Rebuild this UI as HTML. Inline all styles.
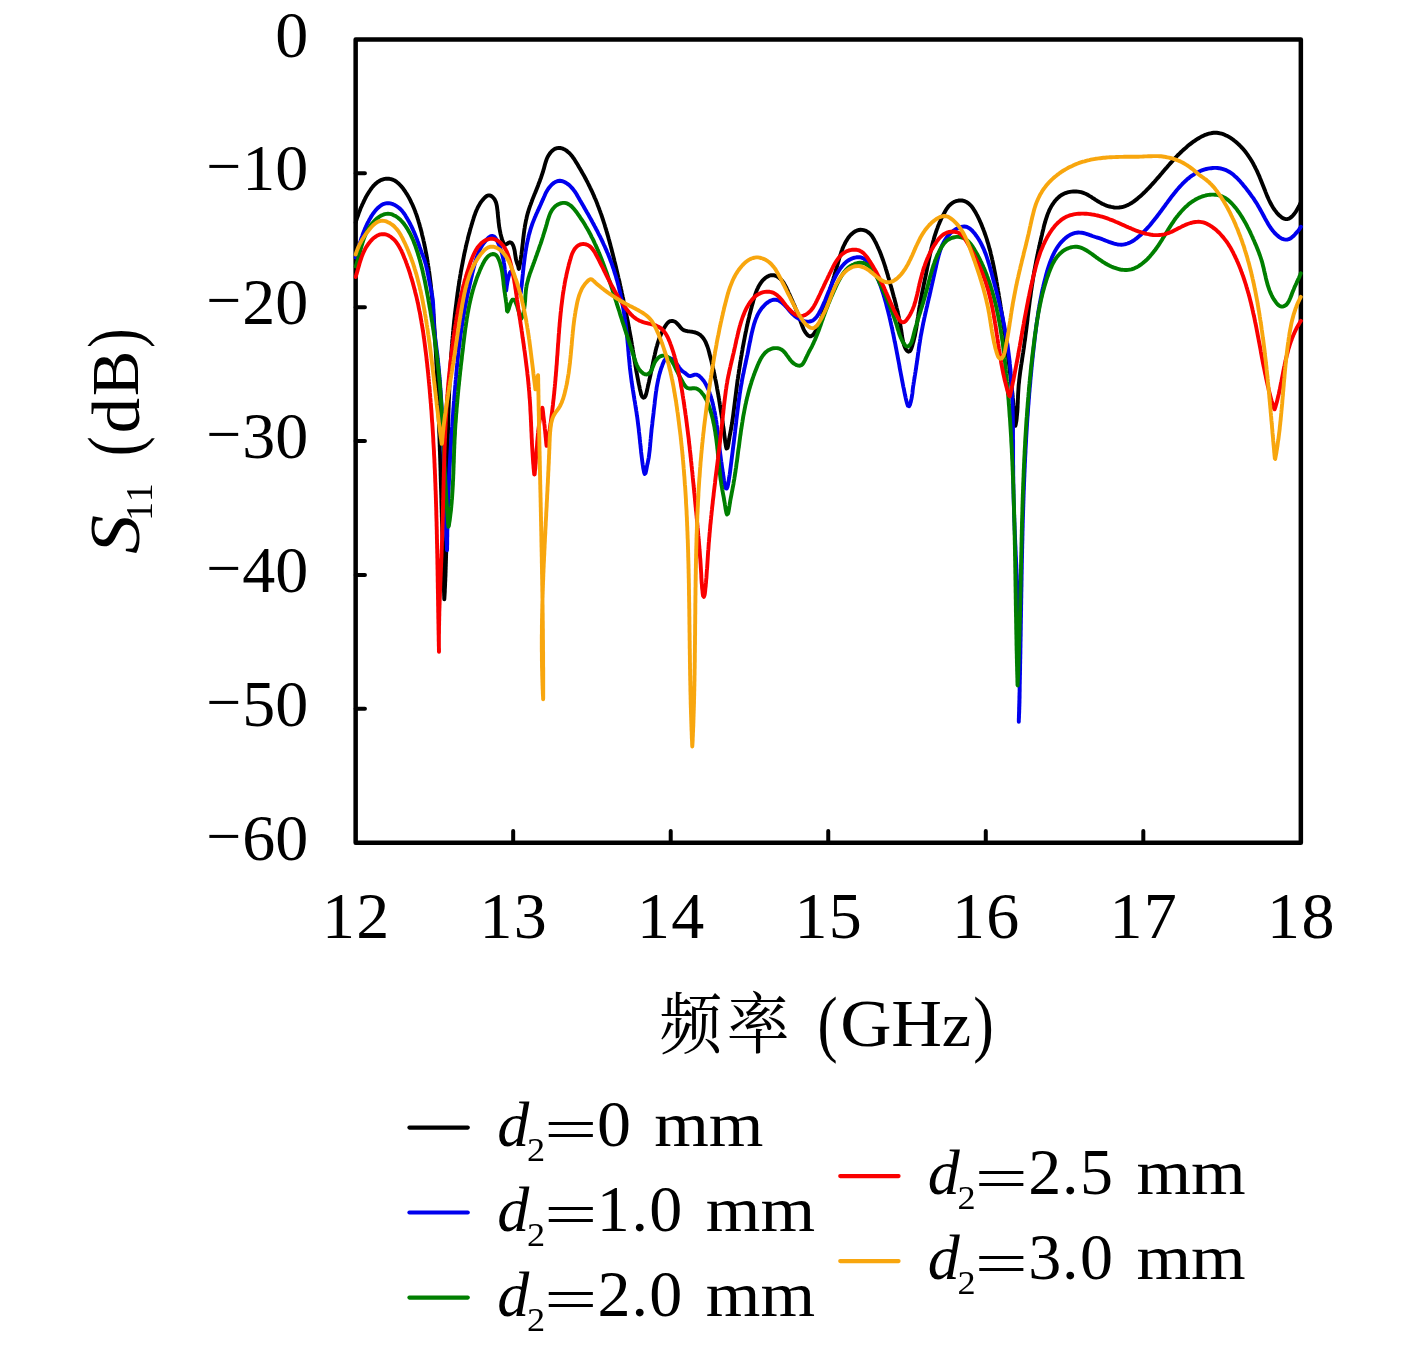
<!DOCTYPE html>
<html lang="zh"><head><meta charset="utf-8">
<style>html,body{margin:0;padding:0;background:#fff}svg{display:block}text{font-family:"Liberation Serif","Noto Serif CJK SC",serif;fill:#000}.cj{font-family:"Noto Serif CJK SC","Liberation Serif",serif}.it{font-style:italic}</style></head><body>
<svg width="1417" height="1350" viewBox="0 0 1417 1350">
<rect width="1417" height="1350" fill="#fff"/>
<rect x="355.65" y="39.50" width="945.20" height="803.20" fill="none" stroke="#000" stroke-width="4.50" stroke-linejoin="round"/>
<path d="M355.65 173.37H364.95M355.65 307.23H364.95M355.65 441.10H364.95M355.65 574.97H364.95M355.65 708.83H364.95M513.18 842.70V831.10M670.72 842.70V831.10M828.25 842.70V831.10M985.78 842.70V831.10M1143.32 842.70V831.10" stroke="#000" stroke-width="4" stroke-linecap="round" fill="none"/>
<g fill="none" stroke-width="3.9" stroke-linejoin="round" stroke-linecap="round">
<path stroke="#000000" d="M355.7 222.5L356.1 221.0 356.6 219.5 357.1 217.9 357.7 216.4 358.2 214.9 358.7 213.4 359.3 211.9 359.9 210.4 360.4 208.9 361.0 207.4 361.7 206.0 362.3 204.5 363.0 203.1 363.7 201.6 364.4 200.2 365.1 198.7 365.8 197.3 366.6 195.9 367.4 194.5 368.2 193.2 369.1 191.8 370.0 190.5 370.9 189.2 371.8 187.9 372.8 186.6 373.9 185.4 375.0 184.3 376.2 183.2 377.4 182.2 378.8 181.3 380.1 180.5 381.6 179.8 383.1 179.3 384.6 178.9 386.2 178.7 387.8 178.6 389.4 178.8 391.0 179.1 392.5 179.6 394.0 180.2 395.3 181.0 396.7 181.9 397.9 182.9 399.1 184.0 400.2 185.2 401.3 186.3 402.3 187.6 403.3 188.8 404.2 190.1 405.1 191.4 406.0 192.8 406.9 194.1 407.7 195.5 408.5 196.9 409.3 198.3 410.0 199.7 410.7 201.1 411.4 202.6 412.1 204.0 412.8 205.5 413.4 206.9 414.0 208.4 414.6 209.9 415.2 211.4 415.7 212.9 416.3 214.4 416.8 215.9 417.3 217.4 417.8 219.0 418.3 220.5 418.7 222.0 419.2 223.6 419.6 225.1 420.0 226.6 420.5 228.2 420.9 229.7 421.3 231.3 421.7 232.8 422.0 234.4 422.4 235.9 422.8 237.5 423.2 239.0 423.5 240.6 423.9 242.2 424.2 243.7 424.5 245.3 424.9 246.9 425.2 248.4 425.5 250.0 425.8 251.6 426.1 253.1 426.4 254.7 426.7 256.3 426.9 257.9 427.2 259.4 427.5 261.0 427.7 262.6 428.0 264.2 428.2 265.8 428.5 267.3 428.7 268.9 428.9 270.5 429.2 272.1 429.4 273.7 429.6 275.3 429.8 276.8 430.0 278.4 430.2 280.0 430.4 281.6 430.6 283.2 430.8 284.8 431.0 286.4 431.1 288.0 431.3 289.6 431.5 291.1 431.6 292.7 431.8 294.3 431.9 295.9 432.1 297.5 432.2 299.1 432.4 300.7 432.5 302.3 432.7 303.9 432.8 305.5 432.9 307.1 433.1 308.7 433.2 310.3 433.3 311.9 433.4 313.5 433.5 315.1 433.7 316.6 433.8 318.2 433.9 319.8 434.0 321.4 434.1 323.0 434.2 324.6 434.3 326.2 434.4 327.8 434.5 329.4 434.6 331.0 434.7 332.6 434.8 334.2 434.9 335.8 435.0 337.4 435.1 339.0 435.2 340.6 435.2 342.2 435.3 343.8 435.4 345.4 435.5 347.0 435.6 348.6 435.7 350.2 435.8 351.8 435.9 353.4 435.9 355.0 436.0 356.6 436.1 358.2 436.2 359.8 436.3 361.4 436.3 363.0 436.4 364.6 436.5 366.2 436.6 367.7 436.7 369.3 436.7 370.9 436.8 372.5 436.9 374.1 437.0 375.7 437.0 377.3 437.1 378.9 437.2 380.5 437.3 382.1 437.3 383.7 437.4 385.3 437.5 386.9 437.5 388.5 437.6 390.1 437.7 391.7 437.8 393.3 437.8 394.9 437.9 396.5 438.0 398.1 438.0 399.7 438.1 401.3 438.2 402.9 438.2 404.5 438.3 406.1 438.3 407.7 438.4 409.3 438.5 410.9 438.5 412.5 438.6 414.1 438.7 415.7 438.7 417.3 438.8 418.9 438.8 420.5 438.9 422.1 439.0 423.7 439.0 425.3 439.1 426.9 439.1 428.5 439.2 430.1 439.2 431.7 439.3 433.3 439.4 434.9 439.4 436.5 439.5 438.1 439.5 439.7 439.6 441.3 439.6 442.9 439.7 444.5 439.7 446.1 439.8 447.7 439.8 449.3 439.9 450.9 440.0 452.5 440.0 454.1 440.1 455.7 440.1 457.3 440.2 458.9 440.2 460.5 440.3 462.1 440.3 463.7 440.4 465.3 440.4 466.9 440.5 468.5 440.5 470.1 440.6 471.6 440.6 473.2 440.6 474.8 440.7 476.4 440.7 478.0 440.8 479.6 440.8 481.2 440.9 482.8 440.9 484.4 441.0 486.0 441.0 487.6 441.1 489.2 441.1 490.8 441.2 492.4 441.2 494.0 441.3 495.6 441.3 497.2 441.4 498.8 441.4 500.4 441.4 502.0 441.5 503.6 441.5 505.2 441.6 506.8 441.6 508.4 441.7 510.0 441.7 511.6 441.8 513.2 441.8 514.8 441.8 516.4 441.9 518.0 441.9 519.6 442.0 521.2 442.0 522.8 442.1 524.4 442.1 526.0 442.2 527.6 442.2 529.2 442.2 530.8 442.3 532.4 442.3 534.0 442.4 535.6 442.4 537.2 442.5 538.8 442.5 540.4 442.6 542.0 442.6 543.6 442.7 545.2 442.7 546.8 442.7 548.4 442.8 550.0 442.8 551.6 442.9 553.2 442.9 554.8 443.0 556.4 443.0 558.0 443.1 559.6 443.1 561.2 443.2 562.8 443.2 564.4 443.2 566.0 443.3 567.6 443.3 569.2 443.4 570.8 443.4 572.4 443.5 574.0 443.5 575.6 443.6 577.2 443.6 578.8 443.7 580.4 443.7 582.0 443.8 583.6 443.8 585.2 443.9 586.8 443.9 588.4 444.0 590.0 444.0 591.6 444.1 593.2 444.1 594.8 444.2 596.4 444.2 598.0 444.3 599.4 444.4 597.8 444.5 596.3 444.6 594.7 444.7 593.1 444.8 591.5 444.8 589.9 444.9 588.3 445.0 586.7 445.1 585.1 445.1 583.5 445.2 581.9 445.3 580.3 445.3 578.7 445.4 577.1 445.5 575.5 445.5 573.9 445.6 572.3 445.6 570.7 445.7 569.1 445.7 567.5 445.8 565.9 445.8 564.3 445.9 562.7 445.9 561.1 446.0 559.5 446.0 557.9 446.1 556.3 446.1 554.7 446.2 553.1 446.2 551.5 446.2 549.9 446.3 548.3 446.3 546.7 446.4 545.1 446.4 543.5 446.4 541.9 446.5 540.3 446.5 538.7 446.5 537.1 446.6 535.5 446.6 533.9 446.6 532.3 446.6 530.7 446.7 529.1 446.7 527.5 446.7 525.9 446.8 524.3 446.8 522.7 446.8 521.1 446.8 519.5 446.8 517.9 446.9 516.3 446.9 514.7 446.9 513.1 446.9 511.5 447.0 509.9 447.0 508.3 447.0 506.7 447.0 505.1 447.0 503.5 447.1 501.9 447.1 500.3 447.1 498.7 447.1 497.1 447.1 495.5 447.1 493.9 447.2 492.3 447.2 490.7 447.2 489.1 447.2 487.5 447.2 485.9 447.2 484.3 447.3 482.7 447.3 481.1 447.3 479.5 447.3 477.9 447.3 476.3 447.3 474.7 447.4 473.1 447.4 471.5 447.4 469.9 447.4 468.3 447.4 466.7 447.5 465.1 447.5 463.5 447.5 461.9 447.5 460.3 447.5 458.7 447.6 457.1 447.6 455.5 447.6 453.9 447.6 452.3 447.7 450.7 447.7 449.1 447.7 447.5 447.7 445.9 447.8 444.3 447.8 442.7 447.8 441.1 447.8 439.5 447.9 437.9 447.9 436.3 447.9 434.7 448.0 433.1 448.0 431.5 448.0 429.9 448.1 428.3 448.1 426.7 448.1 425.1 448.2 423.5 448.2 421.9 448.3 420.3 448.3 418.7 448.3 417.1 448.4 415.5 448.4 413.9 448.5 412.3 448.5 410.7 448.6 409.1 448.6 407.6 448.7 406.0 448.7 404.4 448.8 402.8 448.8 401.2 448.9 399.6 449.0 398.0 449.0 396.4 449.1 394.8 449.1 393.2 449.2 391.6 449.3 390.0 449.3 388.4 449.4 386.8 449.5 385.2 449.6 383.6 449.6 382.0 449.7 380.4 449.8 378.8 449.9 377.2 450.0 375.6 450.0 374.0 450.1 372.4 450.2 370.8 450.3 369.2 450.4 367.6 450.5 366.0 450.6 364.4 450.7 362.8 450.8 361.2 450.9 359.6 451.0 358.0 451.1 356.4 451.2 354.8 451.3 353.2 451.5 351.6 451.6 350.0 451.7 348.4 451.8 346.9 451.9 345.3 452.1 343.7 452.2 342.1 452.3 340.5 452.5 338.9 452.6 337.3 452.8 335.7 452.9 334.1 453.0 332.5 453.2 330.9 453.3 329.3 453.5 327.7 453.7 326.1 453.8 324.5 454.0 323.0 454.1 321.4 454.3 319.8 454.5 318.2 454.7 316.6 454.8 315.0 455.0 313.4 455.2 311.8 455.4 310.2 455.6 308.6 455.8 307.1 456.0 305.5 456.2 303.9 456.4 302.3 456.6 300.7 456.8 299.1 457.0 297.5 457.2 296.0 457.4 294.4 457.6 292.8 457.9 291.2 458.1 289.6 458.3 288.0 458.6 286.5 458.8 284.9 459.0 283.3 459.3 281.7 459.5 280.1 459.8 278.6 460.0 277.0 460.3 275.4 460.6 273.8 460.8 272.2 461.1 270.7 461.4 269.1 461.7 267.5 462.0 265.9 462.3 264.4 462.6 262.8 462.9 261.2 463.2 259.7 463.5 258.1 463.8 256.5 464.1 255.0 464.4 253.4 464.8 251.8 465.1 250.3 465.5 248.7 465.8 247.1 466.2 245.6 466.5 244.0 466.9 242.5 467.3 240.9 467.7 239.4 468.0 237.8 468.4 236.3 468.8 234.7 469.3 233.2 469.7 231.6 470.1 230.1 470.5 228.5 471.0 227.0 471.4 225.5 471.9 223.9 472.3 222.4 472.8 220.9 473.3 219.3 473.7 217.8 474.2 216.3 474.8 214.8 475.3 213.3 475.9 211.8 476.5 210.3 477.2 208.8 477.8 207.4 478.6 206.0 479.4 204.6 480.2 203.2 481.1 201.9 482.1 200.6 483.1 199.4 484.2 198.2 485.3 197.1 486.6 196.1 488.0 195.4 489.6 195.4 491.1 195.9 492.4 196.8 493.5 198.0 494.5 199.2 495.2 200.6 495.9 202.1 496.3 203.6 496.7 205.2 497.0 206.8 497.2 208.4 497.4 209.9 497.6 211.5 497.7 213.1 497.9 214.7 498.0 216.3 498.2 217.9 498.4 219.5 498.5 221.1 498.7 222.7 498.9 224.3 499.1 225.9 499.3 227.4 499.6 229.0 499.9 230.6 500.2 232.2 500.5 233.7 500.9 235.3 501.3 236.8 501.7 238.4 502.2 239.9 502.7 241.4 503.4 242.9 504.2 244.2 505.7 244.6 507.1 243.8 508.4 242.9 509.9 242.3 511.4 242.8 512.4 244.0 513.1 245.4 513.7 246.9 514.1 248.4 514.5 250.0 514.8 251.6 515.0 253.2 515.2 254.7 515.5 256.3 515.7 257.9 516.0 259.5 516.4 261.0 516.9 262.6 517.4 264.1 518.0 265.6 518.4 267.1 518.7 268.7 518.9 269.0 519.2 267.4 519.5 265.8 519.9 264.3 520.1 262.7 520.4 261.1 520.7 259.5 520.9 258.0 521.1 256.4 521.4 254.8 521.6 253.2 521.8 251.6 522.0 250.0 522.1 248.4 522.3 246.9 522.5 245.3 522.7 243.7 522.9 242.1 523.0 240.5 523.2 238.9 523.4 237.3 523.6 235.7 523.8 234.1 524.0 232.6 524.2 231.0 524.4 229.4 524.7 227.8 524.9 226.2 525.2 224.7 525.5 223.1 525.8 221.5 526.1 219.9 526.5 218.4 526.8 216.8 527.2 215.3 527.6 213.7 528.1 212.2 528.5 210.7 529.0 209.1 529.5 207.6 530.0 206.1 530.6 204.6 531.1 203.1 531.7 201.6 532.2 200.1 532.8 198.6 533.4 197.1 534.0 195.6 534.6 194.1 535.2 192.7 535.8 191.2 536.4 189.7 537.0 188.2 537.6 186.7 538.2 185.2 538.7 183.7 539.3 182.2 539.9 180.7 540.4 179.2 541.0 177.7 541.5 176.2 542.0 174.7 542.5 173.2 543.0 171.7 543.4 170.1 543.9 168.6 544.3 167.0 544.7 165.5 545.1 164.0 545.6 162.4 546.1 160.9 546.6 159.4 547.2 157.9 547.9 156.5 548.7 155.1 549.6 153.8 550.6 152.5 551.7 151.3 552.9 150.3 554.2 149.3 555.6 148.6 557.1 148.1 558.7 147.9 560.3 148.0 561.8 148.3 563.3 148.9 564.8 149.6 566.1 150.4 567.4 151.4 568.6 152.4 569.8 153.5 570.9 154.7 571.9 155.9 572.8 157.2 573.8 158.5 574.6 159.8 575.5 161.2 576.3 162.6 577.2 163.9 578.0 165.3 578.8 166.7 579.6 168.1 580.4 169.4 581.2 170.8 582.0 172.2 582.8 173.6 583.6 175.0 584.4 176.4 585.1 177.8 585.9 179.2 586.6 180.6 587.4 182.0 588.1 183.5 588.8 184.9 589.5 186.3 590.2 187.8 590.9 189.2 591.6 190.7 592.3 192.1 592.9 193.6 593.6 195.0 594.2 196.5 594.8 198.0 595.5 199.4 596.1 200.9 596.7 202.4 597.3 203.9 597.8 205.4 598.4 206.9 599.0 208.4 599.5 209.9 600.1 211.4 600.6 212.9 601.2 214.4 601.7 215.9 602.2 217.4 602.7 218.9 603.2 220.4 603.7 222.0 604.2 223.5 604.7 225.0 605.1 226.5 605.6 228.1 606.1 229.6 606.5 231.1 607.0 232.7 607.4 234.2 607.9 235.8 608.3 237.3 608.7 238.8 609.2 240.4 609.6 241.9 610.0 243.5 610.4 245.0 610.8 246.6 611.2 248.1 611.6 249.6 612.0 251.2 612.4 252.7 612.8 254.3 613.2 255.9 613.6 257.4 614.0 259.0 614.3 260.5 614.7 262.1 615.1 263.6 615.5 265.2 615.9 266.7 616.2 268.3 616.6 269.8 617.0 271.4 617.3 273.0 617.7 274.5 618.1 276.1 618.4 277.6 618.8 279.2 619.2 280.7 619.5 282.3 619.9 283.9 620.2 285.4 620.6 287.0 620.9 288.5 621.3 290.1 621.6 291.7 621.9 293.2 622.3 294.8 622.6 296.4 623.0 297.9 623.3 299.5 623.6 301.0 624.0 302.6 624.3 304.2 624.6 305.7 624.9 307.3 625.3 308.9 625.6 310.4 625.9 312.0 626.2 313.6 626.5 315.2 626.8 316.7 627.1 318.3 627.5 319.9 627.8 321.4 628.1 323.0 628.4 324.6 628.7 326.1 628.9 327.7 629.2 329.3 629.5 330.9 629.8 332.4 630.1 334.0 630.4 335.6 630.7 337.2 630.9 338.7 631.2 340.3 631.5 341.9 631.8 343.5 632.0 345.0 632.3 346.6 632.6 348.2 632.8 349.8 633.1 351.4 633.3 352.9 633.6 354.5 633.9 356.1 634.1 357.7 634.4 359.2 634.6 360.8 634.9 362.4 635.2 364.0 635.4 365.6 635.7 367.1 636.0 368.7 636.2 370.3 636.5 371.9 636.8 373.4 637.1 375.0 637.4 376.6 637.7 378.2 638.0 379.7 638.3 381.3 638.6 382.9 638.9 384.4 639.3 386.0 639.6 387.6 639.9 389.1 640.3 390.7 640.7 392.2 641.0 393.8 641.5 395.3 642.2 396.8 643.4 397.7 644.8 397.1 645.6 395.7 646.1 394.2 646.5 392.6 646.9 391.1 647.2 389.5 647.6 387.9 647.9 386.4 648.3 384.8 648.6 383.3 649.0 381.7 649.3 380.1 649.7 378.6 650.0 377.0 650.4 375.5 650.7 373.9 651.0 372.3 651.4 370.8 651.7 369.2 652.0 367.6 652.4 366.1 652.7 364.5 653.0 362.9 653.3 361.4 653.7 359.8 654.0 358.2 654.3 356.7 654.7 355.1 655.0 353.5 655.4 352.0 655.7 350.4 656.1 348.9 656.5 347.3 657.0 345.8 657.4 344.3 657.9 342.7 658.4 341.2 658.9 339.7 659.4 338.2 660.0 336.7 660.6 335.2 661.2 333.7 661.9 332.3 662.6 330.8 663.3 329.4 664.1 328.0 664.9 326.7 665.8 325.3 666.7 324.0 667.8 322.8 669.0 321.8 670.4 321.1 672.0 320.9 673.6 321.2 675.1 321.8 676.4 322.8 677.5 323.9 678.6 325.1 679.6 326.3 680.6 327.6 681.7 328.7 683.0 329.7 684.4 330.4 685.9 330.8 687.5 331.2 689.1 331.4 690.7 331.6 692.3 331.8 693.8 332.1 695.4 332.5 696.9 333.1 698.3 333.8 699.7 334.6 700.9 335.6 702.1 336.7 703.1 337.9 704.0 339.3 704.8 340.6 705.6 342.0 706.2 343.5 706.8 345.0 707.4 346.5 707.9 348.0 708.4 349.5 708.8 351.1 709.2 352.6 709.6 354.2 710.0 355.7 710.4 357.3 710.8 358.8 711.2 360.4 711.6 361.9 711.9 363.5 712.3 365.0 712.7 366.6 713.0 368.2 713.4 369.7 713.7 371.3 714.1 372.8 714.4 374.4 714.7 376.0 715.0 377.5 715.3 379.1 715.7 380.7 716.0 382.2 716.3 383.8 716.6 385.4 716.9 387.0 717.1 388.5 717.4 390.1 717.7 391.7 718.0 393.3 718.3 394.8 718.5 396.4 718.8 398.0 719.1 399.6 719.3 401.1 719.6 402.7 719.8 404.3 720.1 405.9 720.3 407.5 720.6 409.0 720.8 410.6 721.1 412.2 721.3 413.8 721.6 415.4 721.8 416.9 722.1 418.5 722.3 420.1 722.5 421.7 722.8 423.3 723.0 424.9 723.2 426.4 723.5 428.0 723.7 429.6 723.9 431.2 724.1 432.8 724.3 434.4 724.5 435.9 724.7 437.5 724.9 439.1 725.1 440.7 725.3 442.3 725.6 443.9 725.8 445.5 726.1 447.0 726.5 448.6 727.5 448.1 727.9 446.6 728.2 445.0 728.5 443.4 728.7 441.8 729.0 440.2 729.3 438.7 729.5 437.1 729.8 435.5 730.1 434.0 730.4 432.4 730.7 430.8 731.0 429.2 731.3 427.7 731.5 426.1 731.8 424.5 732.1 422.9 732.3 421.3 732.5 419.8 732.8 418.2 733.0 416.6 733.2 415.0 733.4 413.4 733.6 411.8 733.8 410.2 734.0 408.7 734.2 407.1 734.4 405.5 734.6 403.9 734.8 402.3 735.0 400.7 735.2 399.1 735.4 397.5 735.6 396.0 735.8 394.4 736.0 392.8 736.2 391.2 736.4 389.6 736.6 388.0 736.8 386.4 737.0 384.9 737.2 383.3 737.4 381.7 737.6 380.1 737.9 378.5 738.1 376.9 738.3 375.3 738.6 373.8 738.8 372.2 739.0 370.6 739.3 369.0 739.5 367.4 739.8 365.9 740.0 364.3 740.3 362.7 740.5 361.1 740.8 359.5 741.0 358.0 741.3 356.4 741.6 354.8 741.8 353.2 742.1 351.7 742.4 350.1 742.6 348.5 742.9 346.9 743.2 345.4 743.5 343.8 743.8 342.2 744.1 340.6 744.4 339.1 744.7 337.5 745.0 335.9 745.3 334.4 745.6 332.8 746.0 331.2 746.3 329.7 746.6 328.1 746.9 326.5 747.3 325.0 747.6 323.4 748.0 321.8 748.3 320.3 748.7 318.7 749.1 317.2 749.4 315.6 749.8 314.1 750.2 312.5 750.6 311.0 751.0 309.4 751.4 307.9 751.8 306.3 752.2 304.8 752.7 303.2 753.1 301.7 753.5 300.1 754.0 298.6 754.5 297.1 754.9 295.6 755.4 294.0 756.0 292.5 756.5 291.0 757.1 289.5 757.8 288.1 758.5 286.6 759.3 285.2 760.1 283.9 761.0 282.6 762.0 281.3 763.0 280.1 764.2 279.0 765.4 277.9 766.7 277.0 768.1 276.2 769.5 275.6 771.1 275.2 772.7 275.1 774.3 275.3 775.8 275.8 777.2 276.5 778.6 277.4 779.8 278.4 781.0 279.5 782.0 280.6 783.0 281.9 783.9 283.2 784.7 284.6 785.5 286.0 786.2 287.4 786.9 288.9 787.6 290.3 788.2 291.8 788.9 293.3 789.6 294.7 790.2 296.2 790.9 297.6 791.5 299.1 792.2 300.5 792.8 302.0 793.5 303.5 794.1 304.9 794.8 306.4 795.4 307.9 796.0 309.4 796.6 310.8 797.2 312.3 797.8 313.8 798.4 315.3 799.0 316.8 799.5 318.3 800.1 319.8 800.6 321.3 801.1 322.8 801.7 324.3 802.2 325.8 802.8 327.3 803.4 328.8 804.1 330.2 804.9 331.6 805.8 332.9 806.8 334.2 807.9 335.3 809.3 336.2 810.8 336.3 812.2 335.6 813.4 334.5 814.3 333.2 815.2 331.9 816.0 330.5 816.8 329.1 817.6 327.7 818.3 326.3 818.9 324.8 819.5 323.3 820.1 321.8 820.7 320.3 821.2 318.8 821.7 317.3 822.2 315.8 822.7 314.3 823.1 312.7 823.6 311.2 824.0 309.7 824.5 308.1 824.9 306.6 825.4 305.1 825.8 303.5 826.3 302.0 826.8 300.5 827.2 298.9 827.7 297.4 828.1 295.9 828.6 294.3 829.1 292.8 829.5 291.3 830.0 289.7 830.5 288.2 830.9 286.7 831.4 285.2 831.9 283.6 832.3 282.1 832.8 280.6 833.3 279.0 833.7 277.5 834.2 276.0 834.6 274.4 835.1 272.9 835.6 271.4 836.0 269.8 836.5 268.3 836.9 266.8 837.3 265.2 837.8 263.7 838.2 262.1 838.7 260.6 839.1 259.1 839.5 257.5 840.0 256.0 840.5 254.5 841.0 253.0 841.5 251.4 842.1 249.9 842.6 248.5 843.2 247.0 843.9 245.5 844.6 244.1 845.3 242.6 846.1 241.2 846.9 239.9 847.8 238.5 848.7 237.2 849.7 236.0 850.8 234.8 852.0 233.7 853.2 232.7 854.5 231.8 855.9 231.0 857.4 230.4 858.9 230.0 860.5 229.8 862.1 229.9 863.7 230.2 865.2 230.6 866.7 231.3 868.0 232.1 869.3 233.1 870.4 234.2 871.5 235.4 872.4 236.7 873.3 238.1 874.1 239.5 874.8 240.9 875.6 242.3 876.3 243.7 877.0 245.2 877.6 246.6 878.3 248.1 878.9 249.5 879.6 251.0 880.2 252.5 880.8 254.0 881.3 255.5 881.9 257.0 882.4 258.5 883.0 260.0 883.5 261.5 884.0 263.0 884.5 264.5 885.0 266.0 885.5 267.6 885.9 269.1 886.4 270.6 886.9 272.2 887.3 273.7 887.8 275.2 888.2 276.8 888.7 278.3 889.1 279.8 889.6 281.4 890.0 282.9 890.4 284.5 890.9 286.0 891.3 287.5 891.7 289.1 892.2 290.6 892.6 292.2 893.0 293.7 893.4 295.2 893.8 296.8 894.3 298.3 894.7 299.9 895.1 301.4 895.5 303.0 895.9 304.5 896.3 306.1 896.6 307.6 897.0 309.2 897.4 310.7 897.7 312.3 898.1 313.9 898.4 315.4 898.7 317.0 899.1 318.6 899.4 320.1 899.7 321.7 900.0 323.3 900.3 324.8 900.5 326.4 900.8 328.0 901.1 329.6 901.3 331.2 901.6 332.7 901.8 334.3 902.0 335.9 902.3 337.5 902.6 339.1 902.9 340.6 903.2 342.2 903.7 343.7 904.1 345.3 904.7 346.8 905.3 348.2 906.1 349.6 907.1 350.9 908.4 351.7 909.9 351.2 910.8 349.9 911.4 348.4 911.9 346.9 912.4 345.3 912.8 343.8 913.2 342.3 913.7 340.7 914.0 339.2 914.4 337.6 914.8 336.0 915.1 334.5 915.4 332.9 915.7 331.3 916.0 329.8 916.3 328.2 916.5 326.6 916.8 325.0 917.0 323.5 917.3 321.9 917.5 320.3 917.7 318.7 918.0 317.1 918.2 315.5 918.4 314.0 918.7 312.4 918.9 310.8 919.2 309.2 919.4 307.6 919.7 306.1 920.0 304.5 920.2 302.9 920.5 301.3 920.8 299.8 921.1 298.2 921.4 296.6 921.7 295.0 922.0 293.5 922.3 291.9 922.7 290.3 923.0 288.8 923.3 287.2 923.6 285.6 923.9 284.1 924.3 282.5 924.6 280.9 924.9 279.4 925.2 277.8 925.6 276.2 925.9 274.7 926.2 273.1 926.5 271.5 926.8 270.0 927.1 268.4 927.4 266.8 927.8 265.3 928.1 263.7 928.4 262.1 928.7 260.6 929.0 259.0 929.4 257.4 929.7 255.9 930.0 254.3 930.4 252.7 930.7 251.2 931.1 249.6 931.5 248.1 931.8 246.5 932.2 245.0 932.6 243.4 933.0 241.9 933.5 240.3 933.9 238.8 934.3 237.2 934.8 235.7 935.3 234.2 935.8 232.7 936.3 231.1 936.8 229.6 937.4 228.1 937.9 226.6 938.5 225.1 939.1 223.7 939.7 222.2 940.4 220.7 941.0 219.3 941.7 217.8 942.4 216.4 943.2 215.0 943.9 213.6 944.7 212.2 945.5 210.8 946.3 209.4 947.2 208.1 948.2 206.8 949.2 205.6 950.4 204.5 951.6 203.5 952.9 202.6 954.4 201.8 955.8 201.2 957.4 200.8 958.9 200.5 960.5 200.4 962.1 200.5 963.7 200.9 965.2 201.4 966.6 202.1 968.0 203.0 969.2 204.0 970.4 205.1 971.5 206.3 972.5 207.6 973.4 208.9 974.2 210.2 975.1 211.6 975.9 213.0 976.6 214.4 977.4 215.8 978.1 217.2 978.8 218.7 979.5 220.1 980.1 221.6 980.8 223.0 981.4 224.5 982.0 226.0 982.6 227.5 983.2 228.9 983.7 230.4 984.3 231.9 984.8 233.5 985.4 235.0 985.9 236.5 986.4 238.0 986.9 239.5 987.3 241.1 987.8 242.6 988.3 244.1 988.7 245.7 989.1 247.2 989.5 248.7 990.0 250.3 990.4 251.8 990.7 253.4 991.1 254.9 991.5 256.5 991.9 258.1 992.2 259.6 992.6 261.2 992.9 262.7 993.2 264.3 993.6 265.9 993.9 267.4 994.2 269.0 994.5 270.6 994.8 272.1 995.1 273.7 995.4 275.3 995.7 276.9 996.0 278.4 996.3 280.0 996.5 281.6 996.8 283.2 997.1 284.7 997.3 286.3 997.6 287.9 997.9 289.5 998.1 291.0 998.4 292.6 998.7 294.2 998.9 295.8 999.2 297.4 999.4 298.9 999.7 300.5 1000.0 302.1 1000.2 303.7 1000.5 305.3 1000.7 306.8 1001.0 308.4 1001.2 310.0 1001.5 311.6 1001.7 313.2 1002.0 314.7 1002.2 316.3 1002.5 317.9 1002.7 319.5 1002.9 321.1 1003.2 322.6 1003.4 324.2 1003.7 325.8 1003.9 327.4 1004.1 329.0 1004.4 330.5 1004.6 332.1 1004.8 333.7 1005.1 335.3 1005.3 336.9 1005.5 338.5 1005.7 340.0 1006.0 341.6 1006.2 343.2 1006.4 344.8 1006.6 346.4 1006.9 348.0 1007.1 349.6 1007.3 351.1 1007.5 352.7 1007.7 354.3 1007.9 355.9 1008.1 357.5 1008.3 359.1 1008.5 360.7 1008.8 362.2 1009.0 363.8 1009.2 365.4 1009.4 367.0 1009.5 368.6 1009.7 370.2 1009.9 371.8 1010.1 373.4 1010.3 374.9 1010.5 376.5 1010.7 378.1 1010.9 379.7 1011.1 381.3 1011.2 382.9 1011.4 384.5 1011.6 386.1 1011.8 387.7 1011.9 389.2 1012.1 390.8 1012.3 392.4 1012.4 394.0 1012.6 395.6 1012.7 397.2 1012.9 398.8 1013.1 400.4 1013.2 402.0 1013.4 403.6 1013.5 405.2 1013.7 406.8 1013.8 408.3 1013.9 409.9 1014.1 411.5 1014.2 413.1 1014.4 414.7 1014.5 416.3 1014.6 417.9 1014.7 419.5 1014.9 421.1 1015.0 422.7 1015.1 424.3 1015.3 425.9 1015.7 424.6 1016.0 423.0 1016.3 421.4 1016.5 419.9 1016.7 418.3 1016.8 416.7 1017.0 415.1 1017.1 413.5 1017.3 411.9 1017.4 410.3 1017.5 408.7 1017.6 407.1 1017.6 405.5 1017.7 403.9 1017.8 402.3 1017.8 400.7 1017.9 399.1 1018.0 397.5 1018.0 395.9 1018.1 394.3 1018.2 392.7 1018.3 391.1 1018.4 389.5 1018.5 387.9 1018.6 386.3 1018.7 384.8 1018.9 383.2 1019.1 381.6 1019.2 380.0 1019.4 378.4 1019.6 376.8 1019.8 375.2 1020.0 373.6 1020.2 372.0 1020.4 370.5 1020.7 368.9 1020.9 367.3 1021.1 365.7 1021.4 364.1 1021.6 362.5 1021.9 361.0 1022.1 359.4 1022.3 357.8 1022.6 356.2 1022.8 354.6 1023.1 353.1 1023.3 351.5 1023.5 349.9 1023.8 348.3 1024.0 346.7 1024.2 345.1 1024.4 343.6 1024.6 342.0 1024.9 340.4 1025.1 338.8 1025.3 337.2 1025.5 335.6 1025.7 334.0 1025.9 332.5 1026.1 330.9 1026.3 329.3 1026.5 327.7 1026.7 326.1 1026.9 324.5 1027.1 322.9 1027.3 321.3 1027.5 319.8 1027.6 318.2 1027.8 316.6 1028.0 315.0 1028.2 313.4 1028.4 311.8 1028.6 310.2 1028.8 308.6 1029.0 307.1 1029.2 305.5 1029.4 303.9 1029.6 302.3 1029.8 300.7 1030.0 299.1 1030.3 297.5 1030.5 296.0 1030.7 294.4 1030.9 292.8 1031.1 291.2 1031.4 289.6 1031.6 288.0 1031.8 286.4 1032.1 284.9 1032.3 283.3 1032.6 281.7 1032.8 280.1 1033.1 278.5 1033.3 277.0 1033.6 275.4 1033.9 273.8 1034.2 272.2 1034.4 270.7 1034.7 269.1 1035.0 267.5 1035.3 265.9 1035.6 264.4 1035.9 262.8 1036.2 261.2 1036.5 259.7 1036.8 258.1 1037.1 256.5 1037.5 255.0 1037.8 253.4 1038.1 251.8 1038.4 250.3 1038.8 248.7 1039.1 247.1 1039.5 245.6 1039.8 244.0 1040.2 242.5 1040.5 240.9 1040.9 239.3 1041.2 237.8 1041.6 236.2 1042.0 234.7 1042.3 233.1 1042.7 231.5 1043.1 230.0 1043.5 228.4 1043.8 226.9 1044.2 225.3 1044.6 223.8 1045.1 222.2 1045.5 220.7 1046.0 219.2 1046.5 217.7 1047.0 216.1 1047.5 214.6 1048.1 213.1 1048.7 211.7 1049.3 210.2 1050.0 208.8 1050.8 207.3 1051.6 205.9 1052.4 204.6 1053.3 203.3 1054.2 202.0 1055.2 200.7 1056.3 199.5 1057.4 198.4 1058.6 197.3 1059.8 196.2 1061.1 195.3 1062.5 194.5 1063.9 193.8 1065.4 193.1 1066.9 192.6 1068.4 192.2 1070.0 191.9 1071.6 191.6 1073.2 191.5 1074.8 191.5 1076.4 191.5 1077.9 191.6 1079.5 191.9 1081.1 192.2 1082.6 192.7 1084.1 193.2 1085.6 193.8 1087.1 194.5 1088.5 195.3 1089.8 196.1 1091.2 196.9 1092.5 197.8 1093.9 198.7 1095.2 199.6 1096.5 200.4 1097.9 201.3 1099.3 202.1 1100.7 202.9 1102.1 203.7 1103.5 204.3 1105.0 205.0 1106.5 205.6 1108.0 206.1 1109.5 206.5 1111.1 206.9 1112.6 207.2 1114.2 207.5 1115.8 207.6 1117.4 207.6 1119.0 207.5 1120.6 207.3 1122.2 207.0 1123.7 206.6 1125.2 206.1 1126.7 205.5 1128.2 204.9 1129.6 204.1 1131.0 203.3 1132.3 202.5 1133.6 201.6 1134.9 200.6 1136.2 199.6 1137.5 198.6 1138.7 197.6 1139.9 196.6 1141.1 195.5 1142.3 194.4 1143.4 193.3 1144.6 192.2 1145.7 191.1 1146.8 189.9 1148.0 188.8 1149.1 187.6 1150.2 186.5 1151.2 185.3 1152.3 184.1 1153.4 182.9 1154.5 181.7 1155.5 180.5 1156.6 179.3 1157.6 178.1 1158.7 176.9 1159.7 175.7 1160.7 174.5 1161.8 173.3 1162.8 172.1 1163.9 170.8 1164.9 169.6 1165.9 168.4 1167.0 167.2 1168.0 166.0 1169.1 164.8 1170.1 163.6 1171.2 162.4 1172.3 161.2 1173.3 160.0 1174.4 158.8 1175.5 157.7 1176.6 156.5 1177.7 155.3 1178.9 154.2 1180.0 153.1 1181.1 152.0 1182.3 150.9 1183.5 149.8 1184.7 148.7 1185.9 147.7 1187.1 146.6 1188.3 145.6 1189.5 144.6 1190.8 143.6 1192.1 142.6 1193.4 141.7 1194.7 140.8 1196.0 139.9 1197.3 139.0 1198.7 138.2 1200.1 137.4 1201.5 136.6 1202.9 135.9 1204.4 135.2 1205.9 134.7 1207.4 134.1 1208.9 133.7 1210.5 133.3 1212.1 133.0 1213.6 132.8 1215.2 132.8 1216.8 132.8 1218.4 133.0 1220.0 133.3 1221.6 133.7 1223.1 134.1 1224.6 134.7 1226.0 135.4 1227.5 136.1 1228.9 136.9 1230.2 137.7 1231.6 138.6 1232.9 139.5 1234.1 140.5 1235.4 141.5 1236.6 142.5 1237.8 143.6 1239.0 144.7 1240.1 145.8 1241.2 147.0 1242.3 148.1 1243.3 149.3 1244.4 150.6 1245.4 151.8 1246.4 153.1 1247.3 154.3 1248.2 155.7 1249.1 157.0 1250.0 158.3 1250.9 159.7 1251.7 161.0 1252.5 162.4 1253.3 163.8 1254.0 165.2 1254.8 166.6 1255.5 168.1 1256.2 169.5 1256.9 170.9 1257.6 172.4 1258.2 173.9 1258.9 175.3 1259.5 176.8 1260.1 178.3 1260.7 179.7 1261.3 181.2 1261.9 182.7 1262.5 184.2 1263.1 185.7 1263.7 187.2 1264.3 188.7 1264.9 190.2 1265.4 191.6 1266.0 193.1 1266.6 194.6 1267.2 196.1 1267.9 197.6 1268.5 199.0 1269.2 200.5 1269.9 201.9 1270.6 203.3 1271.4 204.7 1272.2 206.1 1273.0 207.5 1273.9 208.8 1274.8 210.1 1275.8 211.4 1276.8 212.7 1277.8 213.9 1278.9 215.0 1280.1 216.1 1281.3 217.1 1282.7 218.0 1284.1 218.7 1285.7 219.1 1287.2 219.1 1288.8 218.7 1290.2 217.9 1291.5 216.9 1292.6 215.8 1293.7 214.6 1294.6 213.4 1295.6 212.1 1296.4 210.7 1297.3 209.3 1298.0 207.9 1298.8 206.5 1299.5 205.1 1300.2 203.6 1300.9 202.2"/>
<path stroke="#0000ee" d="M355.7 257.5L356.1 256.0 356.6 254.4 357.0 252.9 357.5 251.4 357.9 249.8 358.3 248.3 358.8 246.8 359.2 245.2 359.7 243.7 360.2 242.2 360.6 240.6 361.1 239.1 361.6 237.6 362.2 236.1 362.7 234.6 363.2 233.1 363.8 231.6 364.4 230.1 365.0 228.6 365.7 227.1 366.3 225.7 367.0 224.2 367.7 222.8 368.5 221.4 369.2 220.0 370.0 218.6 370.8 217.2 371.6 215.8 372.5 214.5 373.4 213.2 374.4 211.9 375.4 210.6 376.4 209.4 377.5 208.3 378.7 207.2 379.9 206.2 381.2 205.2 382.6 204.4 384.1 203.8 385.6 203.4 387.2 203.2 388.8 203.2 390.4 203.4 391.9 203.8 393.4 204.4 394.9 205.1 396.2 205.9 397.6 206.8 398.8 207.7 400.0 208.8 401.2 209.9 402.2 211.1 403.2 212.4 404.2 213.7 405.1 215.0 405.9 216.4 406.7 217.7 407.5 219.1 408.3 220.5 409.1 221.9 409.8 223.3 410.6 224.7 411.3 226.2 412.0 227.6 412.7 229.1 413.3 230.5 414.0 232.0 414.6 233.4 415.2 234.9 415.8 236.4 416.4 237.9 417.0 239.4 417.5 240.9 418.1 242.4 418.6 243.9 419.1 245.4 419.6 246.9 420.2 248.4 420.7 250.0 421.2 251.5 421.8 253.0 422.4 254.4 423.0 255.9 423.5 257.4 424.1 258.9 424.6 260.4 425.1 262.0 425.5 263.5 426.0 265.0 426.3 266.6 426.7 268.2 427.1 269.7 427.4 271.3 427.7 272.9 428.0 274.4 428.3 276.0 428.6 277.6 428.9 279.1 429.2 280.7 429.5 282.3 429.8 283.8 430.1 285.4 430.5 287.0 430.8 288.5 431.1 290.1 431.4 291.7 431.7 293.3 432.0 294.8 432.3 296.4 432.5 298.0 432.7 299.6 432.9 301.2 433.0 302.8 433.2 304.4 433.2 305.9 433.3 307.5 433.4 309.1 433.4 310.7 433.4 312.3 433.5 313.9 433.5 315.5 433.5 317.1 433.6 318.7 433.6 320.3 433.7 321.9 433.8 323.5 433.9 325.1 434.0 326.7 434.1 328.3 434.3 329.9 434.5 331.5 434.6 333.1 434.8 334.7 435.0 336.3 435.2 337.9 435.4 339.4 435.6 341.0 435.8 342.6 436.0 344.2 436.2 345.8 436.4 347.4 436.6 349.0 436.8 350.6 437.0 352.1 437.2 353.7 437.4 355.3 437.6 356.9 437.7 358.5 437.9 360.1 438.1 361.7 438.2 363.3 438.4 364.9 438.5 366.5 438.7 368.1 438.9 369.6 439.0 371.2 439.1 372.8 439.3 374.4 439.4 376.0 439.6 377.6 439.7 379.2 439.8 380.8 440.0 382.4 440.1 384.0 440.2 385.6 440.3 387.2 440.4 388.8 440.6 390.4 440.7 392.0 440.8 393.6 440.9 395.2 441.0 396.8 441.1 398.3 441.2 399.9 441.3 401.5 441.4 403.1 441.5 404.7 441.6 406.3 441.7 407.9 441.8 409.5 441.9 411.1 441.9 412.7 442.0 414.3 442.1 415.9 442.2 417.5 442.3 419.1 442.3 420.7 442.4 422.3 442.5 423.9 442.6 425.5 442.6 427.1 442.7 428.7 442.8 430.3 442.8 431.9 442.9 433.5 443.0 435.1 443.0 436.7 443.1 438.3 443.1 439.9 443.2 441.5 443.3 443.1 443.3 444.7 443.4 446.3 443.4 447.9 443.5 449.5 443.5 451.1 443.6 452.7 443.6 454.3 443.7 455.9 443.7 457.5 443.8 459.1 443.8 460.7 443.9 462.3 443.9 463.9 444.0 465.5 444.0 467.1 444.1 468.7 444.1 470.3 444.2 471.9 444.2 473.5 444.3 475.1 444.3 476.7 444.4 478.3 444.4 479.9 444.4 481.5 444.5 483.1 444.5 484.7 444.6 486.3 444.6 487.9 444.7 489.5 444.7 491.1 444.8 492.7 444.8 494.3 444.9 495.9 444.9 497.5 445.0 499.0 445.0 500.6 445.1 502.2 445.1 503.8 445.2 505.4 445.2 507.0 445.3 508.6 445.3 510.2 445.4 511.8 445.4 513.4 445.5 515.0 445.5 516.6 445.6 518.2 445.7 519.8 445.7 521.4 445.8 523.0 445.8 524.6 445.9 526.2 446.0 527.8 446.0 529.4 446.1 531.0 446.2 532.6 446.2 534.2 446.3 535.8 446.4 537.4 446.5 539.0 446.5 540.6 446.6 542.2 446.7 543.8 446.8 545.4 446.9 547.0 446.9 548.6 447.0 550.2 447.1 549.2 447.1 547.6 447.1 546.0 447.2 544.4 447.2 542.8 447.2 541.2 447.2 539.6 447.2 538.0 447.3 536.4 447.3 534.8 447.3 533.2 447.3 531.6 447.4 530.0 447.4 528.4 447.4 526.8 447.5 525.2 447.5 523.6 447.6 522.0 447.6 520.4 447.6 518.8 447.7 517.3 447.7 515.7 447.8 514.1 447.8 512.5 447.9 510.9 447.9 509.3 448.0 507.7 448.0 506.1 448.1 504.5 448.1 502.9 448.2 501.3 448.2 499.7 448.3 498.1 448.3 496.5 448.4 494.9 448.5 493.3 448.5 491.7 448.6 490.1 448.7 488.5 448.7 486.9 448.8 485.3 448.9 483.7 448.9 482.1 449.0 480.5 449.1 478.9 449.1 477.3 449.2 475.7 449.3 474.1 449.4 472.5 449.5 470.9 449.5 469.3 449.6 467.7 449.7 466.1 449.8 464.5 449.9 462.9 450.0 461.3 450.0 459.7 450.1 458.1 450.2 456.5 450.3 454.9 450.4 453.3 450.5 451.7 450.6 450.1 450.7 448.5 450.8 446.9 450.9 445.3 451.0 443.7 451.1 442.1 451.2 440.6 451.3 439.0 451.4 437.4 451.5 435.8 451.6 434.2 451.7 432.6 451.8 431.0 451.9 429.4 452.0 427.8 452.2 426.2 452.3 424.6 452.4 423.0 452.5 421.4 452.6 419.8 452.7 418.2 452.8 416.6 453.0 415.0 453.1 413.4 453.2 411.8 453.3 410.2 453.4 408.6 453.6 407.0 453.7 405.4 453.8 403.9 453.9 402.3 454.1 400.7 454.2 399.1 454.3 397.5 454.4 395.9 454.6 394.3 454.7 392.7 454.8 391.1 455.0 389.5 455.1 387.9 455.2 386.3 455.4 384.7 455.5 383.1 455.6 381.5 455.8 379.9 455.9 378.3 456.1 376.7 456.2 375.2 456.3 373.6 456.5 372.0 456.6 370.4 456.8 368.8 456.9 367.2 457.1 365.6 457.2 364.0 457.4 362.4 457.5 360.8 457.7 359.2 457.9 357.6 458.0 356.0 458.2 354.5 458.4 352.9 458.5 351.3 458.7 349.7 458.9 348.1 459.1 346.5 459.3 344.9 459.5 343.3 459.7 341.7 459.9 340.2 460.1 338.6 460.3 337.0 460.5 335.4 460.7 333.8 461.0 332.2 461.2 330.7 461.4 329.1 461.7 327.5 461.9 325.9 462.2 324.3 462.4 322.7 462.7 321.2 462.9 319.6 463.2 318.0 463.4 316.4 463.7 314.9 464.0 313.3 464.3 311.7 464.5 310.1 464.8 308.6 465.1 307.0 465.4 305.4 465.7 303.8 466.0 302.3 466.3 300.7 466.6 299.1 466.9 297.6 467.3 296.0 467.6 294.4 467.9 292.9 468.2 291.3 468.6 289.7 468.9 288.2 469.3 286.6 469.6 285.0 470.0 283.5 470.3 281.9 470.7 280.4 471.0 278.8 471.4 277.2 471.8 275.7 472.1 274.1 472.5 272.6 472.9 271.0 473.3 269.5 473.7 267.9 474.1 266.4 474.5 264.8 474.9 263.3 475.4 261.7 475.8 260.2 476.3 258.7 476.8 257.2 477.3 255.7 477.9 254.2 478.5 252.7 479.1 251.2 479.8 249.8 480.5 248.3 481.3 246.9 482.1 245.6 483.0 244.2 483.9 242.9 484.9 241.7 485.9 240.4 487.0 239.2 488.1 238.1 489.3 237.1 490.7 236.2 492.2 235.9 493.8 236.3 495.0 237.4 495.9 238.7 496.7 240.0 497.5 241.5 498.1 242.9 498.8 244.4 499.4 245.8 500.0 247.3 500.5 248.8 501.0 250.4 501.5 251.9 502.0 253.4 502.4 255.0 502.7 256.5 503.1 258.1 503.4 259.6 503.7 261.2 503.9 262.8 504.2 264.4 504.4 266.0 504.6 267.6 504.7 269.2 504.9 270.7 505.0 272.3 505.1 273.9 505.2 275.5 505.3 277.1 505.4 278.7 505.4 280.3 505.5 281.9 505.6 283.5 505.7 285.1 505.7 286.7 505.8 288.3 505.9 289.9 506.2 290.5 506.4 289.0 506.6 287.4 506.8 285.8 507.1 284.2 507.3 282.6 507.6 281.1 508.0 279.5 508.3 277.9 508.7 276.4 509.1 274.8 509.6 273.3 510.4 271.9 511.7 271.6 512.7 272.9 513.3 274.3 513.8 275.8 514.4 277.4 514.9 278.9 515.3 280.4 515.8 281.9 516.2 283.5 516.7 285.0 517.1 286.5 517.6 288.1 518.1 289.6 518.7 291.1 519.3 292.6 520.1 293.9 520.8 292.8 521.0 291.2 521.1 289.6 521.3 288.0 521.5 286.5 521.7 284.9 521.9 283.3 522.0 281.7 522.2 280.1 522.4 278.5 522.5 276.9 522.7 275.3 522.9 273.7 523.0 272.1 523.2 270.5 523.4 269.0 523.5 267.4 523.7 265.8 523.9 264.2 524.1 262.6 524.3 261.0 524.5 259.4 524.7 257.8 524.9 256.3 525.1 254.7 525.4 253.1 525.6 251.5 525.9 249.9 526.1 248.4 526.4 246.8 526.7 245.2 527.0 243.6 527.3 242.1 527.7 240.5 528.0 238.9 528.4 237.4 528.7 235.8 529.1 234.3 529.6 232.7 530.0 231.2 530.4 229.7 530.9 228.1 531.4 226.6 531.9 225.1 532.4 223.6 533.0 222.1 533.6 220.6 534.2 219.1 534.8 217.6 535.4 216.2 536.0 214.7 536.7 213.2 537.4 211.8 538.0 210.3 538.7 208.9 539.4 207.4 540.0 206.0 540.7 204.5 541.3 203.0 542.0 201.6 542.6 200.1 543.3 198.6 543.9 197.2 544.6 195.7 545.2 194.3 545.9 192.8 546.7 191.4 547.5 190.0 548.4 188.7 549.3 187.4 550.3 186.2 551.4 185.0 552.6 183.9 553.9 182.9 555.2 182.1 556.7 181.4 558.2 181.0 559.8 180.8 561.4 181.0 562.9 181.4 564.4 182.0 565.8 182.8 567.2 183.6 568.5 184.6 569.7 185.6 570.8 186.7 571.9 187.9 573.0 189.1 573.9 190.3 574.9 191.6 575.8 193.0 576.6 194.3 577.4 195.7 578.2 197.1 579.0 198.5 579.8 199.9 580.6 201.2 581.4 202.6 582.2 204.0 583.0 205.4 583.8 206.8 584.6 208.2 585.4 209.6 586.2 211.0 587.0 212.4 587.8 213.7 588.6 215.1 589.3 216.5 590.1 217.9 590.9 219.3 591.7 220.7 592.4 222.1 593.2 223.5 594.0 225.0 594.7 226.4 595.5 227.8 596.2 229.2 597.0 230.6 597.7 232.0 598.4 233.5 599.1 234.9 599.9 236.3 600.6 237.7 601.3 239.2 602.0 240.6 602.7 242.1 603.3 243.5 604.0 245.0 604.7 246.4 605.3 247.9 606.0 249.3 606.6 250.8 607.2 252.3 607.9 253.8 608.5 255.2 609.1 256.7 609.7 258.2 610.2 259.7 610.8 261.2 611.4 262.7 611.9 264.2 612.4 265.7 612.9 267.2 613.5 268.7 614.0 270.3 614.4 271.8 614.9 273.3 615.4 274.8 615.9 276.4 616.3 277.9 616.7 279.4 617.2 281.0 617.6 282.5 618.0 284.1 618.4 285.6 618.8 287.2 619.2 288.7 619.5 290.3 619.9 291.8 620.3 293.4 620.6 295.0 620.9 296.5 621.3 298.1 621.6 299.7 621.9 301.2 622.2 302.8 622.5 304.4 622.8 305.9 623.1 307.5 623.4 309.1 623.6 310.7 623.9 312.2 624.1 313.8 624.4 315.4 624.6 317.0 624.8 318.6 625.1 320.2 625.3 321.7 625.5 323.3 625.7 324.9 625.9 326.5 626.1 328.1 626.3 329.7 626.5 331.3 626.7 332.9 626.8 334.4 627.0 336.0 627.2 337.6 627.3 339.2 627.5 340.8 627.6 342.4 627.8 344.0 627.9 345.6 628.1 347.2 628.2 348.8 628.3 350.4 628.5 352.0 628.6 353.6 628.7 355.2 628.9 356.7 629.0 358.3 629.2 359.9 629.3 361.5 629.5 363.1 629.6 364.7 629.8 366.3 629.9 367.9 630.1 369.5 630.3 371.1 630.5 372.7 630.7 374.3 630.9 375.8 631.1 377.4 631.3 379.0 631.5 380.6 631.7 382.2 632.0 383.8 632.2 385.3 632.4 386.9 632.7 388.5 632.9 390.1 633.2 391.7 633.4 393.2 633.7 394.8 633.9 396.4 634.2 398.0 634.4 399.6 634.7 401.1 635.0 402.7 635.2 404.3 635.5 405.9 635.7 407.5 636.0 409.0 636.2 410.6 636.5 412.2 636.7 413.8 636.9 415.4 637.2 417.0 637.4 418.5 637.6 420.1 637.8 421.7 638.0 423.3 638.2 424.9 638.4 426.5 638.6 428.1 638.8 429.6 638.9 431.2 639.1 432.8 639.3 434.4 639.5 436.0 639.6 437.6 639.8 439.2 640.0 440.8 640.1 442.4 640.3 444.0 640.5 445.6 640.6 447.1 640.8 448.7 641.0 450.3 641.1 451.9 641.3 453.5 641.5 455.1 641.7 456.7 641.9 458.3 642.1 459.9 642.3 461.4 642.5 463.0 642.7 464.6 643.0 466.2 643.2 467.8 643.5 469.4 643.8 470.9 644.1 472.5 644.7 473.9 645.6 473.0 646.0 471.4 646.3 469.8 646.6 468.3 646.9 466.7 647.2 465.1 647.6 463.6 647.9 462.0 648.2 460.4 648.5 458.9 648.8 457.3 649.0 455.7 649.2 454.1 649.4 452.5 649.6 450.9 649.8 449.3 649.9 447.7 650.1 446.2 650.2 444.6 650.3 443.0 650.5 441.4 650.6 439.8 650.8 438.2 650.9 436.6 651.1 435.0 651.2 433.4 651.4 431.8 651.5 430.2 651.7 428.6 651.9 427.0 652.1 425.5 652.3 423.9 652.4 422.3 652.6 420.7 652.8 419.1 653.0 417.5 653.2 415.9 653.4 414.3 653.6 412.7 653.7 411.2 653.9 409.6 654.1 408.0 654.3 406.4 654.5 404.8 654.7 403.2 654.8 401.6 655.0 400.0 655.2 398.4 655.4 396.9 655.6 395.3 655.8 393.7 656.0 392.1 656.3 390.5 656.5 388.9 656.7 387.3 657.0 385.8 657.3 384.2 657.6 382.6 657.9 381.1 658.2 379.5 658.6 377.9 658.9 376.4 659.3 374.8 659.7 373.3 660.2 371.7 660.6 370.2 661.1 368.7 661.6 367.2 662.2 365.7 662.7 364.2 663.3 362.7 664.0 361.2 664.9 359.9 665.9 358.7 667.3 358.0 668.9 357.9 670.5 358.4 671.9 359.1 673.1 360.1 674.3 361.1 675.5 362.3 676.5 363.5 677.4 364.8 678.3 366.1 679.2 367.5 680.1 368.8 681.1 370.0 682.3 371.1 683.6 372.0 684.9 372.9 686.2 373.9 687.4 374.9 688.7 375.8 690.3 376.1 691.8 375.7 693.3 375.1 694.8 374.6 696.4 374.6 697.9 375.2 699.2 376.0 700.4 377.1 701.5 378.2 702.6 379.5 703.6 380.7 704.5 382.0 705.3 383.4 706.1 384.8 706.8 386.2 707.5 387.7 708.2 389.1 708.8 390.6 709.3 392.1 709.8 393.6 710.4 395.1 710.8 396.7 711.3 398.2 711.7 399.7 712.2 401.3 712.6 402.8 713.0 404.4 713.3 405.9 713.7 407.5 714.0 409.1 714.3 410.6 714.7 412.2 715.0 413.8 715.2 415.3 715.5 416.9 715.8 418.5 716.0 420.1 716.3 421.7 716.5 423.2 716.7 424.8 717.0 426.4 717.2 428.0 717.4 429.6 717.6 431.2 717.8 432.7 718.0 434.3 718.1 435.9 718.3 437.5 718.5 439.1 718.7 440.7 718.9 442.3 719.1 443.9 719.2 445.5 719.4 447.0 719.6 448.6 719.8 450.2 720.0 451.8 720.2 453.4 720.4 455.0 720.6 456.6 720.8 458.2 721.0 459.7 721.2 461.3 721.5 462.9 721.7 464.5 721.9 466.1 722.1 467.7 722.4 469.3 722.6 470.8 722.8 472.4 723.1 474.0 723.3 475.6 723.5 477.2 723.8 478.7 724.0 480.3 724.3 481.9 724.5 483.5 724.8 485.1 725.1 486.6 725.6 488.2 726.7 488.6 727.4 487.2 727.8 485.6 728.1 484.1 728.4 482.5 728.7 480.9 728.9 479.3 729.2 477.7 729.4 476.2 729.7 474.6 729.9 473.0 730.1 471.4 730.3 469.8 730.5 468.2 730.7 466.7 730.9 465.1 731.1 463.5 731.3 461.9 731.5 460.3 731.7 458.7 731.9 457.1 732.1 455.5 732.3 454.0 732.5 452.4 732.7 450.8 732.9 449.2 733.1 447.6 733.3 446.0 733.5 444.4 733.7 442.9 733.9 441.3 734.1 439.7 734.3 438.1 734.5 436.5 734.7 434.9 734.9 433.3 735.1 431.7 735.2 430.1 735.4 428.6 735.6 427.0 735.8 425.4 736.0 423.8 736.2 422.2 736.3 420.6 736.5 419.0 736.7 417.4 736.9 415.8 737.1 414.3 737.3 412.7 737.5 411.1 737.7 409.5 737.9 407.9 738.1 406.3 738.3 404.7 738.5 403.1 738.7 401.6 738.9 400.0 739.2 398.4 739.4 396.8 739.6 395.2 739.8 393.6 740.1 392.1 740.3 390.5 740.6 388.9 740.8 387.3 741.1 385.7 741.4 384.2 741.7 382.6 741.9 381.0 742.2 379.4 742.5 377.9 742.8 376.3 743.1 374.7 743.5 373.2 743.8 371.6 744.1 370.0 744.4 368.5 744.8 366.9 745.1 365.3 745.5 363.8 745.8 362.2 746.1 360.6 746.5 359.1 746.8 357.5 747.1 356.0 747.5 354.4 747.8 352.8 748.1 351.3 748.4 349.7 748.7 348.1 749.0 346.5 749.3 345.0 749.6 343.4 750.0 341.8 750.3 340.3 750.6 338.7 750.9 337.1 751.2 335.6 751.6 334.0 751.9 332.4 752.3 330.9 752.7 329.3 753.1 327.8 753.5 326.2 753.9 324.7 754.4 323.2 754.9 321.6 755.4 320.1 756.0 318.6 756.6 317.2 757.2 315.7 757.9 314.3 758.7 312.9 759.5 311.5 760.4 310.1 761.3 308.8 762.3 307.6 763.4 306.4 764.5 305.2 765.6 304.1 766.8 303.1 768.1 302.1 769.5 301.3 770.9 300.5 772.4 300.0 774.0 299.7 775.6 299.7 777.1 300.0 778.6 300.5 780.0 301.3 781.3 302.2 782.6 303.2 783.8 304.3 784.9 305.4 786.0 306.6 787.0 307.8 788.1 309.0 789.1 310.3 790.1 311.5 791.2 312.7 792.3 313.8 793.5 314.9 794.7 316.0 795.9 316.9 797.3 317.9 798.6 318.7 800.0 319.5 801.5 320.1 803.0 320.7 804.5 321.1 806.1 321.4 807.7 321.6 809.3 321.5 810.9 321.3 812.3 320.7 813.7 319.9 814.9 318.8 816.0 317.6 817.0 316.4 817.9 315.0 818.7 313.7 819.5 312.3 820.2 310.9 821.0 309.4 821.7 308.0 822.4 306.6 823.0 305.1 823.7 303.7 824.3 302.2 825.0 300.7 825.6 299.3 826.2 297.8 826.8 296.3 827.4 294.8 828.0 293.3 828.6 291.8 829.2 290.4 829.8 288.9 830.4 287.4 831.1 285.9 831.7 284.5 832.3 283.0 833.0 281.5 833.7 280.1 834.4 278.7 835.1 277.2 835.8 275.8 836.6 274.4 837.4 273.0 838.2 271.7 839.1 270.3 840.0 269.0 840.9 267.7 841.9 266.4 842.9 265.2 844.0 264.0 845.2 262.9 846.4 261.8 847.6 260.9 849.0 260.0 850.4 259.2 851.8 258.6 853.3 258.0 854.9 257.6 856.4 257.3 858.0 257.2 859.6 257.2 861.2 257.5 862.7 258.1 864.1 258.9 865.4 259.8 866.6 260.9 867.7 262.0 868.7 263.3 869.7 264.5 870.7 265.8 871.6 267.1 872.4 268.5 873.3 269.8 874.1 271.2 874.8 272.6 875.6 274.0 876.3 275.5 877.0 276.9 877.6 278.4 878.3 279.8 878.9 281.3 879.4 282.8 880.0 284.3 880.6 285.8 881.1 287.3 881.6 288.8 882.1 290.4 882.6 291.9 883.1 293.4 883.6 294.9 884.0 296.5 884.5 298.0 884.9 299.5 885.4 301.1 885.8 302.6 886.2 304.1 886.6 305.7 887.0 307.2 887.4 308.8 887.8 310.3 888.2 311.9 888.6 313.4 889.0 315.0 889.4 316.6 889.7 318.1 890.1 319.7 890.4 321.2 890.8 322.8 891.1 324.4 891.5 325.9 891.8 327.5 892.2 329.0 892.5 330.6 892.8 332.2 893.2 333.7 893.5 335.3 893.8 336.9 894.1 338.4 894.4 340.0 894.7 341.6 895.1 343.1 895.4 344.7 895.7 346.3 896.0 347.9 896.3 349.4 896.6 351.0 896.9 352.6 897.2 354.1 897.5 355.7 897.8 357.3 898.1 358.9 898.4 360.4 898.7 362.0 899.0 363.6 899.3 365.1 899.5 366.7 899.8 368.3 900.1 369.9 900.4 371.4 900.7 373.0 901.0 374.6 901.3 376.2 901.6 377.7 901.9 379.3 902.2 380.9 902.5 382.4 902.8 384.0 903.1 385.6 903.4 387.1 903.8 388.7 904.1 390.3 904.4 391.9 904.7 393.4 905.0 395.0 905.4 396.5 905.7 398.1 906.1 399.7 906.5 401.2 906.9 402.8 907.4 404.3 907.9 405.8 909.1 406.3 909.9 404.9 910.3 403.4 910.8 401.9 911.1 400.3 911.5 398.7 911.8 397.2 912.0 395.6 912.3 394.0 912.5 392.4 912.6 390.8 912.8 389.2 913.0 387.6 913.2 386.1 913.5 384.5 913.7 382.9 914.0 381.3 914.2 379.7 914.5 378.2 914.7 376.6 915.0 375.0 915.2 373.4 915.5 371.8 915.7 370.3 916.0 368.7 916.2 367.1 916.4 365.5 916.7 363.9 916.9 362.3 917.1 360.8 917.4 359.2 917.6 357.6 917.8 356.0 918.0 354.4 918.2 352.8 918.5 351.3 918.7 349.7 918.9 348.1 919.1 346.5 919.4 344.9 919.6 343.3 919.9 341.8 920.1 340.2 920.4 338.6 920.6 337.0 920.9 335.4 921.2 333.9 921.5 332.3 921.8 330.7 922.1 329.2 922.4 327.6 922.7 326.0 923.0 324.5 923.3 322.9 923.7 321.3 924.0 319.8 924.3 318.2 924.7 316.6 925.0 315.1 925.4 313.5 925.7 311.9 926.1 310.4 926.4 308.8 926.8 307.3 927.2 305.7 927.5 304.1 927.9 302.6 928.2 301.0 928.6 299.5 928.9 297.9 929.3 296.4 929.7 294.8 930.0 293.2 930.4 291.7 930.7 290.1 931.1 288.6 931.4 287.0 931.8 285.4 932.1 283.9 932.5 282.3 932.8 280.7 933.2 279.2 933.5 277.6 933.9 276.1 934.2 274.5 934.6 272.9 934.9 271.4 935.3 269.8 935.6 268.3 936.0 266.7 936.3 265.1 936.7 263.6 937.0 262.0 937.4 260.5 937.8 258.9 938.2 257.4 938.6 255.8 939.0 254.3 939.5 252.7 940.0 251.2 940.5 249.7 941.0 248.2 941.6 246.7 942.2 245.2 942.9 243.8 943.6 242.4 944.4 241.0 945.2 239.6 946.1 238.3 947.1 237.0 948.1 235.7 949.2 234.5 950.3 233.4 951.5 232.3 952.7 231.3 954.0 230.4 955.3 229.5 956.7 228.7 958.1 228.0 959.6 227.4 961.1 226.9 962.7 226.6 964.3 226.5 965.9 226.7 967.4 227.2 968.8 227.9 970.1 228.8 971.4 229.9 972.5 231.0 973.5 232.2 974.6 233.4 975.5 234.7 976.5 236.0 977.4 237.3 978.3 238.7 979.1 240.0 979.9 241.4 980.7 242.8 981.4 244.2 982.1 245.6 982.8 247.1 983.5 248.6 984.1 250.0 984.7 251.5 985.3 253.0 985.9 254.5 986.4 256.0 986.9 257.5 987.4 259.0 987.9 260.5 988.4 262.1 988.9 263.6 989.3 265.1 989.8 266.7 990.2 268.2 990.6 269.8 991.1 271.3 991.5 272.8 991.9 274.4 992.3 275.9 992.7 277.5 993.1 279.0 993.5 280.6 994.0 282.1 994.4 283.7 994.8 285.2 995.2 286.8 995.6 288.3 996.0 289.8 996.4 291.4 996.8 292.9 997.2 294.5 997.6 296.0 998.0 297.6 998.3 299.2 998.7 300.7 999.1 302.3 999.5 303.8 999.8 305.4 1000.2 306.9 1000.6 308.5 1000.9 310.0 1001.3 311.6 1001.6 313.2 1002.0 314.7 1002.3 316.3 1002.7 317.9 1003.0 319.4 1003.3 321.0 1003.6 322.6 1003.9 324.1 1004.2 325.7 1004.5 327.3 1004.8 328.8 1005.1 330.4 1005.4 332.0 1005.7 333.6 1006.0 335.1 1006.2 336.7 1006.5 338.3 1006.7 339.9 1007.0 341.5 1007.2 343.0 1007.5 344.6 1007.7 346.2 1007.9 347.8 1008.1 349.4 1008.3 351.0 1008.5 352.5 1008.7 354.1 1008.9 355.7 1009.1 357.3 1009.3 358.9 1009.5 360.5 1009.7 362.1 1009.8 363.7 1010.0 365.3 1010.1 366.8 1010.3 368.4 1010.4 370.0 1010.6 371.6 1010.7 373.2 1010.9 374.8 1011.0 376.4 1011.1 378.0 1011.2 379.6 1011.3 381.2 1011.4 382.8 1011.5 384.4 1011.6 386.0 1011.7 387.6 1011.8 389.2 1011.9 390.8 1012.0 392.4 1012.1 394.0 1012.1 395.6 1012.2 397.2 1012.3 398.8 1012.3 400.4 1012.4 402.0 1012.5 403.6 1012.5 405.2 1012.6 406.8 1012.6 408.4 1012.6 410.0 1012.7 411.6 1012.7 413.2 1012.8 414.8 1012.8 416.4 1012.8 418.0 1012.8 419.6 1012.9 421.2 1012.9 422.8 1012.9 424.4 1012.9 426.0 1013.0 427.6 1013.0 429.2 1013.0 430.8 1013.0 432.4 1013.0 434.0 1013.0 435.6 1013.0 437.2 1013.0 438.8 1013.1 440.4 1013.1 442.0 1013.1 443.6 1013.1 445.2 1013.1 446.8 1013.1 448.3 1013.1 449.9 1013.1 451.5 1013.1 453.1 1013.1 454.7 1013.1 456.3 1013.1 457.9 1013.1 459.5 1013.1 461.1 1013.1 462.7 1013.1 464.3 1013.2 465.9 1013.2 467.5 1013.2 469.1 1013.2 470.7 1013.2 472.3 1013.2 473.9 1013.2 475.5 1013.3 477.1 1013.3 478.7 1013.3 480.3 1013.3 481.9 1013.3 483.5 1013.4 485.1 1013.4 486.7 1013.4 488.3 1013.5 489.9 1013.5 491.5 1013.5 493.1 1013.6 494.7 1013.6 496.3 1013.6 497.9 1013.7 499.5 1013.7 501.1 1013.8 502.7 1013.8 504.3 1013.9 505.9 1013.9 507.5 1014.0 509.1 1014.0 510.7 1014.1 512.3 1014.1 513.9 1014.2 515.5 1014.2 517.1 1014.3 518.7 1014.3 520.3 1014.4 521.9 1014.5 523.5 1014.5 525.1 1014.6 526.7 1014.6 528.3 1014.7 529.9 1014.8 531.5 1014.8 533.1 1014.9 534.7 1015.0 536.3 1015.0 537.9 1015.1 539.5 1015.2 541.1 1015.2 542.7 1015.3 544.3 1015.4 545.9 1015.5 547.5 1015.5 549.1 1015.6 550.7 1015.7 552.3 1015.7 553.9 1015.8 555.5 1015.9 557.1 1016.0 558.7 1016.0 560.3 1016.1 561.9 1016.2 563.5 1016.3 565.1 1016.3 566.7 1016.4 568.3 1016.5 569.9 1016.5 571.5 1016.6 573.1 1016.7 574.7 1016.8 576.3 1016.8 577.9 1016.9 579.5 1017.0 581.1 1017.1 582.6 1017.1 584.2 1017.2 585.8 1017.3 587.4 1017.4 589.0 1017.4 590.6 1017.5 592.2 1017.6 593.8 1017.6 595.4 1017.7 597.0 1017.8 598.6 1017.8 600.2 1017.9 601.8 1018.0 603.4 1018.0 605.0 1018.1 606.6 1018.2 608.2 1018.2 609.8 1018.3 611.4 1018.4 613.0 1018.4 614.6 1018.5 616.2 1018.6 617.8 1018.6 619.4 1018.7 621.0 1018.7 622.6 1018.8 624.2 1018.8 625.8 1018.9 627.4 1018.9 629.0 1019.0 630.6 1019.0 632.2 1019.1 633.8 1019.1 635.4 1019.2 637.0 1019.2 638.6 1019.3 640.2 1019.3 641.8 1019.3 643.4 1019.4 645.0 1019.4 646.6 1019.5 648.2 1019.5 649.8 1019.5 651.4 1019.6 653.0 1019.6 654.6 1019.6 656.2 1019.6 657.8 1019.7 659.4 1019.7 661.0 1019.7 662.6 1019.7 664.2 1019.7 665.8 1019.7 667.4 1019.7 669.0 1019.8 670.6 1019.8 672.2 1019.8 673.8 1019.8 675.4 1019.8 677.0 1019.8 678.6 1019.8 680.2 1019.8 681.8 1019.8 683.4 1019.7 685.0 1019.7 686.6 1019.7 688.2 1019.7 689.8 1019.7 691.4 1019.6 693.0 1019.6 694.6 1019.6 696.2 1019.6 697.8 1019.5 699.4 1019.5 701.0 1019.5 702.6 1019.4 704.2 1019.4 705.8 1019.3 707.4 1019.3 709.0 1019.2 710.6 1019.2 712.2 1019.1 713.8 1019.0 715.4 1019.0 717.0 1018.9 718.6 1018.8 720.2 1018.8 721.8 1018.8 720.6 1018.8 719.0 1018.9 717.4 1018.9 715.8 1019.0 714.2 1019.0 712.6 1019.1 711.0 1019.1 709.4 1019.1 707.8 1019.2 706.2 1019.2 704.6 1019.3 703.0 1019.3 701.4 1019.4 699.8 1019.4 698.2 1019.4 696.6 1019.5 695.0 1019.5 693.4 1019.6 691.8 1019.6 690.2 1019.6 688.6 1019.7 687.0 1019.7 685.4 1019.7 683.8 1019.8 682.3 1019.8 680.7 1019.9 679.1 1019.9 677.5 1019.9 675.9 1020.0 674.3 1020.0 672.7 1020.0 671.1 1020.1 669.5 1020.1 667.9 1020.1 666.3 1020.1 664.7 1020.2 663.1 1020.2 661.5 1020.2 659.9 1020.3 658.3 1020.3 656.7 1020.3 655.1 1020.4 653.5 1020.4 651.9 1020.4 650.3 1020.4 648.7 1020.5 647.1 1020.5 645.5 1020.5 643.9 1020.5 642.3 1020.6 640.7 1020.6 639.1 1020.6 637.5 1020.7 635.9 1020.7 634.3 1020.7 632.7 1020.7 631.1 1020.8 629.5 1020.8 627.9 1020.8 626.3 1020.8 624.7 1020.9 623.1 1020.9 621.5 1020.9 619.9 1020.9 618.3 1021.0 616.7 1021.0 615.1 1021.0 613.5 1021.0 611.9 1021.1 610.3 1021.1 608.7 1021.1 607.1 1021.1 605.5 1021.2 603.9 1021.2 602.3 1021.2 600.7 1021.2 599.1 1021.3 597.5 1021.3 595.9 1021.3 594.3 1021.3 592.7 1021.4 591.1 1021.4 589.5 1021.4 587.9 1021.5 586.3 1021.5 584.7 1021.5 583.1 1021.5 581.5 1021.6 579.9 1021.6 578.3 1021.6 576.7 1021.6 575.1 1021.7 573.5 1021.7 571.9 1021.7 570.3 1021.8 568.7 1021.8 567.1 1021.8 565.5 1021.8 563.9 1021.9 562.3 1021.9 560.7 1021.9 559.1 1022.0 557.5 1022.0 555.9 1022.0 554.3 1022.1 552.7 1022.1 551.1 1022.1 549.5 1022.2 547.9 1022.2 546.3 1022.2 544.7 1022.3 543.1 1022.3 541.5 1022.4 539.9 1022.4 538.3 1022.4 536.7 1022.5 535.1 1022.5 533.5 1022.5 531.9 1022.6 530.3 1022.6 528.7 1022.7 527.1 1022.7 525.5 1022.7 523.9 1022.8 522.3 1022.8 520.7 1022.9 519.1 1022.9 517.5 1023.0 515.9 1023.0 514.3 1023.1 512.7 1023.1 511.1 1023.2 509.5 1023.2 507.9 1023.3 506.3 1023.3 504.7 1023.4 503.1 1023.4 501.5 1023.5 499.9 1023.5 498.3 1023.6 496.7 1023.6 495.1 1023.7 493.5 1023.7 491.9 1023.8 490.3 1023.9 488.7 1023.9 487.1 1024.0 485.5 1024.0 483.9 1024.1 482.3 1024.2 480.7 1024.2 479.1 1024.3 477.5 1024.4 475.9 1024.4 474.3 1024.5 472.7 1024.6 471.2 1024.6 469.6 1024.7 468.0 1024.8 466.4 1024.8 464.8 1024.9 463.2 1025.0 461.6 1025.1 460.0 1025.1 458.4 1025.2 456.8 1025.3 455.2 1025.4 453.6 1025.5 452.0 1025.5 450.4 1025.6 448.8 1025.7 447.2 1025.8 445.6 1025.9 444.0 1026.0 442.4 1026.1 440.8 1026.1 439.2 1026.2 437.6 1026.3 436.0 1026.4 434.4 1026.5 432.8 1026.6 431.2 1026.7 429.6 1026.8 428.0 1026.9 426.4 1027.0 424.8 1027.1 423.2 1027.2 421.6 1027.3 420.0 1027.4 418.4 1027.5 416.8 1027.7 415.2 1027.8 413.7 1027.9 412.1 1028.0 410.5 1028.1 408.9 1028.2 407.3 1028.3 405.7 1028.5 404.1 1028.6 402.5 1028.7 400.9 1028.8 399.3 1029.0 397.7 1029.1 396.1 1029.2 394.5 1029.3 392.9 1029.5 391.3 1029.6 389.7 1029.7 388.1 1029.9 386.5 1030.0 384.9 1030.2 383.4 1030.3 381.8 1030.4 380.2 1030.6 378.6 1030.7 377.0 1030.9 375.4 1031.0 373.8 1031.2 372.2 1031.3 370.6 1031.5 369.0 1031.6 367.4 1031.8 365.8 1031.9 364.2 1032.1 362.6 1032.3 361.1 1032.4 359.5 1032.6 357.9 1032.8 356.3 1032.9 354.7 1033.1 353.1 1033.3 351.5 1033.5 349.9 1033.6 348.3 1033.8 346.7 1034.0 345.2 1034.2 343.6 1034.4 342.0 1034.5 340.4 1034.7 338.8 1034.9 337.2 1035.1 335.6 1035.3 334.0 1035.5 332.4 1035.7 330.9 1035.9 329.3 1036.1 327.7 1036.3 326.1 1036.5 324.5 1036.8 322.9 1037.0 321.3 1037.2 319.8 1037.4 318.2 1037.7 316.6 1037.9 315.0 1038.1 313.4 1038.4 311.9 1038.6 310.3 1038.9 308.7 1039.2 307.1 1039.4 305.5 1039.7 304.0 1040.0 302.4 1040.3 300.8 1040.6 299.2 1040.9 297.7 1041.2 296.1 1041.5 294.5 1041.8 293.0 1042.1 291.4 1042.5 289.8 1042.8 288.3 1043.2 286.7 1043.5 285.2 1043.9 283.6 1044.3 282.0 1044.7 280.5 1045.1 278.9 1045.5 277.4 1045.9 275.8 1046.3 274.3 1046.7 272.8 1047.2 271.2 1047.6 269.7 1048.1 268.2 1048.6 266.6 1049.1 265.1 1049.6 263.6 1050.1 262.1 1050.7 260.6 1051.3 259.1 1051.9 257.6 1052.5 256.2 1053.2 254.7 1053.9 253.3 1054.6 251.9 1055.4 250.5 1056.2 249.1 1057.1 247.7 1058.0 246.4 1058.9 245.1 1059.9 243.8 1060.9 242.6 1062.0 241.4 1063.1 240.3 1064.2 239.2 1065.4 238.1 1066.7 237.1 1068.0 236.2 1069.4 235.3 1070.8 234.6 1072.2 233.9 1073.7 233.4 1075.3 232.9 1076.8 232.7 1078.4 232.5 1080.0 232.6 1081.6 232.7 1083.2 233.0 1084.7 233.4 1086.3 233.8 1087.8 234.3 1089.3 234.9 1090.8 235.4 1092.3 236.0 1093.8 236.5 1095.3 237.0 1096.9 237.5 1098.4 237.9 1099.9 238.4 1101.4 238.9 1102.9 239.5 1104.4 240.1 1105.9 240.7 1107.4 241.3 1108.9 241.9 1110.4 242.4 1111.9 242.9 1113.4 243.4 1115.0 243.8 1116.5 244.2 1118.1 244.5 1119.7 244.6 1121.3 244.7 1122.9 244.6 1124.5 244.3 1126.0 244.0 1127.6 243.5 1129.0 242.9 1130.5 242.2 1131.9 241.5 1133.3 240.7 1134.6 239.8 1135.9 238.8 1137.2 237.9 1138.4 236.8 1139.6 235.8 1140.8 234.7 1142.0 233.6 1143.1 232.5 1144.2 231.4 1145.3 230.2 1146.4 229.1 1147.5 227.9 1148.6 226.7 1149.7 225.5 1150.7 224.3 1151.7 223.0 1152.7 221.8 1153.7 220.6 1154.7 219.3 1155.7 218.1 1156.7 216.8 1157.7 215.5 1158.6 214.2 1159.6 213.0 1160.5 211.7 1161.5 210.4 1162.4 209.1 1163.4 207.8 1164.3 206.5 1165.3 205.2 1166.2 203.9 1167.2 202.6 1168.1 201.3 1169.1 200.1 1170.0 198.8 1171.0 197.5 1171.9 196.2 1172.9 195.0 1173.9 193.7 1174.9 192.5 1175.9 191.2 1176.9 190.0 1178.0 188.8 1179.0 187.6 1180.1 186.4 1181.2 185.2 1182.3 184.0 1183.4 182.9 1184.6 181.8 1185.7 180.7 1186.9 179.6 1188.1 178.6 1189.4 177.6 1190.6 176.6 1191.9 175.7 1193.3 174.8 1194.6 173.9 1196.0 173.1 1197.4 172.4 1198.9 171.7 1200.3 171.0 1201.8 170.4 1203.3 169.9 1204.8 169.4 1206.4 169.0 1207.9 168.7 1209.5 168.4 1211.1 168.2 1212.7 168.0 1214.3 167.9 1215.9 167.9 1217.5 168.0 1219.1 168.2 1220.7 168.5 1222.2 168.8 1223.8 169.3 1225.3 169.8 1226.7 170.5 1228.1 171.2 1229.5 172.0 1230.9 172.9 1232.2 173.8 1233.4 174.8 1234.6 175.9 1235.8 176.9 1237.0 178.0 1238.1 179.2 1239.2 180.3 1240.3 181.5 1241.3 182.7 1242.4 183.9 1243.4 185.2 1244.4 186.4 1245.4 187.6 1246.4 188.9 1247.4 190.2 1248.4 191.4 1249.3 192.7 1250.3 194.0 1251.2 195.3 1252.1 196.6 1253.1 197.9 1254.0 199.2 1254.8 200.6 1255.7 201.9 1256.6 203.3 1257.4 204.6 1258.2 206.0 1259.0 207.4 1259.8 208.8 1260.6 210.2 1261.4 211.6 1262.1 213.0 1262.9 214.4 1263.6 215.8 1264.4 217.2 1265.1 218.6 1265.9 220.0 1266.7 221.4 1267.5 222.8 1268.3 224.2 1269.1 225.5 1270.0 226.9 1270.9 228.2 1271.9 229.5 1272.8 230.8 1273.9 232.0 1274.9 233.2 1276.1 234.3 1277.2 235.4 1278.5 236.4 1279.7 237.4 1281.1 238.2 1282.5 238.9 1284.1 239.4 1285.6 239.6 1287.2 239.6 1288.8 239.2 1290.2 238.5 1291.6 237.6 1292.8 236.6 1294.0 235.5 1295.1 234.3 1296.1 233.1 1297.2 231.9 1298.2 230.7 1299.2 229.4 1300.1 228.1 1300.9 226.7"/>
<path stroke="#007f00" d="M355.7 266.5L356.2 265.0 356.7 263.5 357.2 261.9 357.6 260.4 358.1 258.9 358.5 257.3 358.9 255.8 359.3 254.2 359.7 252.7 360.1 251.2 360.6 249.6 361.0 248.1 361.4 246.5 361.9 245.0 362.3 243.5 362.8 241.9 363.3 240.4 363.8 238.9 364.4 237.4 365.0 235.9 365.6 234.4 366.3 233.0 367.0 231.5 367.7 230.1 368.5 228.7 369.3 227.4 370.2 226.0 371.2 224.7 372.1 223.5 373.2 222.2 374.2 221.1 375.4 219.9 376.5 218.8 377.8 217.8 379.1 216.9 380.4 216.0 381.8 215.3 383.3 214.7 384.8 214.2 386.4 213.9 388.0 213.8 389.6 213.9 391.2 214.2 392.7 214.7 394.1 215.4 395.6 216.1 396.9 217.0 398.2 217.9 399.4 218.9 400.6 220.0 401.7 221.2 402.8 222.4 403.8 223.6 404.7 224.9 405.7 226.2 406.5 227.5 407.4 228.9 408.2 230.3 409.0 231.7 409.8 233.1 410.5 234.5 411.2 235.9 411.9 237.4 412.5 238.8 413.2 240.3 413.8 241.8 414.3 243.3 414.9 244.8 415.5 246.3 416.0 247.8 416.5 249.3 417.0 250.8 417.5 252.3 418.0 253.9 418.4 255.4 418.9 256.9 419.3 258.5 419.8 260.0 420.2 261.5 420.6 263.1 421.0 264.6 421.4 266.2 421.8 267.7 422.2 269.3 422.6 270.8 422.9 272.4 423.3 274.0 423.6 275.5 424.0 277.1 424.3 278.7 424.7 280.2 425.0 281.8 425.3 283.4 425.6 284.9 425.9 286.5 426.2 288.1 426.5 289.6 426.8 291.2 427.1 292.8 427.4 294.3 427.7 295.9 428.0 297.5 428.3 299.1 428.5 300.6 428.8 302.2 429.1 303.8 429.4 305.4 429.6 306.9 429.9 308.5 430.2 310.1 430.5 311.7 430.7 313.3 431.0 314.8 431.2 316.4 431.5 318.0 431.7 319.6 432.0 321.2 432.3 322.7 432.5 324.3 432.7 325.9 433.0 327.5 433.2 329.1 433.5 330.6 433.7 332.2 433.9 333.8 434.2 335.4 434.4 337.0 434.6 338.6 434.8 340.1 435.1 341.7 435.3 343.3 435.5 344.9 435.7 346.5 435.9 348.1 436.1 349.7 436.3 351.2 436.5 352.8 436.7 354.4 436.9 356.0 437.1 357.6 437.3 359.2 437.5 360.8 437.6 362.4 437.8 363.9 438.0 365.5 438.2 367.1 438.3 368.7 438.5 370.3 438.7 371.9 438.8 373.5 439.0 375.1 439.1 376.7 439.3 378.3 439.4 379.9 439.6 381.5 439.7 383.1 439.8 384.6 440.0 386.2 440.1 387.8 440.2 389.4 440.4 391.0 440.5 392.6 440.6 394.2 440.7 395.8 440.8 397.4 441.0 399.0 441.1 400.6 441.2 402.2 441.3 403.8 441.4 405.4 441.5 407.0 441.6 408.6 441.7 410.2 441.8 411.8 441.9 413.4 442.0 415.0 442.1 416.6 442.2 418.2 442.3 419.8 442.4 421.4 442.5 423.0 442.5 424.5 442.6 426.1 442.7 427.7 442.8 429.3 442.9 430.9 443.0 432.5 443.1 434.1 443.1 435.7 443.2 437.3 443.3 438.9 443.4 440.5 443.5 442.1 443.5 443.7 443.6 445.3 443.7 446.9 443.8 448.5 443.8 450.1 443.9 451.7 444.0 453.3 444.1 454.9 444.1 456.5 444.2 458.1 444.3 459.7 444.4 461.3 444.5 462.9 444.5 464.5 444.6 466.1 444.7 467.7 444.8 469.3 444.8 470.9 444.9 472.5 445.0 474.1 445.1 475.7 445.2 477.3 445.2 478.9 445.3 480.5 445.4 482.1 445.5 483.7 445.6 485.3 445.7 486.9 445.8 488.5 445.9 490.1 445.9 491.7 446.0 493.2 446.1 494.8 446.2 496.4 446.3 498.0 446.4 499.6 446.5 501.2 446.6 502.8 446.7 504.4 446.8 506.0 446.9 507.6 447.1 509.2 447.2 510.8 447.3 512.4 447.4 514.0 447.5 515.6 447.6 517.2 447.8 518.8 447.9 520.4 448.0 522.0 448.1 523.6 448.3 525.2 448.4 526.8 448.9 525.7 449.1 524.1 449.3 522.6 449.6 521.0 449.8 519.4 450.0 517.8 450.2 516.2 450.4 514.6 450.6 513.0 450.8 511.4 451.0 509.9 451.1 508.3 451.3 506.7 451.4 505.1 451.6 503.5 451.7 501.9 451.8 500.3 452.0 498.7 452.1 497.1 452.2 495.5 452.3 493.9 452.4 492.3 452.5 490.7 452.6 489.1 452.7 487.5 452.8 485.9 452.9 484.3 452.9 482.7 453.0 481.1 453.1 479.5 453.2 477.9 453.2 476.3 453.3 474.7 453.4 473.1 453.4 471.5 453.5 469.9 453.5 468.3 453.6 466.8 453.6 465.2 453.7 463.6 453.8 462.0 453.8 460.4 453.9 458.8 453.9 457.2 454.0 455.6 454.0 454.0 454.1 452.4 454.1 450.8 454.2 449.2 454.3 447.6 454.3 446.0 454.4 444.4 454.5 442.8 454.5 441.2 454.6 439.6 454.7 438.0 454.8 436.4 454.9 434.8 455.0 433.2 455.0 431.6 455.1 430.0 455.2 428.4 455.3 426.8 455.4 425.2 455.5 423.6 455.7 422.0 455.8 420.4 455.9 418.8 456.0 417.2 456.1 415.6 456.2 414.0 456.4 412.4 456.5 410.8 456.6 409.2 456.7 407.7 456.9 406.1 457.0 404.5 457.2 402.9 457.3 401.3 457.4 399.7 457.6 398.1 457.7 396.5 457.9 394.9 458.0 393.3 458.2 391.7 458.3 390.1 458.5 388.5 458.6 386.9 458.8 385.4 459.0 383.8 459.1 382.2 459.3 380.6 459.5 379.0 459.6 377.4 459.8 375.8 460.0 374.2 460.1 372.6 460.3 371.0 460.5 369.4 460.7 367.9 460.8 366.3 461.0 364.7 461.2 363.1 461.4 361.5 461.6 359.9 461.8 358.3 461.9 356.7 462.1 355.1 462.3 353.5 462.5 352.0 462.7 350.4 462.9 348.8 463.1 347.2 463.2 345.6 463.4 344.0 463.6 342.4 463.8 340.8 464.0 339.3 464.2 337.7 464.4 336.1 464.6 334.5 464.8 332.9 465.0 331.3 465.2 329.7 465.4 328.1 465.7 326.6 465.9 325.0 466.1 323.4 466.4 321.8 466.6 320.2 466.8 318.6 467.1 317.1 467.4 315.5 467.6 313.9 467.9 312.3 468.2 310.8 468.5 309.2 468.8 307.6 469.1 306.1 469.4 304.5 469.8 302.9 470.1 301.4 470.5 299.8 470.8 298.2 471.2 296.7 471.6 295.1 472.0 293.6 472.4 292.0 472.8 290.5 473.3 289.0 473.7 287.4 474.2 285.9 474.7 284.4 475.2 282.9 475.7 281.3 476.2 279.8 476.7 278.3 477.3 276.8 477.9 275.3 478.5 273.8 479.1 272.4 479.7 270.9 480.3 269.4 481.0 267.9 481.6 266.5 482.3 265.1 483.0 263.6 483.8 262.2 484.6 260.8 485.4 259.5 486.4 258.2 487.4 257.0 488.6 255.9 489.9 255.0 491.4 254.3 492.9 254.0 494.5 254.2 495.9 255.0 497.0 256.1 497.8 257.5 498.5 258.9 499.1 260.4 499.7 261.9 500.2 263.4 500.6 265.0 501.0 266.5 501.4 268.1 501.7 269.6 502.0 271.2 502.3 272.8 502.5 274.4 502.7 276.0 502.9 277.6 503.1 279.1 503.3 280.7 503.5 282.3 503.6 283.9 503.8 285.5 504.0 287.1 504.2 288.7 504.4 290.3 504.6 291.8 504.9 293.4 505.1 295.0 505.3 296.6 505.6 298.2 505.8 299.8 506.0 301.3 506.3 302.9 506.5 304.5 506.6 306.1 506.8 307.7 506.9 309.3 507.0 310.9 507.6 311.6 508.2 310.2 508.8 308.7 509.2 307.2 509.7 305.6 510.2 304.1 510.8 302.6 511.4 301.1 512.3 299.8 513.8 299.6 514.9 300.8 515.6 302.2 516.2 303.7 516.8 305.2 517.3 306.7 517.7 308.2 518.2 309.8 518.6 311.3 519.0 312.9 519.4 314.4 519.8 316.0 520.2 317.5 520.8 319.0 521.7 318.1 522.3 316.6 522.8 315.1 523.2 313.6 523.6 312.0 523.9 310.5 524.2 308.9 524.4 307.3 524.6 305.7 524.8 304.1 524.9 302.5 525.1 300.9 525.2 299.3 525.3 297.7 525.4 296.1 525.5 294.5 525.7 293.0 525.8 291.4 526.0 289.8 526.2 288.2 526.5 286.6 526.7 285.0 527.1 283.5 527.5 281.9 527.9 280.4 528.3 278.8 528.7 277.3 529.2 275.8 529.7 274.2 530.2 272.7 530.8 271.2 531.3 269.7 531.9 268.2 532.4 266.7 533.0 265.2 533.5 263.7 534.1 262.2 534.6 260.7 535.2 259.2 535.7 257.7 536.2 256.2 536.8 254.7 537.3 253.2 537.8 251.7 538.4 250.2 538.9 248.6 539.4 247.1 539.9 245.6 540.5 244.1 541.0 242.6 541.5 241.1 542.0 239.5 542.5 238.0 543.0 236.5 543.4 235.0 543.9 233.5 544.4 231.9 544.9 230.4 545.3 228.9 545.8 227.3 546.2 225.8 546.7 224.3 547.1 222.7 547.5 221.2 548.0 219.6 548.5 218.1 549.0 216.6 549.5 215.1 550.1 213.6 550.8 212.2 551.6 210.8 552.4 209.4 553.4 208.2 554.5 207.0 555.7 205.9 557.0 205.0 558.4 204.2 559.9 203.6 561.4 203.1 563.0 202.9 564.6 202.9 566.1 203.2 567.6 203.7 569.0 204.5 570.3 205.4 571.6 206.4 572.7 207.6 573.8 208.8 574.8 210.0 575.8 211.2 576.8 212.5 577.7 213.8 578.6 215.1 579.5 216.4 580.4 217.8 581.3 219.1 582.2 220.4 583.1 221.8 583.9 223.1 584.8 224.5 585.6 225.9 586.4 227.2 587.2 228.6 588.0 230.0 588.8 231.4 589.5 232.8 590.3 234.2 591.0 235.6 591.7 237.1 592.5 238.5 593.2 239.9 593.9 241.4 594.5 242.8 595.2 244.3 595.9 245.7 596.5 247.2 597.2 248.6 597.8 250.1 598.5 251.6 599.1 253.1 599.7 254.5 600.3 256.0 600.9 257.5 601.5 259.0 602.1 260.5 602.6 262.0 603.2 263.5 603.8 265.0 604.3 266.5 604.9 268.0 605.4 269.5 606.0 271.0 606.5 272.5 607.1 274.0 607.6 275.5 608.1 277.0 608.6 278.5 609.1 280.0 609.7 281.5 610.2 283.1 610.7 284.6 611.2 286.1 611.7 287.6 612.2 289.1 612.7 290.7 613.2 292.2 613.6 293.7 614.1 295.2 614.6 296.8 615.1 298.3 615.6 299.8 616.1 301.3 616.6 302.9 617.0 304.4 617.5 305.9 618.0 307.4 618.5 309.0 619.0 310.5 619.5 312.0 619.9 313.5 620.4 315.1 620.9 316.6 621.4 318.1 621.9 319.6 622.3 321.2 622.8 322.7 623.3 324.2 623.8 325.7 624.3 327.2 624.8 328.8 625.3 330.3 625.8 331.8 626.3 333.3 626.8 334.9 627.3 336.4 627.8 337.9 628.3 339.4 628.8 340.9 629.3 342.4 629.8 344.0 630.3 345.5 630.8 347.0 631.3 348.5 631.8 350.0 632.3 351.6 632.8 353.1 633.2 354.6 633.7 356.2 634.2 357.7 634.7 359.2 635.2 360.7 635.7 362.2 636.3 363.7 636.9 365.2 637.6 366.7 638.3 368.1 639.2 369.4 640.2 370.7 641.3 371.8 642.5 372.9 643.8 373.8 645.3 374.4 646.8 374.5 648.3 373.9 649.6 372.9 650.6 371.7 651.4 370.3 652.1 368.9 652.7 367.4 653.3 365.9 653.9 364.4 654.5 362.9 655.3 361.5 656.2 360.2 657.2 359.0 658.3 357.8 659.6 356.8 661.0 356.1 662.5 355.6 664.1 355.6 665.7 356.0 667.1 356.6 668.5 357.5 669.7 358.5 670.7 359.7 671.7 361.0 672.5 362.3 673.3 363.7 674.1 365.2 674.8 366.6 675.4 368.0 676.1 369.5 676.8 370.9 677.6 372.3 678.3 373.8 679.0 375.2 679.8 376.6 680.5 378.0 681.3 379.4 682.0 380.8 682.8 382.2 683.6 383.6 684.4 385.0 685.4 386.3 686.5 387.4 687.9 388.2 689.5 388.5 691.1 388.5 692.7 388.3 694.3 388.3 695.9 388.4 697.4 389.0 698.7 389.8 700.0 390.8 701.1 391.9 702.1 393.2 703.1 394.4 704.0 395.7 704.8 397.1 705.6 398.5 706.4 399.9 707.1 401.4 707.7 402.8 708.3 404.3 708.9 405.8 709.4 407.3 709.9 408.8 710.4 410.4 710.8 411.9 711.3 413.4 711.7 415.0 712.1 416.5 712.5 418.1 712.9 419.6 713.2 421.2 713.5 422.8 713.9 424.3 714.2 425.9 714.5 427.5 714.7 429.0 715.0 430.6 715.3 432.2 715.5 433.8 715.7 435.4 716.0 436.9 716.2 438.5 716.4 440.1 716.6 441.7 716.8 443.3 717.0 444.9 717.2 446.5 717.3 448.1 717.5 449.6 717.7 451.2 717.8 452.8 718.0 454.4 718.1 456.0 718.3 457.6 718.5 459.2 718.6 460.8 718.8 462.4 718.9 464.0 719.1 465.6 719.2 467.2 719.4 468.7 719.6 470.3 719.8 471.9 719.9 473.5 720.1 475.1 720.3 476.7 720.5 478.3 720.7 479.9 721.0 481.5 721.2 483.0 721.4 484.6 721.7 486.2 722.0 487.8 722.2 489.3 722.5 490.9 722.8 492.5 723.1 494.1 723.4 495.6 723.7 497.2 724.0 498.8 724.2 500.4 724.5 501.9 724.8 503.5 725.0 505.1 725.3 506.7 725.5 508.3 725.8 509.8 726.1 511.4 726.4 513.0 727.0 514.4 728.0 513.7 728.4 512.2 728.7 510.6 729.0 509.0 729.2 507.4 729.5 505.8 729.7 504.3 730.0 502.7 730.2 501.1 730.5 499.5 730.8 497.9 731.1 496.4 731.4 494.8 731.7 493.2 732.0 491.7 732.3 490.1 732.6 488.5 732.9 486.9 733.2 485.4 733.5 483.8 733.7 482.2 734.0 480.6 734.3 479.1 734.5 477.5 734.8 475.9 735.0 474.3 735.3 472.7 735.5 471.2 735.7 469.6 736.0 468.0 736.2 466.4 736.4 464.8 736.6 463.2 736.9 461.7 737.1 460.1 737.3 458.5 737.5 456.9 737.7 455.3 737.9 453.7 738.1 452.1 738.3 450.6 738.5 449.0 738.8 447.4 739.0 445.8 739.2 444.2 739.4 442.6 739.6 441.0 739.8 439.5 740.0 437.9 740.2 436.3 740.5 434.7 740.7 433.1 740.9 431.5 741.1 430.0 741.4 428.4 741.6 426.8 741.9 425.2 742.1 423.6 742.4 422.0 742.6 420.5 742.9 418.9 743.1 417.3 743.4 415.7 743.7 414.2 744.0 412.6 744.3 411.0 744.6 409.4 744.9 407.9 745.2 406.3 745.5 404.7 745.9 403.2 746.2 401.6 746.6 400.1 746.9 398.5 747.3 396.9 747.7 395.4 748.1 393.8 748.5 392.3 748.9 390.7 749.3 389.2 749.8 387.7 750.2 386.1 750.7 384.6 751.2 383.1 751.6 381.6 752.1 380.0 752.7 378.5 753.2 377.0 753.7 375.5 754.3 374.0 754.8 372.5 755.4 371.0 756.0 369.5 756.6 368.0 757.2 366.5 757.8 365.1 758.4 363.6 759.1 362.2 759.8 360.7 760.5 359.3 761.3 357.9 762.2 356.5 763.1 355.2 764.1 354.0 765.1 352.8 766.3 351.7 767.6 350.7 768.9 349.9 770.4 349.2 771.9 348.6 773.4 348.2 775.0 348.1 776.6 348.1 778.2 348.3 779.7 348.7 781.2 349.4 782.5 350.3 783.7 351.4 784.8 352.6 785.8 353.8 786.7 355.1 787.7 356.4 788.6 357.7 789.5 359.0 790.5 360.3 791.6 361.5 792.7 362.6 794.0 363.6 795.3 364.4 796.7 365.2 798.3 365.6 799.9 365.7 801.3 365.2 802.6 364.2 803.5 362.9 804.3 361.5 805.0 360.1 805.7 358.6 806.4 357.2 807.1 355.7 807.8 354.3 808.5 352.8 809.2 351.4 810.0 350.0 810.7 348.6 811.5 347.2 812.2 345.8 812.9 344.3 813.6 342.9 814.2 341.4 814.9 340.0 815.5 338.5 816.1 337.0 816.7 335.5 817.3 334.0 817.9 332.5 818.5 331.1 819.0 329.6 819.6 328.0 820.1 326.5 820.7 325.0 821.2 323.5 821.7 322.0 822.2 320.5 822.8 319.0 823.3 317.5 823.8 316.0 824.4 314.5 824.9 313.0 825.5 311.5 826.0 310.0 826.6 308.5 827.2 307.0 827.8 305.5 828.3 304.0 829.0 302.5 829.6 301.0 830.2 299.6 830.8 298.1 831.4 296.6 832.1 295.2 832.7 293.7 833.4 292.2 834.0 290.8 834.7 289.3 835.4 287.9 836.0 286.4 836.7 285.0 837.4 283.5 838.1 282.1 838.8 280.7 839.6 279.3 840.4 277.9 841.2 276.5 842.0 275.1 842.9 273.8 843.9 272.5 844.9 271.2 845.9 270.0 847.0 268.9 848.2 267.8 849.4 266.8 850.7 265.9 852.1 265.1 853.6 264.4 855.0 263.7 856.6 263.3 858.1 262.9 859.7 262.7 861.3 262.7 862.9 262.9 864.4 263.4 865.9 264.1 867.2 264.9 868.5 265.9 869.7 267.0 870.8 268.1 871.8 269.3 872.8 270.6 873.7 271.9 874.6 273.2 875.5 274.6 876.3 276.0 877.0 277.4 877.7 278.8 878.4 280.2 879.1 281.7 879.8 283.1 880.5 284.6 881.2 286.0 881.8 287.5 882.5 289.0 883.1 290.4 883.8 291.9 884.5 293.3 885.1 294.8 885.7 296.3 886.4 297.7 887.0 299.2 887.6 300.7 888.2 302.1 888.9 303.6 889.5 305.1 890.1 306.6 890.6 308.1 891.2 309.6 891.8 311.1 892.4 312.6 892.9 314.1 893.5 315.6 894.0 317.1 894.5 318.6 895.0 320.1 895.5 321.6 896.0 323.1 896.5 324.7 897.0 326.2 897.4 327.7 897.9 329.3 898.4 330.8 898.8 332.3 899.3 333.8 899.8 335.4 900.4 336.9 901.0 338.3 901.7 339.8 902.4 341.2 903.2 342.6 904.1 343.9 905.0 345.2 906.2 346.2 907.8 346.5 909.2 345.8 910.2 344.6 911.0 343.2 911.7 341.8 912.2 340.2 912.6 338.7 913.0 337.2 913.4 335.6 913.8 334.1 914.2 332.5 914.6 331.0 915.0 329.4 915.5 327.9 915.9 326.3 916.4 324.8 916.8 323.3 917.3 321.7 917.7 320.2 918.2 318.7 918.7 317.1 919.1 315.6 919.6 314.1 920.1 312.6 920.6 311.0 921.0 309.5 921.5 308.0 922.0 306.4 922.4 304.9 922.9 303.4 923.4 301.9 923.8 300.3 924.2 298.8 924.7 297.2 925.1 295.7 925.5 294.2 925.9 292.6 926.4 291.1 926.8 289.5 927.2 288.0 927.6 286.4 928.0 284.9 928.4 283.3 928.8 281.8 929.2 280.2 929.6 278.7 930.0 277.1 930.4 275.6 930.9 274.1 931.3 272.5 931.7 271.0 932.2 269.4 932.7 267.9 933.1 266.4 933.6 264.9 934.2 263.4 934.7 261.8 935.2 260.3 935.8 258.9 936.4 257.4 937.0 255.9 937.7 254.4 938.4 253.0 939.1 251.5 939.8 250.1 940.6 248.7 941.4 247.3 942.2 246.0 943.2 244.7 944.1 243.4 945.2 242.2 946.4 241.1 947.6 240.1 949.0 239.3 950.4 238.5 951.9 237.9 953.4 237.5 955.0 237.1 956.6 236.9 958.1 236.9 959.7 237.0 961.3 237.3 962.8 237.8 964.3 238.4 965.7 239.2 967.0 240.2 968.2 241.2 969.3 242.4 970.3 243.6 971.3 244.8 972.3 246.1 973.2 247.5 974.0 248.8 974.8 250.2 975.6 251.6 976.4 252.9 977.2 254.3 978.0 255.7 978.7 257.2 979.5 258.6 980.2 260.0 980.9 261.5 981.6 262.9 982.2 264.3 982.9 265.8 983.5 267.3 984.2 268.7 984.8 270.2 985.4 271.7 986.0 273.2 986.6 274.7 987.1 276.2 987.7 277.7 988.2 279.2 988.8 280.7 989.3 282.2 989.8 283.7 990.3 285.2 990.8 286.8 991.2 288.3 991.7 289.8 992.2 291.4 992.6 292.9 993.0 294.4 993.5 296.0 993.9 297.5 994.3 299.1 994.7 300.6 995.1 302.2 995.5 303.7 995.8 305.3 996.2 306.8 996.6 308.4 996.9 310.0 997.2 311.5 997.6 313.1 997.9 314.6 998.2 316.2 998.5 317.8 998.8 319.4 999.1 320.9 999.4 322.5 999.7 324.1 1000.0 325.6 1000.3 327.2 1000.5 328.8 1000.8 330.4 1001.0 332.0 1001.3 333.5 1001.5 335.1 1001.8 336.7 1002.0 338.3 1002.2 339.9 1002.5 341.5 1002.7 343.0 1002.9 344.6 1003.1 346.2 1003.3 347.8 1003.5 349.4 1003.7 351.0 1003.9 352.6 1004.1 354.1 1004.3 355.7 1004.5 357.3 1004.6 358.9 1004.8 360.5 1005.0 362.1 1005.2 363.7 1005.3 365.3 1005.5 366.9 1005.7 368.5 1005.8 370.0 1006.0 371.6 1006.1 373.2 1006.3 374.8 1006.5 376.4 1006.6 378.0 1006.8 379.6 1006.9 381.2 1007.1 382.8 1007.2 384.4 1007.3 386.0 1007.5 387.6 1007.6 389.2 1007.8 390.8 1007.9 392.3 1008.0 393.9 1008.2 395.5 1008.3 397.1 1008.4 398.7 1008.6 400.3 1008.7 401.9 1008.8 403.5 1008.9 405.1 1009.1 406.7 1009.2 408.3 1009.3 409.9 1009.4 411.5 1009.5 413.1 1009.6 414.7 1009.7 416.3 1009.9 417.9 1010.0 419.5 1010.1 421.1 1010.2 422.7 1010.3 424.3 1010.4 425.9 1010.5 427.4 1010.6 429.0 1010.7 430.6 1010.8 432.2 1010.9 433.8 1011.0 435.4 1011.1 437.0 1011.2 438.6 1011.2 440.2 1011.3 441.8 1011.4 443.4 1011.5 445.0 1011.6 446.6 1011.7 448.2 1011.8 449.8 1011.8 451.4 1011.9 453.0 1012.0 454.6 1012.1 456.2 1012.1 457.8 1012.2 459.4 1012.3 461.0 1012.4 462.6 1012.4 464.2 1012.5 465.8 1012.6 467.4 1012.6 469.0 1012.7 470.6 1012.8 472.2 1012.8 473.8 1012.9 475.4 1013.0 477.0 1013.0 478.6 1013.1 480.2 1013.1 481.8 1013.2 483.4 1013.3 485.0 1013.3 486.6 1013.4 488.2 1013.4 489.8 1013.5 491.4 1013.5 493.0 1013.6 494.6 1013.6 496.2 1013.7 497.8 1013.7 499.4 1013.8 501.0 1013.8 502.6 1013.9 504.2 1013.9 505.8 1014.0 507.4 1014.0 509.0 1014.1 510.6 1014.1 512.2 1014.1 513.8 1014.2 515.4 1014.2 517.0 1014.3 518.6 1014.3 520.2 1014.3 521.7 1014.4 523.3 1014.4 524.9 1014.5 526.5 1014.5 528.1 1014.5 529.7 1014.6 531.3 1014.6 532.9 1014.6 534.5 1014.7 536.1 1014.7 537.7 1014.7 539.3 1014.8 540.9 1014.8 542.5 1014.8 544.1 1014.9 545.7 1014.9 547.3 1014.9 548.9 1015.0 550.5 1015.0 552.1 1015.0 553.7 1015.0 555.3 1015.1 556.9 1015.1 558.5 1015.1 560.1 1015.2 561.7 1015.2 563.3 1015.2 564.9 1015.2 566.5 1015.3 568.1 1015.3 569.7 1015.3 571.3 1015.3 572.9 1015.4 574.5 1015.4 576.1 1015.4 577.7 1015.4 579.3 1015.5 580.9 1015.5 582.5 1015.5 584.1 1015.5 585.7 1015.6 587.3 1015.6 588.9 1015.6 590.5 1015.6 592.1 1015.7 593.7 1015.7 595.3 1015.7 596.9 1015.7 598.5 1015.8 600.1 1015.8 601.7 1015.8 603.3 1015.8 604.9 1015.9 606.5 1015.9 608.1 1015.9 609.7 1015.9 611.3 1016.0 612.9 1016.0 614.5 1016.0 616.1 1016.1 617.7 1016.1 619.3 1016.1 620.9 1016.1 622.5 1016.2 624.1 1016.2 625.7 1016.2 627.3 1016.2 628.9 1016.3 630.5 1016.3 632.1 1016.3 633.7 1016.4 635.3 1016.4 636.9 1016.4 638.5 1016.5 640.1 1016.5 641.7 1016.5 643.3 1016.5 644.9 1016.6 646.5 1016.6 648.1 1016.6 649.7 1016.7 651.3 1016.7 652.9 1016.8 654.5 1016.8 656.1 1016.8 657.7 1016.9 659.3 1016.9 660.9 1016.9 662.5 1017.0 664.1 1017.0 665.7 1017.1 667.3 1017.1 668.9 1017.1 670.5 1017.2 672.1 1017.2 673.7 1017.3 675.3 1017.3 676.9 1017.4 678.5 1017.4 680.1 1017.4 681.7 1017.5 683.3 1017.5 684.9 1017.7 685.5 1017.7 683.9 1017.8 682.3 1017.9 680.7 1017.9 679.1 1018.0 677.5 1018.1 675.9 1018.1 674.3 1018.2 672.7 1018.3 671.1 1018.3 669.5 1018.4 667.9 1018.4 666.3 1018.5 664.7 1018.6 663.1 1018.6 661.5 1018.7 659.9 1018.7 658.3 1018.8 656.7 1018.8 655.1 1018.9 653.5 1018.9 651.9 1019.0 650.3 1019.1 648.7 1019.1 647.1 1019.1 645.5 1019.2 643.9 1019.2 642.3 1019.3 640.7 1019.3 639.1 1019.4 637.5 1019.4 635.9 1019.5 634.3 1019.5 632.7 1019.6 631.1 1019.6 629.5 1019.6 627.9 1019.7 626.3 1019.7 624.7 1019.8 623.1 1019.8 621.5 1019.9 619.9 1019.9 618.3 1019.9 616.7 1020.0 615.1 1020.0 613.5 1020.0 611.9 1020.1 610.3 1020.1 608.7 1020.2 607.1 1020.2 605.5 1020.2 603.9 1020.3 602.3 1020.3 600.7 1020.3 599.1 1020.4 597.5 1020.4 595.9 1020.4 594.4 1020.5 592.8 1020.5 591.2 1020.5 589.6 1020.6 588.0 1020.6 586.4 1020.6 584.8 1020.7 583.2 1020.7 581.6 1020.7 580.0 1020.8 578.4 1020.8 576.8 1020.8 575.2 1020.9 573.6 1020.9 572.0 1020.9 570.4 1021.0 568.8 1021.0 567.2 1021.0 565.6 1021.1 564.0 1021.1 562.4 1021.1 560.8 1021.2 559.2 1021.2 557.6 1021.2 556.0 1021.3 554.4 1021.3 552.8 1021.4 551.2 1021.4 549.6 1021.4 548.0 1021.5 546.4 1021.5 544.8 1021.5 543.2 1021.6 541.6 1021.6 540.0 1021.6 538.4 1021.7 536.8 1021.7 535.2 1021.8 533.6 1021.8 532.0 1021.8 530.4 1021.9 528.8 1021.9 527.2 1022.0 525.6 1022.0 524.0 1022.0 522.4 1022.1 520.8 1022.1 519.2 1022.2 517.6 1022.2 516.0 1022.3 514.4 1022.3 512.8 1022.4 511.2 1022.4 509.6 1022.4 508.0 1022.5 506.4 1022.5 504.8 1022.6 503.2 1022.6 501.6 1022.7 500.0 1022.7 498.4 1022.8 496.8 1022.8 495.2 1022.9 493.6 1023.0 492.0 1023.0 490.4 1023.1 488.8 1023.1 487.2 1023.2 485.6 1023.2 484.0 1023.3 482.4 1023.4 480.8 1023.4 479.2 1023.5 477.6 1023.6 476.0 1023.6 474.4 1023.7 472.8 1023.7 471.2 1023.8 469.6 1023.9 468.0 1024.0 466.4 1024.0 464.8 1024.1 463.2 1024.2 461.6 1024.2 460.0 1024.3 458.4 1024.4 456.8 1024.5 455.2 1024.6 453.6 1024.6 452.0 1024.7 450.4 1024.8 448.8 1024.9 447.2 1025.0 445.6 1025.1 444.1 1025.1 442.5 1025.2 440.9 1025.3 439.3 1025.4 437.7 1025.5 436.1 1025.6 434.5 1025.7 432.9 1025.8 431.3 1025.9 429.7 1026.0 428.1 1026.1 426.5 1026.2 424.9 1026.3 423.3 1026.4 421.7 1026.5 420.1 1026.6 418.5 1026.8 416.9 1026.9 415.3 1027.0 413.7 1027.1 412.1 1027.2 410.5 1027.3 408.9 1027.5 407.3 1027.6 405.7 1027.7 404.1 1027.8 402.5 1028.0 401.0 1028.1 399.4 1028.2 397.8 1028.4 396.2 1028.5 394.6 1028.6 393.0 1028.8 391.4 1028.9 389.8 1029.0 388.2 1029.2 386.6 1029.3 385.0 1029.5 383.4 1029.6 381.8 1029.8 380.2 1029.9 378.6 1030.1 377.1 1030.3 375.5 1030.4 373.9 1030.6 372.3 1030.7 370.7 1030.9 369.1 1031.1 367.5 1031.2 365.9 1031.4 364.3 1031.6 362.7 1031.8 361.1 1032.0 359.6 1032.1 358.0 1032.3 356.4 1032.5 354.8 1032.7 353.2 1032.9 351.6 1033.1 350.0 1033.3 348.4 1033.5 346.8 1033.7 345.3 1033.9 343.7 1034.1 342.1 1034.3 340.5 1034.5 338.9 1034.7 337.3 1034.9 335.7 1035.1 334.2 1035.3 332.6 1035.6 331.0 1035.8 329.4 1036.0 327.8 1036.3 326.2 1036.5 324.7 1036.7 323.1 1037.0 321.5 1037.2 319.9 1037.5 318.3 1037.8 316.8 1038.0 315.2 1038.3 313.6 1038.6 312.0 1038.9 310.5 1039.2 308.9 1039.5 307.3 1039.8 305.7 1040.1 304.2 1040.5 302.6 1040.8 301.1 1041.1 299.5 1041.5 297.9 1041.9 296.4 1042.2 294.8 1042.6 293.3 1043.0 291.7 1043.4 290.2 1043.9 288.6 1044.3 287.1 1044.7 285.6 1045.2 284.0 1045.7 282.5 1046.1 281.0 1046.6 279.4 1047.1 277.9 1047.7 276.4 1048.2 274.9 1048.7 273.4 1049.3 271.9 1049.9 270.4 1050.5 268.9 1051.1 267.4 1051.7 266.0 1052.4 264.5 1053.1 263.1 1053.9 261.7 1054.7 260.3 1055.5 259.0 1056.5 257.6 1057.4 256.4 1058.5 255.2 1059.6 254.0 1060.7 252.9 1061.9 251.9 1063.2 250.9 1064.6 250.0 1066.0 249.3 1067.4 248.6 1068.9 248.0 1070.4 247.5 1072.0 247.1 1073.6 246.9 1075.2 246.8 1076.8 246.8 1078.3 247.0 1079.9 247.4 1081.4 247.9 1082.9 248.5 1084.3 249.2 1085.7 250.0 1087.1 250.8 1088.4 251.7 1089.8 252.6 1091.1 253.5 1092.4 254.4 1093.7 255.4 1095.0 256.3 1096.2 257.3 1097.5 258.2 1098.8 259.1 1100.2 260.0 1101.5 260.9 1102.8 261.8 1104.2 262.7 1105.5 263.5 1106.9 264.3 1108.3 265.1 1109.7 265.8 1111.2 266.5 1112.7 267.1 1114.1 267.7 1115.7 268.2 1117.2 268.7 1118.7 269.1 1120.3 269.5 1121.9 269.8 1123.5 269.9 1125.0 270.0 1126.6 270.0 1128.2 269.9 1129.8 269.6 1131.4 269.3 1132.9 268.8 1134.4 268.3 1135.9 267.6 1137.3 266.9 1138.7 266.1 1140.0 265.2 1141.3 264.3 1142.6 263.3 1143.8 262.3 1145.0 261.3 1146.2 260.2 1147.4 259.1 1148.5 257.9 1149.6 256.7 1150.6 255.5 1151.7 254.3 1152.7 253.1 1153.7 251.8 1154.7 250.6 1155.6 249.3 1156.6 248.0 1157.5 246.7 1158.4 245.4 1159.3 244.0 1160.1 242.7 1161.0 241.3 1161.9 240.0 1162.7 238.6 1163.5 237.3 1164.4 235.9 1165.2 234.5 1166.0 233.2 1166.9 231.8 1167.7 230.4 1168.5 229.1 1169.4 227.7 1170.3 226.4 1171.1 225.0 1172.0 223.7 1172.9 222.4 1173.8 221.0 1174.7 219.7 1175.6 218.4 1176.6 217.1 1177.6 215.9 1178.6 214.6 1179.6 213.4 1180.6 212.2 1181.7 211.0 1182.8 209.8 1183.9 208.7 1185.0 207.5 1186.2 206.4 1187.4 205.4 1188.6 204.3 1189.8 203.3 1191.1 202.4 1192.4 201.5 1193.8 200.6 1195.1 199.8 1196.5 199.0 1198.0 198.3 1199.4 197.6 1200.9 197.0 1202.4 196.4 1203.9 196.0 1205.5 195.5 1207.0 195.2 1208.6 194.9 1210.2 194.7 1211.8 194.6 1213.4 194.6 1215.0 194.7 1216.6 194.8 1218.2 195.1 1219.7 195.5 1221.2 196.0 1222.7 196.7 1224.1 197.4 1225.5 198.2 1226.8 199.1 1228.1 200.1 1229.3 201.1 1230.5 202.2 1231.6 203.3 1232.7 204.5 1233.8 205.7 1234.8 206.9 1235.8 208.1 1236.8 209.4 1237.7 210.7 1238.7 212.0 1239.6 213.3 1240.5 214.7 1241.3 216.0 1242.2 217.4 1243.0 218.7 1243.8 220.1 1244.6 221.5 1245.4 222.9 1246.2 224.3 1246.9 225.7 1247.6 227.1 1248.4 228.6 1249.1 230.0 1249.8 231.4 1250.5 232.9 1251.1 234.3 1251.8 235.8 1252.5 237.2 1253.1 238.7 1253.8 240.2 1254.4 241.6 1255.0 243.1 1255.7 244.6 1256.3 246.0 1256.9 247.5 1257.5 249.0 1258.1 250.5 1258.7 252.0 1259.2 253.5 1259.8 255.0 1260.3 256.5 1260.8 258.0 1261.3 259.5 1261.8 261.1 1262.2 262.6 1262.6 264.1 1263.0 265.7 1263.4 267.2 1263.8 268.8 1264.1 270.4 1264.5 271.9 1264.8 273.5 1265.2 275.0 1265.6 276.6 1265.9 278.2 1266.3 279.7 1266.7 281.3 1267.1 282.8 1267.5 284.4 1268.0 285.9 1268.5 287.4 1269.0 288.9 1269.5 290.4 1270.1 291.9 1270.8 293.4 1271.4 294.8 1272.1 296.3 1272.9 297.7 1273.7 299.1 1274.6 300.4 1275.5 301.7 1276.4 303.0 1277.5 304.2 1278.7 305.3 1280.0 306.1 1281.6 306.6 1283.1 306.5 1284.6 305.9 1286.0 305.0 1287.1 303.9 1288.0 302.6 1288.8 301.2 1289.5 299.8 1290.2 298.3 1290.8 296.8 1291.4 295.3 1291.9 293.8 1292.5 292.3 1293.1 290.8 1293.7 289.4 1294.3 287.9 1294.9 286.4 1295.6 285.0 1296.3 283.5 1296.9 282.1 1297.6 280.6 1298.3 279.2 1299.0 277.7 1299.6 276.2 1300.2 274.8 1300.8 273.3"/>
<path stroke="#fa0000" d="M355.7 277.0L356.1 275.5 356.6 273.9 357.0 272.4 357.5 270.9 357.9 269.3 358.3 267.8 358.8 266.2 359.2 264.7 359.6 263.2 360.1 261.6 360.6 260.1 361.1 258.6 361.6 257.1 362.2 255.6 362.8 254.1 363.4 252.6 364.1 251.2 364.8 249.7 365.5 248.3 366.3 247.0 367.2 245.6 368.1 244.3 369.1 243.0 370.1 241.8 371.1 240.6 372.2 239.4 373.4 238.3 374.7 237.3 376.0 236.4 377.3 235.6 378.8 234.9 380.3 234.4 381.9 234.2 383.5 234.1 385.1 234.3 386.6 234.7 388.1 235.3 389.5 236.1 390.9 236.9 392.1 237.9 393.3 238.9 394.5 240.1 395.5 241.3 396.5 242.5 397.4 243.9 398.3 245.2 399.1 246.6 399.9 248.0 400.6 249.4 401.4 250.8 402.0 252.3 402.7 253.7 403.3 255.2 403.9 256.7 404.5 258.2 405.1 259.6 405.7 261.1 406.2 262.6 406.8 264.1 407.3 265.6 407.9 267.2 408.4 268.7 408.9 270.2 409.4 271.7 409.9 273.2 410.4 274.8 410.8 276.3 411.3 277.8 411.8 279.3 412.2 280.9 412.7 282.4 413.1 284.0 413.5 285.5 413.9 287.0 414.3 288.6 414.8 290.1 415.1 291.7 415.5 293.2 415.9 294.8 416.3 296.3 416.7 297.9 417.0 299.5 417.4 301.0 417.7 302.6 418.1 304.1 418.4 305.7 418.7 307.3 419.0 308.8 419.3 310.4 419.7 312.0 420.0 313.6 420.3 315.1 420.5 316.7 420.8 318.3 421.1 319.8 421.4 321.4 421.6 323.0 421.9 324.6 422.2 326.2 422.4 327.7 422.7 329.3 422.9 330.9 423.2 332.5 423.4 334.1 423.6 335.6 423.8 337.2 424.1 338.8 424.3 340.4 424.5 342.0 424.7 343.6 424.9 345.2 425.1 346.7 425.3 348.3 425.5 349.9 425.7 351.5 425.9 353.1 426.1 354.7 426.3 356.3 426.5 357.9 426.6 359.5 426.8 361.0 427.0 362.6 427.2 364.2 427.3 365.8 427.5 367.4 427.7 369.0 427.8 370.6 428.0 372.2 428.2 373.8 428.3 375.4 428.5 377.0 428.6 378.5 428.8 380.1 428.9 381.7 429.1 383.3 429.2 384.9 429.4 386.5 429.5 388.1 429.7 389.7 429.8 391.3 429.9 392.9 430.1 394.5 430.2 396.1 430.3 397.7 430.5 399.3 430.6 400.9 430.7 402.4 430.9 404.0 431.0 405.6 431.1 407.2 431.2 408.8 431.4 410.4 431.5 412.0 431.6 413.6 431.7 415.2 431.8 416.8 431.9 418.4 432.0 420.0 432.1 421.6 432.3 423.2 432.4 424.8 432.5 426.4 432.6 428.0 432.7 429.6 432.8 431.2 432.9 432.8 433.0 434.4 433.1 436.0 433.2 437.6 433.3 439.2 433.3 440.8 433.4 442.4 433.5 443.9 433.6 445.5 433.7 447.1 433.8 448.7 433.9 450.3 434.0 451.9 434.0 453.5 434.1 455.1 434.2 456.7 434.3 458.3 434.4 459.9 434.4 461.5 434.5 463.1 434.6 464.7 434.6 466.3 434.7 467.9 434.8 469.5 434.9 471.1 434.9 472.7 435.0 474.3 435.1 475.9 435.1 477.5 435.2 479.1 435.2 480.7 435.3 482.3 435.4 483.9 435.4 485.5 435.5 487.1 435.5 488.7 435.6 490.3 435.7 491.9 435.7 493.5 435.8 495.1 435.8 496.7 435.9 498.3 435.9 499.9 436.0 501.5 436.0 503.1 436.1 504.7 436.1 506.3 436.2 507.9 436.2 509.5 436.3 511.1 436.3 512.7 436.3 514.3 436.4 515.9 436.4 517.5 436.5 519.1 436.5 520.7 436.6 522.3 436.6 523.9 436.6 525.5 436.7 527.1 436.7 528.7 436.8 530.3 436.8 531.9 436.8 533.5 436.9 535.1 436.9 536.7 436.9 538.3 437.0 539.9 437.0 541.5 437.0 543.1 437.1 544.7 437.1 546.3 437.1 547.9 437.2 549.5 437.2 551.1 437.2 552.7 437.3 554.3 437.3 555.9 437.3 557.5 437.4 559.1 437.4 560.7 437.4 562.3 437.4 563.9 437.5 565.5 437.5 567.1 437.5 568.7 437.6 570.3 437.6 571.9 437.6 573.5 437.6 575.1 437.7 576.7 437.7 578.3 437.7 579.9 437.7 581.5 437.8 583.1 437.8 584.7 437.8 586.3 437.8 587.9 437.9 589.5 437.9 591.1 437.9 592.7 438.0 594.3 438.0 595.9 438.0 597.5 438.0 599.0 438.1 600.6 438.1 602.2 438.1 603.8 438.1 605.4 438.2 607.0 438.2 608.6 438.2 610.2 438.2 611.8 438.3 613.4 438.3 615.0 438.3 616.6 438.3 618.2 438.4 619.8 438.4 621.4 438.4 623.0 438.5 624.6 438.5 626.2 438.5 627.8 438.5 629.4 438.6 631.0 438.6 632.6 438.6 634.2 438.7 635.8 438.7 637.4 438.7 639.0 438.7 640.6 438.8 642.2 438.8 643.8 438.8 645.4 438.9 647.0 438.9 648.6 438.9 650.2 439.0 651.8 439.0 650.5 439.0 648.9 438.9 647.3 438.9 645.7 438.9 644.1 438.9 642.5 438.9 641.0 438.9 639.4 438.9 637.8 438.9 636.2 438.9 634.6 439.0 633.0 439.0 631.4 439.0 629.8 439.0 628.2 439.0 626.6 439.1 625.0 439.1 623.4 439.1 621.8 439.2 620.2 439.2 618.6 439.2 617.0 439.3 615.4 439.3 613.8 439.3 612.2 439.4 610.6 439.4 609.0 439.5 607.4 439.5 605.8 439.6 604.2 439.6 602.6 439.7 601.0 439.7 599.4 439.8 597.8 439.9 596.2 439.9 594.6 440.0 593.0 440.0 591.4 440.1 589.8 440.2 588.2 440.2 586.6 440.3 585.0 440.3 583.4 440.4 581.8 440.5 580.2 440.5 578.6 440.6 577.0 440.7 575.4 440.7 573.8 440.8 572.2 440.9 570.6 440.9 569.0 441.0 567.4 441.1 565.8 441.1 564.2 441.2 562.6 441.3 561.0 441.3 559.4 441.4 557.8 441.5 556.2 441.5 554.6 441.6 553.0 441.6 551.4 441.7 549.8 441.8 548.2 441.8 546.6 441.9 545.0 441.9 543.4 442.0 541.8 442.1 540.2 442.1 538.6 442.2 537.0 442.2 535.4 442.3 533.8 442.3 532.2 442.4 530.6 442.4 529.0 442.5 527.4 442.5 525.8 442.6 524.2 442.6 522.6 442.7 521.0 442.7 519.4 442.7 517.8 442.8 516.2 442.8 514.6 442.9 513.0 442.9 511.4 442.9 509.8 443.0 508.2 443.0 506.6 443.1 505.0 443.1 503.4 443.1 501.8 443.2 500.2 443.2 498.6 443.3 497.0 443.3 495.4 443.3 493.8 443.4 492.2 443.4 490.6 443.4 489.0 443.5 487.4 443.5 485.8 443.6 484.2 443.6 482.7 443.6 481.1 443.7 479.5 443.7 477.9 443.8 476.3 443.8 474.7 443.8 473.1 443.9 471.5 443.9 469.9 444.0 468.3 444.0 466.7 444.1 465.1 444.1 463.5 444.2 461.9 444.2 460.3 444.3 458.7 444.3 457.1 444.4 455.5 444.4 453.9 444.5 452.3 444.5 450.7 444.6 449.1 444.6 447.5 444.7 445.9 444.7 444.3 444.8 442.7 444.9 441.1 444.9 439.5 445.0 437.9 445.1 436.3 445.1 434.7 445.2 433.1 445.3 431.5 445.3 429.9 445.4 428.3 445.5 426.7 445.6 425.1 445.6 423.5 445.7 421.9 445.8 420.3 445.9 418.7 446.0 417.1 446.1 415.5 446.2 413.9 446.3 412.3 446.3 410.7 446.4 409.1 446.5 407.5 446.6 405.9 446.8 404.3 446.9 402.7 447.0 401.1 447.1 399.5 447.2 397.9 447.3 396.4 447.4 394.8 447.6 393.2 447.7 391.6 447.8 390.0 447.9 388.4 448.1 386.8 448.2 385.2 448.3 383.6 448.5 382.0 448.6 380.4 448.8 378.8 448.9 377.2 449.1 375.6 449.2 374.0 449.4 372.4 449.6 370.9 449.7 369.3 449.9 367.7 450.1 366.1 450.2 364.5 450.4 362.9 450.6 361.3 450.8 359.7 451.0 358.1 451.2 356.5 451.3 355.0 451.5 353.4 451.7 351.8 451.9 350.2 452.1 348.6 452.3 347.0 452.5 345.4 452.8 343.8 453.0 342.3 453.2 340.7 453.4 339.1 453.6 337.5 453.9 335.9 454.1 334.3 454.3 332.8 454.5 331.2 454.8 329.6 455.0 328.0 455.3 326.4 455.5 324.8 455.8 323.3 456.0 321.7 456.3 320.1 456.5 318.5 456.8 317.0 457.1 315.4 457.4 313.8 457.6 312.2 457.9 310.7 458.2 309.1 458.5 307.5 458.8 305.9 459.1 304.4 459.5 302.8 459.8 301.2 460.1 299.7 460.5 298.1 460.8 296.6 461.2 295.0 461.5 293.4 461.9 291.9 462.3 290.3 462.7 288.8 463.0 287.2 463.4 285.7 463.9 284.1 464.3 282.6 464.7 281.0 465.1 279.5 465.6 278.0 466.0 276.4 466.5 274.9 466.9 273.4 467.4 271.8 467.9 270.3 468.4 268.8 468.9 267.3 469.4 265.7 469.9 264.2 470.4 262.7 470.9 261.2 471.5 259.7 472.1 258.2 472.7 256.7 473.3 255.3 474.0 253.8 474.7 252.4 475.4 251.0 476.2 249.6 477.1 248.2 478.0 246.9 479.0 245.7 480.1 244.5 481.2 243.3 482.4 242.3 483.7 241.4 485.1 240.5 486.5 239.8 488.0 239.3 489.6 238.9 491.2 238.7 492.8 238.8 494.3 239.1 495.8 239.7 497.2 240.4 498.6 241.3 499.9 242.3 501.0 243.3 502.1 244.5 503.2 245.7 504.1 247.0 505.0 248.4 505.8 249.7 506.5 251.2 507.2 252.6 507.8 254.1 508.3 255.6 508.8 257.1 509.3 258.6 509.8 260.2 510.2 261.7 510.6 263.3 511.0 264.8 511.4 266.4 511.7 267.9 512.1 269.5 512.4 271.1 512.7 272.6 513.0 274.2 513.3 275.8 513.6 277.3 513.9 278.9 514.2 280.5 514.4 282.1 514.7 283.6 515.0 285.2 515.2 286.8 515.4 288.4 515.7 290.0 515.9 291.6 516.1 293.1 516.4 294.7 516.6 296.3 516.8 297.9 517.0 299.5 517.3 301.1 517.5 302.6 517.7 304.2 518.0 305.8 518.2 307.4 518.4 309.0 518.7 310.6 518.9 312.1 519.1 313.7 519.4 315.3 519.6 316.9 519.8 318.5 520.1 320.0 520.3 321.6 520.5 323.2 520.8 324.8 521.0 326.4 521.3 328.0 521.5 329.5 521.7 331.1 522.0 332.7 522.2 334.3 522.4 335.9 522.6 337.5 522.9 339.0 523.1 340.6 523.3 342.2 523.6 343.8 523.8 345.4 524.0 347.0 524.2 348.5 524.4 350.1 524.7 351.7 524.9 353.3 525.1 354.9 525.3 356.5 525.5 358.1 525.7 359.6 525.9 361.2 526.1 362.8 526.3 364.4 526.5 366.0 526.7 367.6 526.9 369.2 527.1 370.8 527.3 372.3 527.4 373.9 527.6 375.5 527.8 377.1 528.0 378.7 528.1 380.3 528.3 381.9 528.4 383.5 528.6 385.1 528.7 386.7 528.9 388.3 529.0 389.9 529.2 391.5 529.3 393.0 529.4 394.6 529.5 396.2 529.6 397.8 529.8 399.4 529.9 401.0 530.0 402.6 530.1 404.2 530.2 405.8 530.3 407.4 530.3 409.0 530.4 410.6 530.5 412.2 530.6 413.8 530.7 415.4 530.8 417.0 530.8 418.6 530.9 420.2 531.0 421.8 531.1 423.4 531.1 425.0 531.2 426.6 531.3 428.2 531.3 429.8 531.4 431.4 531.5 433.0 531.6 434.6 531.6 436.2 531.7 437.8 531.8 439.4 531.9 441.0 531.9 442.6 532.0 444.2 532.1 445.8 532.2 447.4 532.3 449.0 532.4 450.6 532.5 452.1 532.6 453.7 532.7 455.3 532.8 456.9 532.9 458.5 533.0 460.1 533.1 461.7 533.2 463.3 533.4 464.9 533.5 466.5 533.6 468.1 533.8 469.7 533.9 471.3 534.1 472.9 534.2 474.5 534.6 474.4 534.8 472.8 534.9 471.2 535.1 469.6 535.3 468.0 535.4 466.4 535.5 464.8 535.7 463.2 535.8 461.6 535.9 460.0 536.0 458.4 536.2 456.9 536.3 455.3 536.4 453.7 536.5 452.1 536.6 450.5 536.7 448.9 536.9 447.3 537.0 445.7 537.1 444.1 537.2 442.5 537.3 440.9 537.5 439.3 537.6 437.7 537.8 436.1 537.9 434.5 538.1 432.9 538.2 431.3 538.4 429.8 538.6 428.2 538.8 426.6 539.0 425.0 539.2 423.4 539.5 421.8 539.7 420.2 540.0 418.7 540.2 417.1 540.5 415.5 540.8 413.9 541.1 412.4 541.5 410.8 541.8 409.3 542.4 407.8 542.7 409.4 542.9 410.9 543.1 412.5 543.2 414.1 543.4 415.7 543.6 417.3 543.8 418.9 544.0 420.5 544.2 422.1 544.3 423.7 544.5 425.3 544.7 426.8 544.8 428.4 545.0 430.0 545.2 431.6 545.3 433.2 545.5 434.8 545.6 436.4 545.8 438.0 545.9 439.6 546.1 441.2 546.2 442.8 546.4 444.4 546.6 445.9 547.0 445.6 547.3 444.0 547.6 442.4 547.9 440.8 548.1 439.3 548.4 437.7 548.6 436.1 548.9 434.5 549.1 433.0 549.4 431.4 549.6 429.8 549.9 428.2 550.1 426.6 550.3 425.0 550.6 423.5 550.8 421.9 551.0 420.3 551.2 418.7 551.4 417.1 551.6 415.5 551.8 413.9 552.0 412.4 552.2 410.8 552.4 409.2 552.6 407.6 552.8 406.0 553.0 404.4 553.1 402.8 553.3 401.2 553.5 399.6 553.7 398.1 553.8 396.5 554.0 394.9 554.2 393.3 554.3 391.7 554.5 390.1 554.6 388.5 554.8 386.9 554.9 385.3 555.1 383.7 555.2 382.1 555.4 380.5 555.5 378.9 555.6 377.3 555.8 375.8 555.9 374.2 556.0 372.6 556.2 371.0 556.3 369.4 556.4 367.8 556.5 366.2 556.7 364.6 556.8 363.0 556.9 361.4 557.0 359.8 557.1 358.2 557.2 356.6 557.4 355.0 557.5 353.4 557.6 351.8 557.7 350.2 557.8 348.6 557.9 347.0 558.0 345.4 558.1 343.8 558.3 342.3 558.4 340.7 558.5 339.1 558.6 337.5 558.7 335.9 558.8 334.3 559.0 332.7 559.1 331.1 559.2 329.5 559.3 327.9 559.5 326.3 559.6 324.7 559.7 323.1 559.9 321.5 560.0 319.9 560.2 318.3 560.3 316.7 560.5 315.1 560.6 313.6 560.8 312.0 561.0 310.4 561.1 308.8 561.3 307.2 561.5 305.6 561.7 304.0 561.9 302.4 562.1 300.8 562.3 299.3 562.5 297.7 562.7 296.1 562.9 294.5 563.2 292.9 563.4 291.3 563.7 289.8 563.9 288.2 564.2 286.6 564.5 285.0 564.7 283.4 565.0 281.9 565.3 280.3 565.6 278.7 566.0 277.2 566.3 275.6 566.6 274.0 567.0 272.5 567.3 270.9 567.7 269.4 568.1 267.8 568.5 266.2 568.8 264.7 569.3 263.2 569.7 261.6 570.1 260.1 570.6 258.5 571.0 257.0 571.5 255.5 572.0 254.0 572.7 252.5 573.4 251.1 574.2 249.7 575.1 248.4 576.2 247.2 577.3 246.1 578.7 245.2 580.1 244.5 581.7 244.1 583.2 244.0 584.8 244.1 586.4 244.5 587.9 245.1 589.2 245.9 590.5 246.9 591.6 248.0 592.6 249.3 593.6 250.6 594.5 251.9 595.3 253.3 596.0 254.7 596.8 256.1 597.5 257.5 598.3 258.9 599.0 260.3 599.7 261.8 600.4 263.2 601.1 264.6 601.9 266.1 602.6 267.5 603.3 268.9 604.0 270.4 604.7 271.8 605.4 273.3 606.1 274.7 606.8 276.1 607.5 277.5 608.3 279.0 609.0 280.4 609.7 281.8 610.5 283.2 611.2 284.6 612.0 286.0 612.8 287.4 613.6 288.8 614.3 290.2 615.1 291.6 615.9 293.0 616.8 294.4 617.6 295.7 618.4 297.1 619.3 298.5 620.1 299.8 621.0 301.2 621.9 302.5 622.7 303.8 623.6 305.2 624.6 306.5 625.5 307.8 626.4 309.1 627.4 310.3 628.4 311.6 629.5 312.8 630.5 314.0 631.7 315.1 632.8 316.2 634.1 317.2 635.3 318.2 636.6 319.1 638.0 319.9 639.4 320.7 640.9 321.3 642.4 321.9 643.9 322.4 645.5 322.8 647.0 323.2 648.6 323.6 650.1 323.9 651.7 324.3 653.2 324.7 654.8 325.2 656.3 325.7 657.7 326.4 659.1 327.1 660.5 328.0 661.7 329.0 662.8 330.1 663.9 331.3 664.9 332.6 665.8 333.9 666.6 335.3 667.4 336.7 668.1 338.1 668.7 339.6 669.4 341.1 670.0 342.6 670.5 344.1 671.1 345.6 671.6 347.1 672.1 348.6 672.6 350.1 673.1 351.6 673.6 353.1 674.0 354.7 674.5 356.2 674.9 357.8 675.4 359.3 675.8 360.8 676.2 362.4 676.6 363.9 677.0 365.5 677.3 367.0 677.7 368.6 678.1 370.2 678.4 371.7 678.7 373.3 679.1 374.9 679.4 376.4 679.7 378.0 680.0 379.6 680.3 381.1 680.6 382.7 680.9 384.3 681.1 385.9 681.4 387.4 681.7 389.0 682.0 390.6 682.2 392.2 682.5 393.7 682.7 395.3 683.0 396.9 683.2 398.5 683.5 400.1 683.7 401.6 683.9 403.2 684.2 404.8 684.4 406.4 684.6 408.0 684.9 409.6 685.1 411.1 685.3 412.7 685.5 414.3 685.8 415.9 686.0 417.5 686.2 419.1 686.4 420.7 686.6 422.2 686.8 423.8 687.0 425.4 687.2 427.0 687.4 428.6 687.6 430.2 687.8 431.8 688.0 433.4 688.2 434.9 688.4 436.5 688.6 438.1 688.8 439.7 688.9 441.3 689.1 442.9 689.3 444.5 689.5 446.1 689.7 447.7 689.8 449.2 690.0 450.8 690.2 452.4 690.4 454.0 690.5 455.6 690.7 457.2 690.9 458.8 691.0 460.4 691.2 462.0 691.4 463.6 691.5 465.2 691.7 466.7 691.9 468.3 692.0 469.9 692.2 471.5 692.4 473.1 692.5 474.7 692.7 476.3 692.8 477.9 693.0 479.5 693.1 481.1 693.3 482.7 693.5 484.3 693.6 485.8 693.8 487.4 693.9 489.0 694.1 490.6 694.2 492.2 694.4 493.8 694.6 495.4 694.7 497.0 694.9 498.6 695.0 500.2 695.2 501.8 695.3 503.4 695.5 505.0 695.6 506.5 695.8 508.1 695.9 509.7 696.1 511.3 696.3 512.9 696.4 514.5 696.6 516.1 696.7 517.7 696.9 519.3 697.0 520.9 697.2 522.5 697.3 524.1 697.5 525.7 697.6 527.2 697.8 528.8 697.9 530.4 698.0 532.0 698.2 533.6 698.3 535.2 698.5 536.8 698.6 538.4 698.7 540.0 698.9 541.6 699.0 543.2 699.1 544.8 699.3 546.4 699.4 548.0 699.5 549.6 699.7 551.2 699.8 552.8 699.9 554.3 700.0 555.9 700.1 557.5 700.3 559.1 700.4 560.7 700.5 562.3 700.6 563.9 700.7 565.5 700.8 567.1 700.9 568.7 701.0 570.3 701.1 571.9 701.2 573.5 701.3 575.1 701.3 576.7 701.4 578.3 701.5 579.9 701.6 581.5 701.7 583.1 701.9 584.7 702.0 586.3 702.1 587.9 702.3 589.5 702.5 591.0 702.6 592.6 702.8 594.2 703.1 595.8 703.9 596.9 704.5 595.4 704.8 593.9 705.0 592.3 705.2 590.7 705.3 589.1 705.5 587.5 705.7 585.9 705.8 584.3 706.0 582.7 706.1 581.1 706.2 579.5 706.4 577.9 706.5 576.3 706.6 574.7 706.7 573.2 706.8 571.6 706.9 570.0 707.1 568.4 707.2 566.8 707.3 565.2 707.4 563.6 707.5 562.0 707.6 560.4 707.7 558.8 707.8 557.2 707.9 555.6 708.0 554.0 708.1 552.4 708.2 550.8 708.4 549.2 708.5 547.6 708.6 546.0 708.7 544.4 708.8 542.8 709.0 541.2 709.1 539.6 709.2 538.0 709.4 536.5 709.5 534.9 709.6 533.3 709.8 531.7 709.9 530.1 710.1 528.5 710.2 526.9 710.3 525.3 710.5 523.7 710.7 522.1 710.8 520.5 711.0 518.9 711.1 517.3 711.3 515.7 711.5 514.2 711.6 512.6 711.8 511.0 712.0 509.4 712.1 507.8 712.3 506.2 712.5 504.6 712.7 503.0 712.8 501.4 713.0 499.8 713.2 498.3 713.4 496.7 713.6 495.1 713.7 493.5 713.9 491.9 714.1 490.3 714.3 488.7 714.5 487.1 714.7 485.5 714.9 484.0 715.1 482.4 715.2 480.8 715.4 479.2 715.6 477.6 715.8 476.0 716.0 474.4 716.2 472.8 716.4 471.2 716.6 469.7 716.8 468.1 717.0 466.5 717.2 464.9 717.4 463.3 717.6 461.7 717.8 460.1 718.0 458.5 718.1 457.0 718.3 455.4 718.5 453.8 718.7 452.2 718.9 450.6 719.1 449.0 719.3 447.4 719.5 445.8 719.7 444.2 719.9 442.7 720.1 441.1 720.2 439.5 720.4 437.9 720.6 436.3 720.8 434.7 721.0 433.1 721.2 431.5 721.4 429.9 721.5 428.4 721.7 426.8 721.9 425.2 722.1 423.6 722.2 422.0 722.4 420.4 722.6 418.8 722.8 417.2 722.9 415.6 723.1 414.0 723.3 412.5 723.4 410.9 723.6 409.3 723.8 407.7 723.9 406.1 724.1 404.5 724.3 402.9 724.5 401.3 724.7 399.7 724.9 398.1 725.1 396.6 725.3 395.0 725.5 393.4 725.7 391.8 725.9 390.2 726.2 388.6 726.4 387.1 726.6 385.5 726.9 383.9 727.2 382.3 727.4 380.7 727.7 379.2 728.0 377.6 728.3 376.0 728.7 374.5 729.0 372.9 729.3 371.3 729.7 369.8 730.0 368.2 730.4 366.6 730.7 365.1 731.1 363.5 731.5 362.0 731.8 360.4 732.2 358.9 732.6 357.3 732.9 355.7 733.3 354.2 733.7 352.6 734.0 351.1 734.4 349.5 734.7 347.9 735.1 346.4 735.4 344.8 735.8 343.3 736.1 341.7 736.4 340.1 736.8 338.6 737.2 337.0 737.5 335.5 737.9 333.9 738.3 332.3 738.6 330.8 739.0 329.2 739.4 327.7 739.8 326.1 740.3 324.6 740.7 323.1 741.2 321.5 741.7 320.0 742.2 318.5 742.7 317.0 743.3 315.5 743.9 314.0 744.5 312.5 745.1 311.1 745.8 309.6 746.5 308.2 747.3 306.8 748.1 305.4 748.9 304.0 749.8 302.7 750.7 301.4 751.7 300.1 752.7 298.9 753.8 297.7 755.0 296.6 756.2 295.6 757.5 294.7 758.9 293.9 760.3 293.2 761.8 292.6 763.4 292.2 764.9 291.9 766.5 291.7 768.1 291.7 769.7 291.8 771.3 292.1 772.8 292.6 774.3 293.3 775.6 294.1 776.9 295.0 778.1 296.1 779.3 297.2 780.4 298.4 781.4 299.6 782.4 300.8 783.4 302.1 784.4 303.4 785.3 304.6 786.3 305.9 787.3 307.1 788.4 308.4 789.4 309.5 790.6 310.7 791.7 311.8 792.9 312.8 794.2 313.8 795.6 314.6 797.0 315.3 798.5 315.8 800.1 316.1 801.7 316.1 803.3 315.7 804.8 315.2 806.2 314.4 807.5 313.5 808.7 312.5 809.9 311.4 811.0 310.3 812.0 309.0 813.0 307.7 813.8 306.4 814.6 305.0 815.4 303.6 816.1 302.2 816.8 300.8 817.5 299.3 818.2 297.9 818.9 296.4 819.6 295.0 820.3 293.5 820.9 292.1 821.6 290.6 822.3 289.2 823.0 287.7 823.7 286.3 824.3 284.8 825.0 283.4 825.7 281.9 826.4 280.5 827.1 279.1 827.8 277.6 828.5 276.2 829.2 274.7 829.8 273.3 830.6 271.8 831.3 270.4 832.0 269.0 832.7 267.6 833.4 266.1 834.2 264.7 835.0 263.3 835.8 262.0 836.7 260.6 837.6 259.3 838.5 258.0 839.6 256.8 840.7 255.6 841.8 254.5 843.0 253.5 844.4 252.6 845.7 251.8 847.2 251.1 848.7 250.5 850.2 250.1 851.8 249.8 853.4 249.7 855.0 249.7 856.6 249.8 858.1 250.1 859.7 250.7 861.1 251.4 862.4 252.3 863.6 253.3 864.7 254.5 865.8 255.7 866.8 256.9 867.7 258.2 868.6 259.5 869.5 260.9 870.4 262.2 871.2 263.6 872.1 264.9 872.9 266.3 873.7 267.7 874.5 269.1 875.3 270.4 876.1 271.8 876.9 273.2 877.6 274.7 878.4 276.1 879.1 277.5 879.8 278.9 880.5 280.4 881.2 281.8 881.9 283.2 882.6 284.7 883.3 286.1 884.0 287.6 884.6 289.0 885.3 290.5 885.9 292.0 886.6 293.4 887.2 294.9 887.9 296.4 888.5 297.8 889.1 299.3 889.8 300.8 890.4 302.2 891.0 303.7 891.7 305.1 892.4 306.6 893.1 308.0 893.7 309.5 894.4 310.9 895.2 312.4 895.9 313.8 896.6 315.2 897.4 316.6 898.2 318.0 899.0 319.3 900.0 320.6 901.2 321.7 902.6 322.3 904.2 322.1 905.5 321.2 906.6 320.0 907.5 318.7 908.4 317.4 909.3 316.0 910.1 314.6 910.8 313.2 911.5 311.8 912.2 310.3 912.8 308.9 913.4 307.4 914.0 305.9 914.5 304.4 914.9 302.8 915.4 301.3 915.8 299.8 916.2 298.2 916.6 296.7 917.0 295.1 917.4 293.5 917.7 292.0 918.1 290.4 918.4 288.9 918.7 287.3 919.1 285.7 919.4 284.2 919.8 282.6 920.2 281.1 920.6 279.5 921.0 278.0 921.4 276.4 921.8 274.9 922.2 273.3 922.7 271.8 923.1 270.3 923.6 268.7 924.1 267.2 924.7 265.7 925.2 264.2 925.7 262.7 926.3 261.2 926.9 259.7 927.5 258.2 928.2 256.8 928.8 255.3 929.5 253.9 930.2 252.4 930.9 251.0 931.7 249.6 932.5 248.2 933.3 246.8 934.1 245.5 935.0 244.1 935.9 242.8 936.8 241.5 937.7 240.2 938.7 238.9 939.8 237.7 940.9 236.6 942.1 235.5 943.3 234.5 944.7 233.7 946.1 233.0 947.6 232.4 949.2 232.0 950.8 231.8 952.4 231.7 954.0 231.7 955.5 232.0 957.1 232.3 958.6 232.9 960.0 233.6 961.3 234.6 962.5 235.7 963.5 236.9 964.5 238.2 965.3 239.5 966.2 240.9 967.0 242.2 967.8 243.6 968.6 245.0 969.4 246.4 970.2 247.8 971.0 249.2 971.7 250.6 972.5 252.0 973.3 253.4 974.0 254.8 974.7 256.2 975.4 257.7 976.1 259.1 976.8 260.5 977.5 262.0 978.2 263.4 978.9 264.9 979.5 266.4 980.2 267.8 980.8 269.3 981.4 270.8 982.0 272.2 982.6 273.7 983.2 275.2 983.7 276.7 984.3 278.2 984.8 279.7 985.3 281.2 985.9 282.8 986.3 284.3 986.8 285.8 987.3 287.3 987.7 288.9 988.2 290.4 988.6 292.0 989.0 293.5 989.4 295.0 989.8 296.6 990.2 298.2 990.6 299.7 990.9 301.3 991.3 302.8 991.6 304.4 992.0 306.0 992.3 307.5 992.6 309.1 992.9 310.7 993.2 312.2 993.5 313.8 993.8 315.4 994.0 317.0 994.3 318.5 994.6 320.1 994.9 321.7 995.1 323.3 995.4 324.8 995.6 326.4 995.9 328.0 996.1 329.6 996.3 331.2 996.6 332.8 996.8 334.3 997.1 335.9 997.3 337.5 997.5 339.1 997.8 340.7 998.0 342.2 998.2 343.8 998.5 345.4 998.7 347.0 998.9 348.6 999.2 350.2 999.4 351.7 999.7 353.3 999.9 354.9 1000.2 356.5 1000.4 358.1 1000.7 359.6 1001.0 361.2 1001.2 362.8 1001.5 364.4 1001.8 365.9 1002.1 367.5 1002.4 369.1 1002.7 370.7 1003.0 372.2 1003.3 373.8 1003.7 375.4 1004.0 376.9 1004.4 378.5 1004.7 380.0 1005.1 381.6 1005.5 383.1 1005.9 384.7 1006.3 386.2 1006.7 387.8 1007.1 389.3 1007.6 390.9 1008.0 392.4 1008.5 393.9 1009.0 395.5 1009.8 396.3 1010.2 394.7 1010.6 393.2 1010.9 391.6 1011.3 390.0 1011.6 388.5 1011.9 386.9 1012.3 385.4 1012.6 383.8 1012.9 382.2 1013.3 380.7 1013.6 379.1 1013.9 377.5 1014.2 376.0 1014.5 374.4 1014.8 372.8 1015.1 371.2 1015.4 369.7 1015.7 368.1 1016.0 366.5 1016.3 365.0 1016.6 363.4 1016.9 361.8 1017.2 360.2 1017.5 358.7 1017.8 357.1 1018.1 355.5 1018.4 353.9 1018.6 352.4 1018.9 350.8 1019.2 349.2 1019.5 347.6 1019.8 346.1 1020.0 344.5 1020.3 342.9 1020.6 341.3 1020.9 339.8 1021.2 338.2 1021.4 336.6 1021.7 335.0 1022.0 333.5 1022.3 331.9 1022.5 330.3 1022.8 328.7 1023.1 327.2 1023.4 325.6 1023.7 324.0 1023.9 322.4 1024.2 320.9 1024.5 319.3 1024.8 317.7 1025.1 316.1 1025.4 314.6 1025.7 313.0 1026.0 311.4 1026.3 309.9 1026.6 308.3 1026.9 306.7 1027.2 305.1 1027.5 303.6 1027.8 302.0 1028.1 300.4 1028.4 298.9 1028.7 297.3 1029.1 295.7 1029.4 294.2 1029.7 292.6 1030.0 291.0 1030.4 289.5 1030.7 287.9 1031.1 286.3 1031.4 284.8 1031.8 283.2 1032.1 281.7 1032.5 280.1 1032.9 278.6 1033.2 277.0 1033.6 275.4 1034.0 273.9 1034.4 272.3 1034.8 270.8 1035.2 269.2 1035.6 267.7 1036.0 266.1 1036.4 264.6 1036.9 263.1 1037.3 261.5 1037.8 260.0 1038.3 258.5 1038.8 257.0 1039.3 255.4 1039.8 253.9 1040.3 252.4 1040.9 250.9 1041.5 249.4 1042.1 248.0 1042.7 246.5 1043.3 245.0 1044.0 243.6 1044.7 242.1 1045.4 240.7 1046.1 239.3 1046.9 237.8 1047.7 236.4 1048.5 235.1 1049.3 233.7 1050.2 232.3 1051.1 231.0 1052.0 229.7 1052.9 228.4 1053.9 227.2 1054.9 225.9 1056.0 224.7 1057.1 223.6 1058.2 222.4 1059.4 221.4 1060.6 220.4 1061.9 219.4 1063.3 218.5 1064.6 217.7 1066.0 216.9 1067.5 216.3 1069.0 215.7 1070.5 215.2 1072.0 214.8 1073.6 214.4 1075.2 214.1 1076.8 213.9 1078.4 213.8 1080.0 213.7 1081.6 213.6 1083.2 213.6 1084.8 213.7 1086.4 213.8 1087.9 213.9 1089.5 214.1 1091.1 214.3 1092.7 214.6 1094.3 214.8 1095.8 215.2 1097.4 215.5 1099.0 215.9 1100.5 216.3 1102.0 216.7 1103.6 217.2 1105.1 217.7 1106.6 218.2 1108.1 218.7 1109.6 219.3 1111.1 219.8 1112.6 220.4 1114.1 221.0 1115.6 221.7 1117.0 222.3 1118.5 222.9 1120.0 223.6 1121.4 224.2 1122.9 224.9 1124.3 225.5 1125.8 226.2 1127.3 226.9 1128.7 227.5 1130.2 228.1 1131.7 228.8 1133.1 229.4 1134.6 230.0 1136.1 230.6 1137.6 231.1 1139.1 231.7 1140.6 232.2 1142.2 232.7 1143.7 233.1 1145.2 233.5 1146.8 233.9 1148.4 234.2 1149.9 234.5 1151.5 234.8 1153.1 235.0 1154.7 235.1 1156.3 235.1 1157.9 235.1 1159.5 235.0 1161.1 234.9 1162.7 234.6 1164.2 234.3 1165.8 233.9 1167.3 233.4 1168.8 232.9 1170.3 232.3 1171.8 231.7 1173.2 231.0 1174.6 230.3 1176.1 229.6 1177.5 228.8 1178.9 228.1 1180.3 227.4 1181.8 226.6 1183.2 225.9 1184.7 225.3 1186.1 224.6 1187.6 224.0 1189.1 223.5 1190.6 223.0 1192.2 222.6 1193.7 222.2 1195.3 222.0 1196.9 221.9 1198.5 221.8 1200.1 221.9 1201.7 222.1 1203.3 222.4 1204.8 222.9 1206.3 223.5 1207.7 224.2 1209.1 224.9 1210.5 225.8 1211.8 226.7 1213.1 227.6 1214.4 228.6 1215.6 229.6 1216.8 230.6 1218.0 231.7 1219.2 232.8 1220.3 234.0 1221.4 235.2 1222.4 236.4 1223.5 237.6 1224.4 238.8 1225.4 240.1 1226.4 241.4 1227.3 242.7 1228.2 244.0 1229.0 245.4 1229.9 246.8 1230.7 248.1 1231.5 249.5 1232.2 250.9 1233.0 252.3 1233.7 253.8 1234.4 255.2 1235.1 256.6 1235.8 258.1 1236.5 259.5 1237.1 261.0 1237.8 262.5 1238.4 263.9 1239.0 265.4 1239.6 266.9 1240.2 268.4 1240.8 269.9 1241.3 271.4 1241.9 272.9 1242.4 274.4 1243.0 275.9 1243.5 277.4 1244.0 278.9 1244.5 280.4 1245.0 282.0 1245.5 283.5 1246.0 285.0 1246.4 286.5 1246.9 288.1 1247.3 289.6 1247.8 291.1 1248.2 292.7 1248.7 294.2 1249.1 295.8 1249.5 297.3 1249.9 298.9 1250.3 300.4 1250.7 302.0 1251.1 303.5 1251.4 305.1 1251.8 306.6 1252.2 308.2 1252.5 309.7 1252.9 311.3 1253.2 312.9 1253.6 314.4 1253.9 316.0 1254.3 317.5 1254.6 319.1 1254.9 320.7 1255.2 322.2 1255.6 323.8 1255.9 325.4 1256.2 326.9 1256.5 328.5 1256.8 330.1 1257.1 331.7 1257.4 333.2 1257.7 334.8 1258.0 336.4 1258.3 337.9 1258.6 339.5 1258.9 341.1 1259.2 342.7 1259.5 344.2 1259.8 345.8 1260.1 347.4 1260.4 349.0 1260.7 350.5 1260.9 352.1 1261.2 353.7 1261.5 355.2 1261.8 356.8 1262.1 358.4 1262.4 360.0 1262.7 361.5 1263.0 363.1 1263.3 364.7 1263.6 366.2 1264.0 367.8 1264.3 369.4 1264.6 370.9 1264.9 372.5 1265.2 374.1 1265.6 375.6 1265.9 377.2 1266.2 378.8 1266.6 380.3 1266.9 381.9 1267.3 383.5 1267.6 385.0 1268.0 386.6 1268.4 388.1 1268.7 389.7 1269.1 391.2 1269.5 392.8 1269.9 394.3 1270.3 395.9 1270.7 397.4 1271.1 399.0 1271.5 400.5 1272.0 402.1 1272.4 403.6 1272.8 405.1 1273.3 406.7 1273.8 408.2 1274.6 409.3 1275.1 407.9 1275.6 406.3 1276.0 404.8 1276.5 403.2 1276.9 401.7 1277.3 400.1 1277.7 398.6 1278.0 397.0 1278.4 395.5 1278.8 393.9 1279.1 392.4 1279.4 390.8 1279.8 389.2 1280.1 387.7 1280.4 386.1 1280.7 384.5 1281.0 383.0 1281.4 381.4 1281.7 379.8 1282.0 378.2 1282.3 376.7 1282.6 375.1 1282.9 373.5 1283.2 372.0 1283.5 370.4 1283.8 368.8 1284.1 367.3 1284.5 365.7 1284.8 364.1 1285.1 362.6 1285.5 361.0 1285.8 359.4 1286.2 357.9 1286.6 356.3 1287.0 354.8 1287.4 353.2 1287.8 351.7 1288.2 350.1 1288.6 348.6 1289.1 347.1 1289.6 345.5 1290.1 344.0 1290.6 342.5 1291.1 341.0 1291.7 339.5 1292.2 338.0 1292.8 336.5 1293.4 335.0 1294.1 333.6 1294.7 332.1 1295.4 330.7 1296.1 329.2 1296.8 327.8 1297.6 326.4 1298.4 325.0 1299.2 323.6 1300.0 322.2 1300.9 320.9"/>
<path stroke="#f8a60e" d="M355.7 254.5L356.1 253.0 356.7 251.5 357.2 250.0 357.8 248.5 358.4 247.0 359.1 245.5 359.7 244.1 360.5 242.7 361.2 241.3 362.0 239.9 362.9 238.5 363.7 237.2 364.6 235.8 365.5 234.5 366.5 233.2 367.4 231.9 368.4 230.7 369.4 229.4 370.4 228.2 371.5 227.0 372.6 225.8 373.7 224.7 374.9 223.7 376.2 222.7 377.6 221.9 379.1 221.3 380.6 220.9 382.2 220.8 383.8 220.9 385.4 221.2 386.9 221.7 388.4 222.4 389.8 223.1 391.1 224.0 392.4 224.9 393.7 225.9 394.8 227.0 395.9 228.2 397.0 229.4 398.0 230.7 398.9 232.0 399.7 233.3 400.6 234.7 401.3 236.1 402.1 237.5 402.8 238.9 403.5 240.4 404.2 241.8 404.9 243.2 405.6 244.7 406.2 246.1 406.9 247.6 407.5 249.1 408.1 250.6 408.7 252.0 409.3 253.5 409.9 255.0 410.5 256.5 411.0 258.0 411.6 259.5 412.1 261.0 412.7 262.5 413.2 264.0 413.7 265.6 414.2 267.1 414.6 268.6 415.1 270.1 415.6 271.7 416.0 273.2 416.5 274.7 416.9 276.3 417.3 277.8 417.7 279.4 418.1 280.9 418.5 282.5 418.9 284.0 419.3 285.6 419.7 287.1 420.0 288.7 420.4 290.2 420.8 291.8 421.1 293.4 421.4 294.9 421.8 296.5 422.1 298.1 422.4 299.6 422.7 301.2 423.0 302.8 423.3 304.3 423.6 305.9 423.9 307.5 424.2 309.1 424.5 310.6 424.8 312.2 425.0 313.8 425.3 315.4 425.6 316.9 425.8 318.5 426.1 320.1 426.3 321.7 426.6 323.3 426.8 324.8 427.1 326.4 427.3 328.0 427.6 329.6 427.8 331.2 428.0 332.7 428.2 334.3 428.5 335.9 428.7 337.5 428.9 339.1 429.1 340.7 429.4 342.3 429.6 343.8 429.8 345.4 430.0 347.0 430.2 348.6 430.4 350.2 430.6 351.8 430.8 353.4 431.0 354.9 431.2 356.5 431.4 358.1 431.6 359.7 431.8 361.3 432.0 362.9 432.2 364.5 432.4 366.1 432.6 367.6 432.7 369.2 432.9 370.8 433.1 372.4 433.3 374.0 433.5 375.6 433.7 377.2 433.9 378.8 434.0 380.4 434.2 381.9 434.4 383.5 434.6 385.1 434.8 386.7 434.9 388.3 435.1 389.9 435.3 391.5 435.5 393.1 435.7 394.7 435.8 396.3 436.0 397.8 436.2 399.4 436.4 401.0 436.6 402.6 436.7 404.2 436.9 405.8 437.1 407.4 437.3 409.0 437.5 410.6 437.7 412.1 437.9 413.7 438.0 415.3 438.2 416.9 438.4 418.5 438.6 420.1 438.8 421.7 439.0 423.3 439.2 424.8 439.4 426.4 439.6 428.0 439.8 429.6 440.0 431.2 440.2 432.8 440.4 434.4 440.6 436.0 440.8 437.5 441.1 439.1 441.3 440.7 441.5 442.3 441.7 443.9 442.0 443.2 442.2 441.6 442.3 440.0 442.4 438.4 442.6 436.8 442.7 435.2 442.9 433.6 443.0 432.0 443.2 430.5 443.4 428.9 443.5 427.3 443.7 425.7 443.9 424.1 444.1 422.5 444.3 420.9 444.5 419.3 444.7 417.7 444.9 416.2 445.1 414.6 445.4 413.0 445.6 411.4 445.8 409.8 446.0 408.2 446.3 406.7 446.5 405.1 446.7 403.5 447.0 401.9 447.2 400.3 447.5 398.7 447.7 397.2 448.0 395.6 448.2 394.0 448.5 392.4 448.7 390.8 449.0 389.3 449.2 387.7 449.5 386.1 449.8 384.5 450.0 383.0 450.3 381.4 450.5 379.8 450.8 378.2 451.1 376.6 451.3 375.1 451.6 373.5 451.8 371.9 452.1 370.3 452.3 368.7 452.6 367.2 452.8 365.6 453.1 364.0 453.3 362.4 453.6 360.8 453.8 359.3 454.1 357.7 454.3 356.1 454.6 354.5 454.8 352.9 455.0 351.4 455.3 349.8 455.5 348.2 455.7 346.6 456.0 345.0 456.2 343.4 456.4 341.9 456.7 340.3 456.9 338.7 457.1 337.1 457.4 335.5 457.6 334.0 457.8 332.4 458.1 330.8 458.3 329.2 458.6 327.6 458.8 326.0 459.0 324.5 459.3 322.9 459.5 321.3 459.8 319.7 460.0 318.1 460.3 316.6 460.5 315.0 460.8 313.4 461.1 311.8 461.3 310.2 461.6 308.7 461.9 307.1 462.1 305.5 462.4 303.9 462.7 302.4 463.0 300.8 463.3 299.2 463.6 297.6 463.9 296.1 464.2 294.5 464.5 292.9 464.9 291.4 465.2 289.8 465.6 288.3 466.0 286.7 466.4 285.2 466.8 283.6 467.2 282.1 467.7 280.5 468.2 279.0 468.7 277.5 469.2 276.0 469.7 274.5 470.3 273.0 470.9 271.5 471.5 270.0 472.2 268.6 472.9 267.1 473.6 265.7 474.3 264.3 475.1 262.9 475.9 261.5 476.7 260.1 477.6 258.8 478.5 257.4 479.4 256.1 480.3 254.8 481.3 253.6 482.3 252.4 483.4 251.2 484.5 250.0 485.7 249.0 487.0 248.1 488.5 247.3 490.0 246.8 491.6 246.6 493.2 246.7 494.7 247.1 496.2 247.6 497.6 248.3 499.0 249.2 500.3 250.1 501.5 251.1 502.7 252.2 503.7 253.4 504.7 254.7 505.7 256.0 506.5 257.3 507.4 258.7 508.1 260.1 508.9 261.5 509.5 263.0 510.2 264.4 510.8 265.9 511.4 267.4 512.0 268.9 512.6 270.3 513.2 271.8 513.7 273.3 514.3 274.8 514.8 276.4 515.3 277.9 515.9 279.4 516.4 280.9 516.9 282.4 517.4 283.9 517.8 285.5 518.3 287.0 518.8 288.5 519.2 290.1 519.6 291.6 520.1 293.1 520.5 294.7 520.9 296.2 521.3 297.8 521.7 299.3 522.1 300.9 522.4 302.4 522.8 304.0 523.1 305.6 523.5 307.1 523.8 308.7 524.2 310.3 524.5 311.8 524.8 313.4 525.1 315.0 525.4 316.5 525.7 318.1 526.0 319.7 526.3 321.3 526.5 322.8 526.8 324.4 527.1 326.0 527.3 327.6 527.6 329.1 527.8 330.7 528.1 332.3 528.3 333.9 528.6 335.5 528.8 337.0 529.0 338.6 529.3 340.2 529.5 341.8 529.7 343.4 529.9 345.0 530.1 346.6 530.3 348.1 530.5 349.7 530.7 351.3 530.9 352.9 531.1 354.5 531.3 356.1 531.5 357.7 531.7 359.3 531.9 360.8 532.1 362.4 532.3 364.0 532.5 365.6 532.7 367.2 532.9 368.8 533.1 370.4 533.3 372.0 533.4 373.5 533.6 375.1 533.8 376.7 534.0 378.3 534.2 379.9 534.4 381.5 534.6 383.1 534.8 384.7 535.0 386.2 535.2 387.8 535.4 389.4 535.8 389.1 536.0 387.5 536.2 385.9 536.4 384.3 536.7 382.7 536.9 381.1 537.1 379.5 537.4 378.0 537.7 376.4 538.1 375.2 538.1 376.8 538.2 378.4 538.2 380.0 538.2 381.6 538.2 383.2 538.3 384.8 538.3 386.3 538.3 387.9 538.4 389.5 538.4 391.1 538.4 392.7 538.4 394.3 538.5 395.9 538.5 397.5 538.5 399.1 538.6 400.7 538.6 402.3 538.6 403.9 538.6 405.5 538.7 407.1 538.7 408.7 538.7 410.3 538.8 411.9 538.8 413.5 538.8 415.1 538.9 416.7 538.9 418.3 538.9 419.9 538.9 421.5 539.0 423.1 539.0 424.7 539.0 426.3 539.1 427.9 539.1 429.5 539.1 431.1 539.2 432.7 539.2 434.3 539.2 435.9 539.3 437.5 539.3 439.1 539.3 440.7 539.4 442.3 539.4 443.9 539.4 445.5 539.5 447.1 539.5 448.7 539.5 450.3 539.6 451.9 539.6 453.5 539.6 455.1 539.7 456.7 539.7 458.3 539.7 459.9 539.8 461.5 539.8 463.1 539.8 464.7 539.9 466.3 539.9 467.9 539.9 469.5 540.0 471.1 540.0 472.7 540.0 474.3 540.1 475.9 540.1 477.5 540.1 479.1 540.2 480.7 540.2 482.3 540.2 483.9 540.3 485.5 540.3 487.1 540.3 488.7 540.4 490.3 540.4 491.9 540.5 493.5 540.5 495.1 540.5 496.7 540.6 498.3 540.6 499.9 540.6 501.5 540.7 503.1 540.7 504.7 540.7 506.3 540.8 507.9 540.8 509.5 540.8 511.1 540.9 512.7 540.9 514.3 540.9 515.9 541.0 517.5 541.0 519.1 541.0 520.7 541.1 522.3 541.1 523.9 541.1 525.5 541.2 527.1 541.2 528.7 541.2 530.3 541.3 531.9 541.3 533.5 541.3 535.1 541.4 536.7 541.4 538.3 541.4 539.9 541.4 541.5 541.5 543.1 541.5 544.7 541.5 546.3 541.6 547.9 541.6 549.5 541.6 551.1 541.7 552.7 541.7 554.3 541.7 555.9 541.8 557.5 541.8 559.1 541.8 560.7 541.8 562.3 541.9 563.9 541.9 565.5 541.9 567.1 542.0 568.7 542.0 570.3 542.0 571.9 542.0 573.5 542.1 575.1 542.1 576.7 542.1 578.3 542.2 579.9 542.2 581.5 542.2 583.1 542.2 584.7 542.3 586.3 542.3 587.9 542.3 589.5 542.3 591.1 542.4 592.7 542.4 594.3 542.4 595.9 542.4 597.5 542.5 599.1 542.5 600.7 542.5 602.3 542.5 603.9 542.6 605.5 542.6 607.1 542.6 608.7 542.6 610.3 542.6 611.9 542.7 613.5 542.7 615.1 542.7 616.7 542.7 618.3 542.7 619.9 542.8 621.5 542.8 623.1 542.8 624.7 542.8 626.3 542.8 627.9 542.9 629.5 542.9 631.1 542.9 632.7 542.9 634.3 542.9 635.9 542.9 637.5 542.9 639.1 543.0 640.7 543.0 642.3 543.0 643.8 543.0 645.4 543.0 647.0 543.0 648.6 543.0 650.2 543.1 651.8 543.1 653.4 543.1 655.0 543.1 656.6 543.1 658.2 543.1 659.8 543.1 661.4 543.1 663.0 543.1 664.6 543.1 666.2 543.2 667.8 543.2 669.4 543.2 671.0 543.2 672.6 543.2 674.2 543.2 675.8 543.2 677.4 543.2 679.0 543.2 680.6 543.2 682.2 543.2 683.8 543.2 685.4 543.2 687.0 543.2 688.6 543.2 690.2 543.2 691.8 543.2 693.4 543.2 695.0 543.2 696.6 543.2 698.2 543.1 699.2 543.1 697.6 543.0 696.0 542.9 694.4 542.8 692.8 542.8 691.2 542.7 689.6 542.6 688.0 542.6 686.4 542.5 684.8 542.5 683.2 542.4 681.6 542.4 680.0 542.3 678.4 542.3 676.8 542.2 675.2 542.2 673.6 542.2 672.0 542.1 670.4 542.1 668.8 542.0 667.2 542.0 665.6 542.0 664.0 542.0 662.4 541.9 660.8 541.9 659.2 541.9 657.6 541.9 656.0 541.9 654.4 541.9 652.8 541.8 651.2 541.8 649.6 541.8 648.0 541.8 646.4 541.8 644.8 541.8 643.2 541.8 641.6 541.8 640.0 541.8 638.4 541.8 636.8 541.8 635.2 541.9 633.6 541.9 632.0 541.9 630.4 541.9 628.8 541.9 627.2 541.9 625.6 542.0 624.0 542.0 622.4 542.0 620.8 542.0 619.2 542.1 617.6 542.1 616.0 542.1 614.4 542.2 612.8 542.2 611.2 542.2 609.6 542.3 608.0 542.3 606.4 542.3 604.8 542.4 603.2 542.4 601.6 542.5 600.0 542.5 598.4 542.6 596.8 542.6 595.2 542.7 593.6 542.7 592.0 542.8 590.4 542.8 588.8 542.9 587.2 542.9 585.6 543.0 584.0 543.0 582.4 543.1 580.8 543.2 579.2 543.2 577.7 543.3 576.1 543.3 574.5 543.4 572.9 543.5 571.3 543.5 569.7 543.6 568.1 543.7 566.5 543.7 564.9 543.8 563.3 543.9 561.7 544.0 560.1 544.0 558.5 544.1 556.9 544.2 555.3 544.3 553.7 544.3 552.1 544.4 550.5 544.5 548.9 544.6 547.3 544.6 545.7 544.7 544.1 544.8 542.5 544.9 540.9 544.9 539.3 545.0 537.7 545.1 536.1 545.2 534.5 545.3 532.9 545.3 531.3 545.4 529.7 545.5 528.1 545.6 526.5 545.7 524.9 545.7 523.3 545.8 521.7 545.9 520.1 546.0 518.5 546.1 516.9 546.2 515.3 546.2 513.7 546.3 512.1 546.4 510.5 546.5 508.9 546.6 507.3 546.7 505.7 546.7 504.2 546.8 502.6 546.9 501.0 547.0 499.4 547.1 497.8 547.1 496.2 547.2 494.6 547.3 493.0 547.4 491.4 547.5 489.8 547.5 488.2 547.6 486.6 547.7 485.0 547.8 483.4 547.9 481.8 547.9 480.2 548.0 478.6 548.1 477.0 548.2 475.4 548.2 473.8 548.3 472.2 548.4 470.6 548.5 469.0 548.5 467.4 548.6 465.8 548.7 464.2 548.8 462.6 548.8 461.0 548.9 459.4 549.0 457.8 549.0 456.2 549.1 454.6 549.2 453.0 549.2 451.4 549.3 449.8 549.4 448.2 549.4 446.6 549.5 445.0 549.5 443.4 549.6 441.8 549.7 440.2 549.7 438.6 549.8 437.0 549.9 435.4 550.0 433.8 550.1 432.2 550.3 430.7 550.4 429.1 550.6 427.5 550.8 425.9 551.0 424.3 551.3 422.7 551.7 421.2 552.1 419.6 552.6 418.1 553.2 416.6 553.9 415.2 554.7 413.8 555.6 412.5 556.5 411.2 557.5 409.9 558.4 408.6 559.3 407.2 560.1 405.9 560.8 404.4 561.5 403.0 562.1 401.5 562.6 400.0 563.2 398.5 563.6 397.0 564.1 395.4 564.5 393.9 564.9 392.3 565.3 390.8 565.6 389.2 566.0 387.7 566.3 386.1 566.7 384.5 567.0 383.0 567.3 381.4 567.5 379.8 567.8 378.2 568.1 376.7 568.3 375.1 568.6 373.5 568.8 371.9 569.0 370.3 569.2 368.8 569.4 367.2 569.6 365.6 569.8 364.0 570.0 362.4 570.1 360.8 570.3 359.2 570.5 357.6 570.6 356.0 570.8 354.4 570.9 352.9 571.1 351.3 571.2 349.7 571.4 348.1 571.5 346.5 571.7 344.9 571.8 343.3 571.9 341.7 572.1 340.1 572.2 338.5 572.4 336.9 572.5 335.3 572.7 333.7 572.8 332.1 573.0 330.6 573.2 329.0 573.3 327.4 573.5 325.8 573.7 324.2 573.9 322.6 574.1 321.0 574.3 319.4 574.5 317.8 574.8 316.3 575.0 314.7 575.3 313.1 575.5 311.5 575.8 309.9 576.1 308.4 576.4 306.8 576.7 305.2 577.0 303.7 577.3 302.1 577.7 300.5 578.1 299.0 578.5 297.5 579.0 295.9 579.5 294.4 580.1 292.9 580.7 291.4 581.3 290.0 582.0 288.5 582.8 287.1 583.7 285.8 584.6 284.5 585.6 283.3 586.7 282.1 587.8 280.9 589.1 279.9 590.4 279.1 591.9 279.4 593.1 280.5 594.3 281.5 595.4 282.6 596.6 283.7 597.8 284.7 599.1 285.8 600.3 286.8 601.5 287.8 602.8 288.8 604.1 289.8 605.4 290.7 606.6 291.7 607.9 292.6 609.2 293.5 610.6 294.4 611.9 295.3 613.2 296.2 614.6 297.1 615.9 297.9 617.3 298.8 618.7 299.6 620.0 300.4 621.4 301.2 622.8 302.0 624.2 302.8 625.6 303.6 627.0 304.4 628.4 305.1 629.8 305.9 631.2 306.6 632.6 307.3 634.1 308.1 635.5 308.8 636.9 309.6 638.3 310.3 639.7 311.1 641.1 311.9 642.5 312.7 643.8 313.6 645.1 314.5 646.4 315.5 647.6 316.5 648.8 317.6 649.9 318.8 650.9 320.0 651.9 321.3 652.7 322.6 653.6 324.0 654.3 325.4 655.1 326.8 655.8 328.2 656.5 329.7 657.1 331.1 657.8 332.6 658.4 334.1 659.0 335.5 659.6 337.0 660.2 338.5 660.8 340.0 661.4 341.5 661.9 343.0 662.5 344.5 663.0 346.0 663.5 347.5 664.0 349.0 664.5 350.6 665.0 352.1 665.5 353.6 666.0 355.1 666.4 356.7 666.9 358.2 667.3 359.7 667.7 361.3 668.2 362.8 668.6 364.4 669.0 365.9 669.3 367.5 669.7 369.0 670.1 370.6 670.5 372.1 670.8 373.7 671.2 375.3 671.5 376.8 671.8 378.4 672.2 380.0 672.5 381.5 672.8 383.1 673.1 384.7 673.4 386.2 673.7 387.8 674.0 389.4 674.2 391.0 674.5 392.5 674.8 394.1 675.0 395.7 675.3 397.3 675.6 398.8 675.8 400.4 676.1 402.0 676.3 403.6 676.5 405.2 676.8 406.8 677.0 408.3 677.2 409.9 677.4 411.5 677.7 413.1 677.9 414.7 678.1 416.3 678.3 417.8 678.5 419.4 678.7 421.0 678.9 422.6 679.1 424.2 679.3 425.8 679.5 427.4 679.7 429.0 679.9 430.5 680.1 432.1 680.3 433.7 680.5 435.3 680.7 436.9 680.8 438.5 681.0 440.1 681.2 441.7 681.3 443.3 681.5 444.8 681.7 446.4 681.8 448.0 682.0 449.6 682.2 451.2 682.3 452.8 682.5 454.4 682.6 456.0 682.8 457.6 682.9 459.2 683.1 460.8 683.2 462.4 683.3 464.0 683.5 465.6 683.6 467.1 683.7 468.7 683.9 470.3 684.0 471.9 684.1 473.5 684.2 475.1 684.4 476.7 684.5 478.3 684.6 479.9 684.7 481.5 684.8 483.1 684.9 484.7 685.1 486.3 685.2 487.9 685.3 489.5 685.4 491.1 685.5 492.7 685.6 494.3 685.7 495.9 685.8 497.5 685.9 499.1 686.0 500.7 686.0 502.3 686.1 503.8 686.2 505.4 686.3 507.0 686.4 508.6 686.5 510.2 686.6 511.8 686.6 513.4 686.7 515.0 686.8 516.6 686.9 518.2 686.9 519.8 687.0 521.4 687.1 523.0 687.1 524.6 687.2 526.2 687.3 527.8 687.3 529.4 687.4 531.0 687.5 532.6 687.5 534.2 687.6 535.8 687.6 537.4 687.7 539.0 687.8 540.6 687.8 542.2 687.9 543.8 687.9 545.4 688.0 547.0 688.0 548.6 688.1 550.2 688.1 551.8 688.2 553.4 688.2 555.0 688.2 556.6 688.3 558.2 688.3 559.8 688.4 561.4 688.4 563.0 688.5 564.6 688.5 566.2 688.5 567.8 688.6 569.4 688.6 571.0 688.6 572.6 688.7 574.2 688.7 575.8 688.7 577.4 688.8 579.0 688.8 580.6 688.8 582.2 688.9 583.8 688.9 585.4 688.9 587.0 688.9 588.6 689.0 590.2 689.0 591.8 689.0 593.4 689.0 595.0 689.1 596.6 689.1 598.2 689.1 599.8 689.1 601.4 689.2 603.0 689.2 604.6 689.2 606.2 689.2 607.8 689.3 609.4 689.3 611.0 689.3 612.6 689.3 614.2 689.3 615.8 689.4 617.4 689.4 619.0 689.4 620.6 689.4 622.2 689.4 623.8 689.5 625.4 689.5 627.0 689.5 628.6 689.5 630.2 689.5 631.8 689.6 633.4 689.6 635.0 689.6 636.6 689.6 638.2 689.6 639.8 689.7 641.4 689.7 643.0 689.7 644.6 689.7 646.2 689.7 647.8 689.8 649.4 689.8 651.0 689.8 652.6 689.8 654.2 689.9 655.8 689.9 657.4 689.9 659.0 689.9 660.6 689.9 662.2 690.0 663.8 690.0 665.4 690.0 667.0 690.0 668.6 690.1 670.2 690.1 671.8 690.1 673.4 690.1 675.0 690.2 676.6 690.2 678.2 690.2 679.8 690.3 681.3 690.3 682.9 690.3 684.5 690.4 686.1 690.4 687.7 690.4 689.3 690.4 690.9 690.5 692.5 690.5 694.1 690.6 695.7 690.6 697.3 690.6 698.9 690.7 700.5 690.7 702.1 690.7 703.7 690.8 705.3 690.8 706.9 690.9 708.5 690.9 710.1 691.0 711.7 691.0 713.3 691.1 714.9 691.1 716.5 691.2 718.1 691.2 719.7 691.3 721.3 691.3 722.9 691.4 724.5 691.4 726.1 691.5 727.7 691.5 729.3 691.6 730.9 691.7 732.5 691.7 734.1 691.8 735.7 691.8 737.3 691.9 738.9 692.0 740.5 692.1 742.1 692.1 743.7 692.2 745.3 692.3 746.5 692.4 744.9 692.5 743.3 692.6 741.7 692.7 740.1 692.7 738.5 692.8 736.9 692.9 735.3 692.9 733.7 693.0 732.1 693.1 730.5 693.1 728.9 693.2 727.3 693.3 725.7 693.3 724.1 693.4 722.5 693.4 720.9 693.5 719.3 693.5 717.7 693.6 716.1 693.6 714.5 693.7 712.9 693.7 711.3 693.8 709.7 693.8 708.1 693.9 706.5 693.9 704.9 694.0 703.3 694.0 701.7 694.0 700.1 694.1 698.5 694.1 696.9 694.2 695.3 694.2 693.7 694.2 692.1 694.3 690.5 694.3 688.9 694.3 687.3 694.4 685.7 694.4 684.1 694.4 682.5 694.5 680.9 694.5 679.3 694.5 677.7 694.5 676.1 694.6 674.5 694.6 672.9 694.6 671.3 694.6 669.7 694.7 668.1 694.7 666.5 694.7 664.9 694.7 663.3 694.8 661.7 694.8 660.1 694.8 658.5 694.8 656.9 694.8 655.3 694.8 653.7 694.9 652.1 694.9 650.5 694.9 648.9 694.9 647.3 694.9 645.7 695.0 644.1 695.0 642.5 695.0 640.9 695.0 639.3 695.0 637.7 695.0 636.1 695.1 634.5 695.1 632.9 695.1 631.3 695.1 629.7 695.1 628.1 695.1 626.5 695.1 624.9 695.2 623.3 695.2 621.7 695.2 620.1 695.2 618.5 695.2 616.9 695.2 615.3 695.3 613.7 695.3 612.1 695.3 610.5 695.3 608.9 695.3 607.4 695.3 605.8 695.3 604.2 695.4 602.6 695.4 601.0 695.4 599.4 695.4 597.8 695.4 596.2 695.5 594.6 695.5 593.0 695.5 591.4 695.5 589.8 695.5 588.2 695.6 586.6 695.6 585.0 695.6 583.4 695.6 581.8 695.7 580.2 695.7 578.6 695.7 577.0 695.7 575.4 695.8 573.8 695.8 572.2 695.8 570.6 695.8 569.0 695.9 567.4 695.9 565.8 695.9 564.2 696.0 562.6 696.0 561.0 696.0 559.4 696.1 557.8 696.1 556.2 696.1 554.6 696.2 553.0 696.2 551.4 696.2 549.8 696.3 548.2 696.3 546.6 696.4 545.0 696.4 543.4 696.5 541.8 696.5 540.2 696.5 538.6 696.6 537.0 696.6 535.4 696.7 533.8 696.8 532.2 696.8 530.6 696.9 529.0 696.9 527.4 697.0 525.8 697.0 524.2 697.1 522.6 697.2 521.0 697.2 519.4 697.3 517.8 697.3 516.2 697.4 514.6 697.5 513.0 697.6 511.4 697.6 509.8 697.7 508.2 697.8 506.6 697.9 505.0 697.9 503.4 698.0 501.8 698.1 500.2 698.2 498.6 698.3 497.0 698.4 495.4 698.4 493.8 698.5 492.2 698.6 490.6 698.7 489.0 698.8 487.4 698.9 485.8 699.0 484.2 699.1 482.7 699.2 481.1 699.3 479.5 699.4 477.9 699.6 476.3 699.7 474.7 699.8 473.1 699.9 471.5 700.0 469.9 700.1 468.3 700.3 466.7 700.4 465.1 700.5 463.5 700.6 461.9 700.8 460.3 700.9 458.7 701.1 457.1 701.2 455.5 701.3 453.9 701.5 452.3 701.6 450.8 701.8 449.2 701.9 447.6 702.1 446.0 702.2 444.4 702.4 442.8 702.6 441.2 702.7 439.6 702.9 438.0 703.1 436.4 703.2 434.8 703.4 433.3 703.6 431.7 703.8 430.1 703.9 428.5 704.1 426.9 704.3 425.3 704.5 423.7 704.7 422.1 704.9 420.5 705.1 419.0 705.3 417.4 705.5 415.8 705.7 414.2 705.9 412.6 706.1 411.0 706.3 409.4 706.5 407.8 706.7 406.3 706.9 404.7 707.2 403.1 707.4 401.5 707.6 399.9 707.8 398.3 708.0 396.8 708.3 395.2 708.5 393.6 708.7 392.0 709.0 390.4 709.2 388.8 709.4 387.3 709.7 385.7 709.9 384.1 710.1 382.5 710.4 380.9 710.6 379.3 710.9 377.8 711.1 376.2 711.4 374.6 711.6 373.0 711.9 371.4 712.1 369.9 712.4 368.3 712.6 366.7 712.9 365.1 713.2 363.6 713.4 362.0 713.7 360.4 713.9 358.8 714.2 357.2 714.5 355.7 714.8 354.1 715.0 352.5 715.3 350.9 715.6 349.4 715.9 347.8 716.2 346.2 716.5 344.6 716.7 343.1 717.0 341.5 717.3 339.9 717.6 338.4 717.9 336.8 718.3 335.2 718.6 333.6 718.9 332.1 719.2 330.5 719.5 328.9 719.8 327.4 720.2 325.8 720.5 324.2 720.8 322.7 721.2 321.1 721.5 319.6 721.9 318.0 722.2 316.4 722.6 314.9 722.9 313.3 723.3 311.8 723.7 310.2 724.0 308.6 724.4 307.1 724.8 305.5 725.2 304.0 725.6 302.4 726.0 300.9 726.4 299.3 726.8 297.8 727.2 296.2 727.6 294.7 728.1 293.2 728.5 291.6 729.0 290.1 729.5 288.6 730.0 287.1 730.6 285.6 731.2 284.1 731.8 282.6 732.4 281.1 733.0 279.7 733.7 278.2 734.5 276.8 735.2 275.4 736.0 274.0 736.9 272.6 737.7 271.3 738.6 270.0 739.6 268.7 740.6 267.4 741.6 266.2 742.7 265.0 743.8 263.9 744.9 262.8 746.2 261.7 747.4 260.8 748.8 259.9 750.2 259.1 751.6 258.5 753.1 258.0 754.7 257.6 756.3 257.4 757.9 257.4 759.5 257.6 761.0 258.0 762.6 258.5 764.0 259.1 765.5 259.8 766.9 260.6 768.2 261.5 769.5 262.5 770.6 263.5 771.8 264.7 772.8 265.9 773.8 267.1 774.8 268.4 775.7 269.7 776.5 271.1 777.3 272.5 778.1 273.9 778.8 275.3 779.6 276.7 780.3 278.1 781.1 279.5 781.8 281.0 782.5 282.4 783.2 283.8 784.0 285.2 784.7 286.7 785.4 288.1 786.1 289.5 786.8 291.0 787.5 292.4 788.2 293.8 789.0 295.3 789.7 296.7 790.4 298.1 791.1 299.6 791.8 301.0 792.5 302.4 793.3 303.8 794.0 305.3 794.7 306.7 795.4 308.1 796.2 309.5 796.9 310.9 797.7 312.4 798.5 313.8 799.2 315.2 800.1 316.5 800.9 317.9 801.8 319.2 802.7 320.5 803.7 321.8 804.7 323.0 805.8 324.2 807.0 325.3 808.2 326.3 809.5 327.2 810.9 327.9 812.5 328.2 814.1 327.8 815.4 327.0 816.6 325.9 817.6 324.7 818.5 323.3 819.3 322.0 820.1 320.6 820.9 319.2 821.7 317.8 822.4 316.4 823.1 314.9 823.8 313.5 824.5 312.1 825.2 310.6 825.9 309.2 826.5 307.7 827.1 306.2 827.7 304.7 828.3 303.3 828.9 301.8 829.5 300.3 830.1 298.8 830.7 297.3 831.2 295.8 831.8 294.3 832.4 292.8 833.0 291.3 833.6 289.9 834.3 288.4 834.9 286.9 835.6 285.5 836.3 284.1 837.1 282.7 837.9 281.3 838.7 279.9 839.5 278.5 840.5 277.2 841.4 275.9 842.4 274.7 843.5 273.5 844.6 272.4 845.8 271.3 847.0 270.3 848.3 269.3 849.6 268.4 851.0 267.7 852.5 267.0 854.0 266.5 855.6 266.2 857.2 266.1 858.8 266.1 860.4 266.4 861.9 266.8 863.4 267.3 864.9 268.0 866.3 268.7 867.7 269.6 869.0 270.4 870.3 271.4 871.5 272.4 872.8 273.4 874.0 274.4 875.2 275.5 876.4 276.5 877.7 277.5 878.9 278.5 880.3 279.4 881.6 280.2 883.0 281.0 884.5 281.6 886.0 282.0 887.6 282.3 889.2 282.2 890.8 281.9 892.3 281.4 893.8 280.7 895.1 279.9 896.4 278.9 897.6 277.9 898.8 276.8 899.9 275.7 901.0 274.5 902.0 273.2 903.0 272.0 903.9 270.7 904.8 269.4 905.7 268.0 906.5 266.6 907.3 265.3 908.1 263.9 908.8 262.4 909.5 261.0 910.2 259.6 910.9 258.1 911.6 256.7 912.3 255.2 912.9 253.8 913.6 252.3 914.2 250.8 914.8 249.4 915.5 247.9 916.1 246.4 916.8 245.0 917.5 243.5 918.2 242.1 918.9 240.7 919.6 239.2 920.3 237.8 921.1 236.4 921.9 235.0 922.7 233.7 923.6 232.3 924.5 231.0 925.4 229.7 926.4 228.4 927.4 227.2 928.5 226.0 929.5 224.8 930.7 223.7 931.8 222.6 933.1 221.5 934.3 220.5 935.6 219.6 936.9 218.7 938.3 217.9 939.7 217.1 941.2 216.6 942.8 216.2 944.3 216.0 945.9 216.2 947.5 216.6 948.9 217.3 950.3 218.1 951.6 219.1 952.8 220.1 954.0 221.1 955.2 222.2 956.3 223.4 957.4 224.6 958.4 225.8 959.4 227.1 960.3 228.4 961.2 229.7 962.0 231.0 962.9 232.4 963.6 233.8 964.4 235.2 965.1 236.7 965.8 238.1 966.4 239.6 967.1 241.0 967.7 242.5 968.3 244.0 968.9 245.5 969.5 247.0 970.0 248.5 970.6 250.0 971.1 251.5 971.7 253.0 972.2 254.5 972.8 256.0 973.3 257.5 973.8 259.0 974.4 260.5 974.9 262.0 975.4 263.5 975.9 265.0 976.5 266.6 977.0 268.1 977.5 269.6 978.0 271.1 978.5 272.6 979.0 274.1 979.5 275.7 980.0 277.2 980.4 278.7 980.9 280.2 981.4 281.8 981.8 283.3 982.3 284.8 982.7 286.4 983.2 287.9 983.6 289.5 984.0 291.0 984.4 292.6 984.8 294.1 985.2 295.6 985.6 297.2 986.0 298.8 986.4 300.3 986.7 301.9 987.1 303.4 987.4 305.0 987.8 306.6 988.1 308.1 988.4 309.7 988.7 311.3 989.0 312.8 989.3 314.4 989.5 316.0 989.8 317.6 990.0 319.1 990.3 320.7 990.5 322.3 990.8 323.9 991.0 325.5 991.3 327.0 991.5 328.6 991.8 330.2 992.0 331.8 992.3 333.4 992.6 334.9 992.9 336.5 993.2 338.1 993.5 339.7 993.8 341.2 994.1 342.8 994.5 344.3 994.9 345.9 995.2 347.5 995.6 349.0 996.1 350.5 996.5 352.1 997.0 353.6 997.5 355.1 998.1 356.6 999.0 357.9 1000.4 358.7 1001.8 358.2 1002.8 356.9 1003.6 355.5 1004.1 354.0 1004.6 352.5 1005.0 350.9 1005.3 349.4 1005.6 347.8 1005.9 346.2 1006.2 344.7 1006.5 343.1 1006.8 341.5 1007.1 339.9 1007.3 338.4 1007.6 336.8 1007.9 335.2 1008.1 333.6 1008.4 332.1 1008.6 330.5 1008.9 328.9 1009.1 327.3 1009.4 325.7 1009.6 324.1 1009.8 322.6 1010.1 321.0 1010.3 319.4 1010.6 317.8 1010.8 316.2 1011.0 314.7 1011.3 313.1 1011.5 311.5 1011.8 309.9 1012.0 308.3 1012.3 306.8 1012.6 305.2 1012.8 303.6 1013.1 302.0 1013.4 300.5 1013.7 298.9 1014.0 297.3 1014.3 295.7 1014.6 294.2 1014.9 292.6 1015.2 291.0 1015.5 289.5 1015.8 287.9 1016.1 286.3 1016.5 284.8 1016.8 283.2 1017.1 281.6 1017.5 280.1 1017.8 278.5 1018.2 276.9 1018.5 275.4 1018.9 273.8 1019.2 272.3 1019.6 270.7 1020.0 269.1 1020.3 267.6 1020.7 266.0 1021.1 264.5 1021.5 262.9 1021.8 261.4 1022.2 259.8 1022.6 258.3 1023.0 256.7 1023.4 255.2 1023.7 253.6 1024.1 252.1 1024.5 250.5 1024.9 248.9 1025.3 247.4 1025.7 245.8 1026.1 244.3 1026.4 242.7 1026.8 241.2 1027.2 239.6 1027.6 238.1 1027.9 236.5 1028.3 235.0 1028.7 233.4 1029.0 231.8 1029.4 230.3 1029.7 228.7 1030.0 227.2 1030.4 225.6 1030.7 224.0 1031.1 222.5 1031.4 220.9 1031.8 219.3 1032.1 217.8 1032.5 216.2 1032.9 214.7 1033.3 213.1 1033.7 211.6 1034.1 210.0 1034.5 208.5 1035.0 207.0 1035.5 205.4 1036.0 203.9 1036.6 202.4 1037.2 200.9 1037.8 199.5 1038.5 198.0 1039.2 196.6 1039.9 195.2 1040.7 193.7 1041.5 192.4 1042.3 191.0 1043.2 189.7 1044.1 188.4 1045.1 187.1 1046.1 185.8 1047.1 184.6 1048.1 183.4 1049.2 182.2 1050.3 181.1 1051.5 179.9 1052.6 178.9 1053.8 177.8 1055.0 176.7 1056.3 175.7 1057.5 174.7 1058.8 173.8 1060.1 172.8 1061.4 171.9 1062.8 171.0 1064.1 170.2 1065.5 169.4 1066.9 168.6 1068.3 167.8 1069.7 167.1 1071.1 166.4 1072.6 165.7 1074.0 165.0 1075.5 164.4 1077.0 163.8 1078.5 163.2 1080.0 162.7 1081.5 162.2 1083.0 161.7 1084.6 161.3 1086.1 160.8 1087.7 160.4 1089.2 160.1 1090.8 159.7 1092.4 159.4 1093.9 159.1 1095.5 158.8 1097.1 158.6 1098.7 158.4 1100.3 158.2 1101.8 158.0 1103.4 157.8 1105.0 157.7 1106.6 157.5 1108.2 157.4 1109.8 157.3 1111.4 157.2 1113.0 157.1 1114.6 157.1 1116.2 157.0 1117.8 157.0 1119.4 156.9 1121.0 156.9 1122.6 156.9 1124.2 156.8 1125.8 156.8 1127.4 156.8 1129.0 156.8 1130.6 156.8 1132.2 156.8 1133.8 156.8 1135.4 156.8 1137.0 156.7 1138.6 156.7 1140.2 156.6 1141.8 156.6 1143.4 156.5 1145.0 156.4 1146.6 156.4 1148.2 156.3 1149.8 156.2 1151.4 156.2 1153.0 156.1 1154.6 156.1 1156.2 156.1 1157.8 156.1 1159.4 156.2 1161.0 156.3 1162.6 156.5 1164.1 156.7 1165.7 157.0 1167.3 157.3 1168.9 157.6 1170.4 158.0 1172.0 158.4 1173.5 158.9 1175.0 159.4 1176.5 159.9 1178.0 160.5 1179.5 161.1 1180.9 161.8 1182.4 162.5 1183.8 163.3 1185.2 164.1 1186.5 164.9 1187.9 165.7 1189.2 166.7 1190.5 167.6 1191.8 168.6 1193.0 169.6 1194.2 170.6 1195.4 171.6 1196.7 172.7 1197.9 173.7 1199.1 174.7 1200.4 175.7 1201.7 176.6 1203.0 177.5 1204.3 178.5 1205.6 179.4 1206.9 180.4 1208.1 181.4 1209.3 182.5 1210.4 183.6 1211.6 184.7 1212.6 185.9 1213.7 187.1 1214.7 188.3 1215.7 189.6 1216.7 190.9 1217.6 192.2 1218.6 193.5 1219.5 194.8 1220.4 196.1 1221.3 197.4 1222.1 198.8 1223.0 200.1 1223.8 201.5 1224.6 202.9 1225.4 204.3 1226.2 205.6 1227.0 207.0 1227.8 208.4 1228.5 209.9 1229.3 211.3 1230.0 212.7 1230.7 214.1 1231.4 215.6 1232.1 217.0 1232.8 218.5 1233.5 219.9 1234.1 221.4 1234.8 222.8 1235.4 224.3 1236.0 225.8 1236.6 227.2 1237.3 228.7 1237.9 230.2 1238.4 231.7 1239.0 233.2 1239.6 234.7 1240.2 236.2 1240.7 237.7 1241.3 239.2 1241.8 240.7 1242.3 242.2 1242.8 243.7 1243.4 245.2 1243.9 246.7 1244.4 248.3 1244.8 249.8 1245.3 251.3 1245.8 252.8 1246.3 254.4 1246.7 255.9 1247.2 257.4 1247.6 259.0 1248.0 260.5 1248.5 262.1 1248.9 263.6 1249.3 265.1 1249.7 266.7 1250.1 268.2 1250.5 269.8 1250.9 271.3 1251.3 272.9 1251.6 274.5 1252.0 276.0 1252.4 277.6 1252.7 279.1 1253.1 280.7 1253.4 282.3 1253.8 283.8 1254.1 285.4 1254.4 286.9 1254.7 288.5 1255.1 290.1 1255.4 291.6 1255.7 293.2 1256.0 294.8 1256.3 296.4 1256.6 297.9 1256.9 299.5 1257.2 301.1 1257.5 302.7 1257.7 304.2 1258.0 305.8 1258.3 307.4 1258.5 309.0 1258.8 310.5 1259.1 312.1 1259.3 313.7 1259.6 315.3 1259.8 316.8 1260.1 318.4 1260.3 320.0 1260.6 321.6 1260.8 323.2 1261.1 324.8 1261.3 326.3 1261.5 327.9 1261.7 329.5 1262.0 331.1 1262.2 332.7 1262.4 334.3 1262.6 335.8 1262.8 337.4 1263.1 339.0 1263.3 340.6 1263.5 342.2 1263.7 343.8 1263.9 345.4 1264.1 346.9 1264.3 348.5 1264.5 350.1 1264.7 351.7 1264.8 353.3 1265.0 354.9 1265.2 356.5 1265.4 358.1 1265.6 359.7 1265.8 361.2 1265.9 362.8 1266.1 364.4 1266.3 366.0 1266.5 367.6 1266.6 369.2 1266.8 370.8 1267.0 372.4 1267.1 374.0 1267.3 375.6 1267.5 377.1 1267.6 378.7 1267.8 380.3 1267.9 381.9 1268.1 383.5 1268.2 385.1 1268.4 386.7 1268.6 388.3 1268.7 389.9 1268.9 391.5 1269.0 393.1 1269.2 394.7 1269.3 396.3 1269.4 397.8 1269.6 399.4 1269.7 401.0 1269.9 402.6 1270.0 404.2 1270.2 405.8 1270.3 407.4 1270.5 409.0 1270.6 410.6 1270.7 412.2 1270.9 413.8 1271.0 415.4 1271.2 417.0 1271.3 418.6 1271.4 420.2 1271.6 421.7 1271.7 423.3 1271.9 424.9 1272.0 426.5 1272.1 428.1 1272.3 429.7 1272.4 431.3 1272.5 432.9 1272.7 434.5 1272.8 436.1 1273.0 437.7 1273.1 439.3 1273.2 440.9 1273.4 442.5 1273.5 444.1 1273.7 445.7 1273.8 447.2 1274.0 448.8 1274.1 450.4 1274.2 452.0 1274.4 453.6 1274.5 455.2 1274.7 456.8 1274.8 458.4 1275.2 458.9 1275.5 457.3 1275.8 455.7 1276.1 454.2 1276.4 452.6 1276.6 451.0 1276.9 449.4 1277.1 447.9 1277.4 446.3 1277.6 444.7 1277.8 443.1 1278.0 441.5 1278.3 439.9 1278.5 438.4 1278.7 436.8 1278.9 435.2 1279.1 433.6 1279.3 432.0 1279.5 430.4 1279.7 428.8 1279.8 427.2 1280.0 425.6 1280.2 424.1 1280.3 422.5 1280.5 420.9 1280.7 419.3 1280.8 417.7 1281.0 416.1 1281.1 414.5 1281.3 412.9 1281.4 411.3 1281.6 409.7 1281.7 408.1 1281.9 406.5 1282.0 404.9 1282.2 403.4 1282.3 401.8 1282.4 400.2 1282.6 398.6 1282.7 397.0 1282.9 395.4 1283.0 393.8 1283.1 392.2 1283.3 390.6 1283.4 389.0 1283.5 387.4 1283.7 385.8 1283.8 384.2 1283.9 382.6 1284.1 381.0 1284.2 379.4 1284.4 377.9 1284.5 376.3 1284.6 374.7 1284.8 373.1 1284.9 371.5 1285.1 369.9 1285.2 368.3 1285.4 366.7 1285.5 365.1 1285.7 363.5 1285.9 361.9 1286.0 360.3 1286.2 358.7 1286.4 357.2 1286.6 355.6 1286.7 354.0 1286.9 352.4 1287.1 350.8 1287.3 349.2 1287.5 347.6 1287.7 346.0 1287.9 344.5 1288.1 342.9 1288.4 341.3 1288.6 339.7 1288.8 338.1 1289.1 336.5 1289.3 335.0 1289.5 333.4 1289.8 331.8 1290.1 330.2 1290.4 328.6 1290.7 327.1 1291.0 325.5 1291.3 323.9 1291.6 322.4 1292.0 320.8 1292.4 319.3 1292.8 317.7 1293.2 316.2 1293.6 314.6 1294.1 313.1 1294.6 311.6 1295.1 310.1 1295.6 308.5 1296.2 307.0 1296.7 305.6 1297.3 304.1 1298.0 302.6 1298.7 301.2 1299.4 299.7 1300.1 298.3 1300.8 296.9"/>
</g>
<text><tspan x="275.30" y="56.50" font-size="66.00">0</tspan></text>
<text><tspan x="206.20" y="187.47" font-size="62.00">−</tspan><tspan x="242.20" y="190.37" font-size="66.00">1</tspan><tspan x="275.30" y="190.37" font-size="66.00">0</tspan></text>
<text><tspan x="206.20" y="321.33" font-size="62.00">−</tspan><tspan x="242.20" y="324.23" font-size="66.00">2</tspan><tspan x="275.30" y="324.23" font-size="66.00">0</tspan></text>
<text><tspan x="206.20" y="455.20" font-size="62.00">−</tspan><tspan x="242.20" y="458.10" font-size="66.00">3</tspan><tspan x="275.30" y="458.10" font-size="66.00">0</tspan></text>
<text><tspan x="206.20" y="589.07" font-size="62.00">−</tspan><tspan x="242.20" y="591.97" font-size="66.00">4</tspan><tspan x="275.30" y="591.97" font-size="66.00">0</tspan></text>
<text><tspan x="206.20" y="722.93" font-size="62.00">−</tspan><tspan x="242.20" y="725.83" font-size="66.00">5</tspan><tspan x="275.30" y="725.83" font-size="66.00">0</tspan></text>
<text><tspan x="206.20" y="856.80" font-size="62.00">−</tspan><tspan x="242.20" y="859.70" font-size="66.00">6</tspan><tspan x="275.30" y="859.70" font-size="66.00">0</tspan></text>
<text><tspan x="321.90" y="938.40" font-size="66.00">1</tspan><tspan x="356.20" y="938.40" font-size="66.00">2</tspan></text>
<text><tspan x="479.43" y="938.40" font-size="66.00">1</tspan><tspan x="513.73" y="938.40" font-size="66.00">3</tspan></text>
<text><tspan x="636.97" y="938.40" font-size="66.00">1</tspan><tspan x="671.27" y="938.40" font-size="66.00">4</tspan></text>
<text><tspan x="794.50" y="938.40" font-size="66.00">1</tspan><tspan x="828.80" y="938.40" font-size="66.00">5</tspan></text>
<text><tspan x="952.03" y="938.40" font-size="66.00">1</tspan><tspan x="986.33" y="938.40" font-size="66.00">6</tspan></text>
<text><tspan x="1109.57" y="938.40" font-size="66.00">1</tspan><tspan x="1143.87" y="938.40" font-size="66.00">7</tspan></text>
<text><tspan x="1267.10" y="938.40" font-size="66.00">1</tspan><tspan x="1301.40" y="938.40" font-size="66.00">8</tspan></text>
<text><tspan x="659.60" y="1047.80" font-size="66.80" textLength="62.79" lengthAdjust="spacingAndGlyphs" class="cj">频</tspan><tspan x="726.80" y="1047.80" font-size="66.80" textLength="62.79" lengthAdjust="spacingAndGlyphs" class="cj">率</tspan> <tspan x="817.45" y="1048.40" font-size="73.70" textLength="20.13" lengthAdjust="spacingAndGlyphs">(</tspan><tspan x="840.30" y="1046.20" font-size="68.50" textLength="51.25" lengthAdjust="spacingAndGlyphs">G</tspan><tspan x="891.30" y="1046.00" font-size="68.00" textLength="50.73" lengthAdjust="spacingAndGlyphs">H</tspan><tspan x="941.80" y="1046.20" font-size="64.00" textLength="29.43" lengthAdjust="spacingAndGlyphs">z</tspan><tspan x="973.35" y="1048.40" font-size="73.70" textLength="20.62" lengthAdjust="spacingAndGlyphs">)</tspan></text>
<g transform="translate(138.3 441) rotate(-90)">
<text><tspan x="-113.00" y="0.50" font-size="72.00" textLength="39.06" lengthAdjust="spacingAndGlyphs" class="it">S</tspan><tspan x="-79.70" y="13.90" font-size="37.50">1</tspan><tspan x="-61.00" y="13.90" font-size="37.50">1</tspan> <tspan x="-15.00" y="1.00" font-size="73.70" textLength="19.64" lengthAdjust="spacingAndGlyphs">(</tspan><tspan x="7.80" y="0.30" font-size="67.30" textLength="35.33" lengthAdjust="spacingAndGlyphs">d</tspan><tspan x="44.80" y="0.00" font-size="68.50">B</tspan><tspan x="93.00" y="1.00" font-size="73.70" textLength="19.64" lengthAdjust="spacingAndGlyphs">)</tspan></text>
</g>
<path d="M409.4 1127.6h58.4" stroke="#000000" stroke-width="4.1" stroke-linecap="round" fill="none"/>
<text><tspan x="497.20" y="1146.10" font-size="64.00" class="it">d</tspan><tspan x="526.90" y="1160.90" font-size="33.00" textLength="18.15" lengthAdjust="spacingAndGlyphs">2</tspan><tspan x="543.90" y="1150.30" font-size="62.00" textLength="53.51" lengthAdjust="spacingAndGlyphs">=</tspan><tspan x="597.00" y="1146.10" font-size="66.00" textLength="33.99" lengthAdjust="spacingAndGlyphs">0</tspan> <tspan x="654.20" y="1146.10" font-size="64.00" textLength="109.24" lengthAdjust="spacingAndGlyphs">mm</tspan></text>
<path d="M409.4 1212.5h58.4" stroke="#0000ee" stroke-width="4.1" stroke-linecap="round" fill="none"/>
<text><tspan x="497.20" y="1230.90" font-size="64.00" class="it">d</tspan><tspan x="526.90" y="1245.70" font-size="33.00" textLength="18.15" lengthAdjust="spacingAndGlyphs">2</tspan><tspan x="543.90" y="1235.10" font-size="62.00" textLength="53.51" lengthAdjust="spacingAndGlyphs">=</tspan><tspan x="596.70" y="1230.90" font-size="66.00">1</tspan><tspan x="631.50" y="1230.90" font-size="66.00">.</tspan><tspan x="649.30" y="1230.90" font-size="66.00">0</tspan> <tspan x="705.80" y="1230.90" font-size="64.00" textLength="109.24" lengthAdjust="spacingAndGlyphs">mm</tspan></text>
<path d="M409.4 1297.6h58.4" stroke="#007f00" stroke-width="4.1" stroke-linecap="round" fill="none"/>
<text><tspan x="497.20" y="1315.70" font-size="64.00" class="it">d</tspan><tspan x="526.90" y="1330.50" font-size="33.00" textLength="18.15" lengthAdjust="spacingAndGlyphs">2</tspan><tspan x="543.90" y="1319.90" font-size="62.00" textLength="53.51" lengthAdjust="spacingAndGlyphs">=</tspan><tspan x="597.60" y="1315.70" font-size="66.00">2</tspan><tspan x="631.50" y="1315.70" font-size="66.00">.</tspan><tspan x="649.30" y="1315.70" font-size="66.00">0</tspan> <tspan x="705.80" y="1315.70" font-size="64.00" textLength="109.24" lengthAdjust="spacingAndGlyphs">mm</tspan></text>
<path d="M840.2 1176.1h58.4" stroke="#fa0000" stroke-width="4.1" stroke-linecap="round" fill="none"/>
<text><tspan x="927.80" y="1194.30" font-size="64.00" class="it">d</tspan><tspan x="957.50" y="1209.10" font-size="33.00" textLength="18.15" lengthAdjust="spacingAndGlyphs">2</tspan><tspan x="974.50" y="1198.50" font-size="62.00" textLength="53.51" lengthAdjust="spacingAndGlyphs">=</tspan><tspan x="1028.20" y="1194.30" font-size="66.00">2</tspan><tspan x="1062.10" y="1194.30" font-size="66.00">.</tspan><tspan x="1079.90" y="1194.30" font-size="66.00">5</tspan> <tspan x="1136.40" y="1194.30" font-size="64.00" textLength="109.24" lengthAdjust="spacingAndGlyphs">mm</tspan></text>
<path d="M840.2 1261.1h58.4" stroke="#f8a60e" stroke-width="4.1" stroke-linecap="round" fill="none"/>
<text><tspan x="927.80" y="1279.30" font-size="64.00" class="it">d</tspan><tspan x="957.50" y="1294.10" font-size="33.00" textLength="18.15" lengthAdjust="spacingAndGlyphs">2</tspan><tspan x="974.50" y="1283.50" font-size="62.00" textLength="53.51" lengthAdjust="spacingAndGlyphs">=</tspan><tspan x="1028.20" y="1279.30" font-size="66.00">3</tspan><tspan x="1062.10" y="1279.30" font-size="66.00">.</tspan><tspan x="1079.90" y="1279.30" font-size="66.00">0</tspan> <tspan x="1136.40" y="1279.30" font-size="64.00" textLength="109.24" lengthAdjust="spacingAndGlyphs">mm</tspan></text>
</svg></body></html>
